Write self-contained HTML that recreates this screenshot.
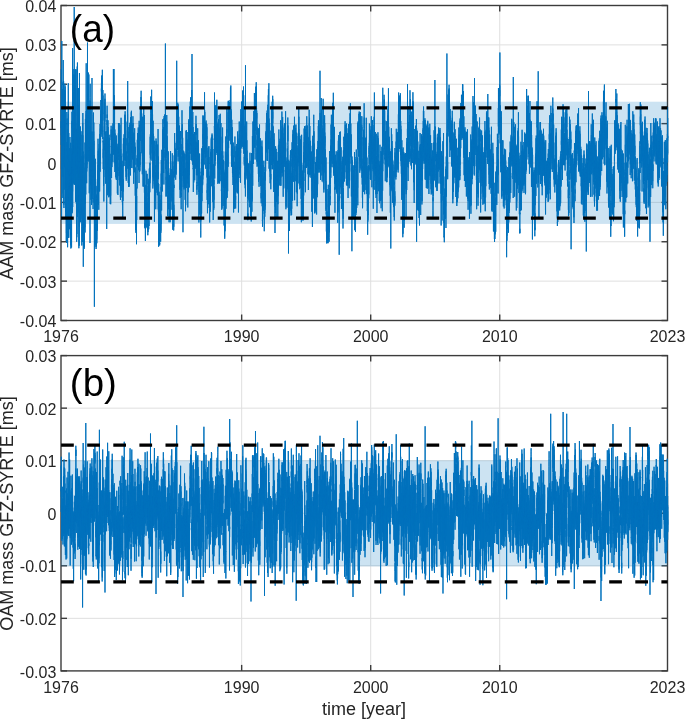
<!DOCTYPE html><html><head><meta charset="utf-8"><style>
html,body{margin:0;padding:0;background:#fff;width:685px;height:719px;overflow:hidden}
svg{display:block;font-family:"Liberation Sans",sans-serif;will-change:transform}
</style></head><body>
<svg width="685" height="719" viewBox="0 0 685 719">
<defs><clipPath id="ca"><rect x="60.20" y="5.50" width="608.10" height="315.00"/></clipPath>
<clipPath id="cb"><rect x="60.20" y="355.60" width="608.10" height="315.30"/></clipPath></defs>

<line x1="61.0" y1="44.88" x2="667.5" y2="44.88" stroke="#dfdfdf"/>
<line x1="61.0" y1="84.25" x2="667.5" y2="84.25" stroke="#dfdfdf"/>
<line x1="61.0" y1="123.62" x2="667.5" y2="123.62" stroke="#dfdfdf"/>
<line x1="61.0" y1="163.00" x2="667.5" y2="163.00" stroke="#dfdfdf"/>
<line x1="61.0" y1="202.38" x2="667.5" y2="202.38" stroke="#dfdfdf"/>
<line x1="61.0" y1="241.75" x2="667.5" y2="241.75" stroke="#dfdfdf"/>
<line x1="61.0" y1="281.13" x2="667.5" y2="281.13" stroke="#dfdfdf"/>
<line x1="241.66" y1="5.5" x2="241.66" y2="320.5" stroke="#dfdfdf"/>
<line x1="370.70" y1="5.5" x2="370.70" y2="320.5" stroke="#dfdfdf"/>
<line x1="499.74" y1="5.5" x2="499.74" y2="320.5" stroke="#dfdfdf"/>
<rect x="61.0" y="5.5" width="606.5" height="315.0" fill="none" stroke="#3c3c3c" stroke-width="1.4"/>
<line x1="61.0" y1="5.50" x2="67.0" y2="5.50" stroke="#3c3c3c" stroke-width="1.4"/>
<line x1="661.5" y1="5.50" x2="667.5" y2="5.50" stroke="#3c3c3c" stroke-width="1.4"/>
<line x1="61.0" y1="44.88" x2="67.0" y2="44.88" stroke="#3c3c3c" stroke-width="1.4"/>
<line x1="661.5" y1="44.88" x2="667.5" y2="44.88" stroke="#3c3c3c" stroke-width="1.4"/>
<line x1="61.0" y1="84.25" x2="67.0" y2="84.25" stroke="#3c3c3c" stroke-width="1.4"/>
<line x1="661.5" y1="84.25" x2="667.5" y2="84.25" stroke="#3c3c3c" stroke-width="1.4"/>
<line x1="61.0" y1="123.62" x2="67.0" y2="123.62" stroke="#3c3c3c" stroke-width="1.4"/>
<line x1="661.5" y1="123.62" x2="667.5" y2="123.62" stroke="#3c3c3c" stroke-width="1.4"/>
<line x1="61.0" y1="163.00" x2="67.0" y2="163.00" stroke="#3c3c3c" stroke-width="1.4"/>
<line x1="661.5" y1="163.00" x2="667.5" y2="163.00" stroke="#3c3c3c" stroke-width="1.4"/>
<line x1="61.0" y1="202.38" x2="67.0" y2="202.38" stroke="#3c3c3c" stroke-width="1.4"/>
<line x1="661.5" y1="202.38" x2="667.5" y2="202.38" stroke="#3c3c3c" stroke-width="1.4"/>
<line x1="61.0" y1="241.75" x2="67.0" y2="241.75" stroke="#3c3c3c" stroke-width="1.4"/>
<line x1="661.5" y1="241.75" x2="667.5" y2="241.75" stroke="#3c3c3c" stroke-width="1.4"/>
<line x1="61.0" y1="281.13" x2="67.0" y2="281.13" stroke="#3c3c3c" stroke-width="1.4"/>
<line x1="661.5" y1="281.13" x2="667.5" y2="281.13" stroke="#3c3c3c" stroke-width="1.4"/>
<line x1="61.0" y1="320.50" x2="67.0" y2="320.50" stroke="#3c3c3c" stroke-width="1.4"/>
<line x1="661.5" y1="320.50" x2="667.5" y2="320.50" stroke="#3c3c3c" stroke-width="1.4"/>
<line x1="241.66" y1="320.5" x2="241.66" y2="314.5" stroke="#3c3c3c" stroke-width="1.4"/>
<line x1="241.66" y1="5.5" x2="241.66" y2="11.5" stroke="#3c3c3c" stroke-width="1.4"/>
<line x1="370.70" y1="320.5" x2="370.70" y2="314.5" stroke="#3c3c3c" stroke-width="1.4"/>
<line x1="370.70" y1="5.5" x2="370.70" y2="11.5" stroke="#3c3c3c" stroke-width="1.4"/>
<line x1="499.74" y1="320.5" x2="499.74" y2="314.5" stroke="#3c3c3c" stroke-width="1.4"/>
<line x1="499.74" y1="5.5" x2="499.74" y2="11.5" stroke="#3c3c3c" stroke-width="1.4"/>
<rect x="61.0" y="101.7" width="606.5" height="122.20" fill="#0072BD" fill-opacity="0.2"/>
<g clip-path="url(#ca)"><path transform="translate(61.0,0) scale(0.035330,0.25)" fill="none" stroke="#0072BD" stroke-width="1.0" vector-effect="non-scaling-stroke" stroke-linejoin="round" d="M0 580l1-95 1 1 1 4 1 22 1-235 1 109 1 35 1 120 1-134 1 9 1 261 1-52 1-40 1 44 1 19 1 231 1-140 1-177 1 145 1-69 1 33 1 19 1-526 1 610 1-130 1 52 1 10 1-48 1-68 1 41 1 36 1-191 1 316 1-200 1-60 1 61 1-14 1-89 1-85 1 70 1-26 1 228 1-110 1 81 1-192 1 119 1-185 1-9 1 88 1 122 1-235 1 102 1-99 1 26 1-23 1 0 1 125 1 69 1-75 1-154 1 57 1-42 1-102 1 124 1 123 1 44 1 30 1-182 1 112 1 93 1-70 1-3 1-14 1-172 1 180 1 28 1 132 1-42 1 40 1 156 1-267 1 241 1-2 1 41 1-246 1-4 1-98 1 72 1 203 1-118 1-91 1 74 1-163 1 87 1 86 1-76 1-151 1 75 1 38 1 41 1-201 1 247 1-49 1-84 1 76 1-67 1 156 1 29 1 2 1-43 1-292 1 239 1 47 1-3 1-20 1-65 1 74 1-261 1 192 1 46 1-223 1 225 1 91 1-235 1 53 1 108 1-228 1 409 1-97 1 48 1 114 1-159 1 104 1-9 1 85 1-153 1 43 1 38 1 7 1-120 1-57 1 87 1 24 1 69 1-62 1-72 1 130 1-138 1 298 1-324 1 209 1-20 1 77 1 26 1-62 1-84 1 185 1-103 1-81 1-123 1 65 1-161 1 38 1-15 1 183 1-326 1 133 1 51 1-12 1 158 1-186 1 40 1-37 1-121 1 113 1 29 1-17 1 143 1-30 1 122 1-17 1-85 1 163 1-115 1 58 1-39 1 190 1-66 1-172 1-49 1 25 1-210 1 57 1-33 1 43 1 96 1-114 1 148 1 43 1-84 1 75 1-160 1-29 1 75 1-105 1-196 1 149 1 21 1-47 1 86 1 114 1 133 1-91 1 113 1-129 1 267 1-7 1-115 1 125 1-420 1 180 1 153 1-114 1 49 1 114 1-150 1-27 1 27 1-166 1 150 1-63 1 105 1-35 1 1 1-93 1 167 1 33 1-104 1-23 1 77 1-219 1 141 1-141 1 323 1-156 1 88 1 59 1-63 1-36 1-1 1-122 1-24 1-114 1 210 1-61 1 151 1-73 1-99 1 67 1 170 1-156 1-60 1 21 1 4 1 136 1-174 1 72 1-110 1 146 1-99 1 23 1 2 1-147 1 306 1-95 1 198 1-147 1 104 1 57 1-245 1 53 1 68 1 112 1-73 1-59 1-210 1 214 1-105 1-55 1 93 1 85 1-51 1 40 1-117 1-5 1 54 1 182 1-181 1 196 1-105 1-125 1-87 1-80 1 131 1-53 1-54 1 26 1-86 1-68 1-42 1 66 1-2 1-28 1 136 1-79 1-50 1 363 1-148 1-89 1-107 1 251 1-106 1 168 1-152 1 117 1 59 1-119 1-535 1 574 1-89 1 151 1-199 1 53 1-31 1 36 1 52 1-27 1-59 1 32 1-232 1-48 1 41 1 273 1-48 1-56 1 45 1-45 1 30 1 49 1-17 1-165 1-22 1 59 1 113 1 72 1-211 1 115 1-90 1-7 1-126 1-46 1 110 1-182 1 117 1-138 1 90 1 56 1 54 1 121 1-26 1-35 1 52 1 13 1-573 1 573 1-29 1-34 1 31 1-25 1 152 1 43 1-260 1 72 1-101 1 65 1-173 1 161 1 4 1-61 1-147 1 129 1 168 1-63 1-45 1-69 1 42 1 154 1-131 1 67 1-60 1-17 1 38 1-180 1 26 1 43 1 65 1-122 1 44 1 141 1-108 1 161 1 225 1-48 1-141 1-136 1 134 1 6 1-345 1 185 1-109 1 180 1 23 1-174 1-104 1 111 1 167 1 242 1-43 1-225 1 159 1-26 1 84 1 68 1-123 1-49 1 19 1-17 1-130 1 14 1 74 1 11 1 276 1 19 1 58 1-89 1-73 1 144 1-152 1 139 1-108 1 34 1-51 1-35 1-92 1 9 1-159 1 141 1-79 1-330 1 263 1-40 1 69 1-178 1-16 1-114 1 252 1 91 1 7 1-3 1 271 1-179 1-172 1-95 1 94 1 2 1 188 1 83 1-140 1 67 1 32 1-57 1-141 1 162 1-144 1-3 1-65 1-80 1 172 1-88 1 6 1-158 1 174 1 26 1 219 1-185 1 83 1 182 1-106 1 42 1-105 1 28 1-49 1-14 1 30 1 138 1 178 1-300 1 35 1 23 1 34 1 16 1 22 1-11 1-45 1 216 1-3 1-18 1-181 1 126 1-198 1 73 1-490 1 399 1 176 1-27 1-24 1-74 1-59 1 14 1-28 1 115 1-133 1 97 1-57 1 59 1-54 1-2 1 11 1-168 1 127 1-93 1 75 1 25 1 127 1-106 1-11 1 80 1-17 1-54 1-7 1-131 1-46 1 148 1 195 1 40 1-73 1 19 1-39 1 81 1-3 1-96 1 93 1-43 1-109 1 8 1 69 1-92 1-165 1 13 1 54 1 143 1-59 1 31 1-8 1-89 1 84 1-21 1 171 1-60 1 23 1-12 1-95 1 126 1-84 1-43 1 127 1-19 1 85 1 76 1-151 1-191 1 46 1-161 1 227 1-92 1 80 1 15 1-90 1 33 1-28 1-13 1 112 1 119 1 80 1-218 1 6 1-61 1 205 1-183 1-50 1 41 1-34 1-95 1-87 1 254 1-169 1-36 1 72 1-161 1 268 1-27 1-6 1 162 1-66 1-77 1-31 1-52 1 291 1-308 1 37 1 424 1-325 1-41 1 48 1-118 1 119 1 208 1-224 1 90 1 69 1-136 1 29 1 43 1-84 1 120 1 66 1 52 1 9 1-248 1 199 1-77 1 116 1-29 1 43 1-3 1-3 1-115 1 47 1-33 1-34 1 42 1 90 1-158 1 114 1-57 1-24 1-148 1 168 1-174 1 56 1-67 1 1 1 148 1 63 1-162 1-76 1 49 1-150 1 166 1 79 1-22 1 137 1-258 1-20 1 147 1-131 1-51 1 17 1-12 1-51 1-95 1 305 1-129 1-69 1-83 1 86 1 89 1 18 1-42 1-55 1 147 1 35 1-187 1 16 1 39 1 15 1-24 1 55 1-107 1 54 1-195 1 50 1-241 1 350 1-123 1-23 1 201 1-32 1-54 1-120 1 125 1-102 1 38 1-27 1-59 1 171 1 135 1-79 1 32 1-11 1-186 1 133 1 51 1-40 1-157 1 181 1-12 1-109 1-70 1-17 1 150 1-93 1 55 1-33 1-71 1 173 1 3 1 11 1-133 1-341 1 350 1-140 1 117 1 61 1-63 1 116 1 11 1-68 1-198 1 225 1-164 1-43 1 55 1 8 1 55 1-5 1 14 1-126 1 35 1 5 1 20 1 71 1-216 1 191 1 4 1 32 1 21 1-4 1 5 1 37 1-110 1 37 1-29 1-40 1 212 1-211 1 0 1-3 1-134 1 106 1 86 1 149 1-124 1 39 1 57 1 11 1 23 1-9 1 64 1 73 1-36 1-56 1-112 1 34 1 3 1 99 1-46 1-154 1 200 1-96 1 55 1-56 1-58 1 68 1-125 1-74 1 129 1 20 1-60 1 167 1 297 1-570 1 8 1 17 1-37 1-55 1 103 1 201 1-25 1-97 1 74 1 12 1-13 1 54 1-62 1-78 1 67 1-30 1 107 1 92 1-59 1 46 1-7 1-150 1 38 1 66 1 125 1-59 1-198 1-101 1 129 1 48 1 140 1-18 1-78 1-73 1 8 1 1 1 82 1 31 1 23 1-138 1 168 1-13 1 69 1-116 1 36 1-29 1-60 1-44 1-81 1 76 1-41 1 62 1 39 1-22 1-328 1 445 1-74 1 31 1 23 1-81 1 103 1 22 1-98 1 113 1-66 1-27 1-44 1-74 1 96 1 67 1-46 1-72 1-41 1-19 1 18 1 45 1-65 1 20 1 25 1-72 1-14 1 65 1 48 1 16 1 105 1 75 1-43 1 17 1-9 1-65 1-61 1 36 1-70 1-182 1 78 1-87 1 80 1-56 1 156 1 31 1-88 1 9 1-56 1 9 1 95 1 14 1-154 1 43 1 98 1-68 1 109 1 125 1-98 1-28 1-51 1 84 1-7 1 41 1-69 1-9 1 96 1 34 1 437 1-558 1-27 1 115 1 78 1-177 1 141 1 188 1-57 1-9 1 46 1 21 1-78 1-22 1-5 1 61 1-40 1-77 1 1 1 76 1-102 1-88 1-39 1 9 1 6 1 141 1-135 1-61 1 58 1 3 1 60 1 73 1 140 1-88 1-43 1 82 1-50 1-5 1 42 1 60 1 12 1-73 1-60 1 27 1 7 1 3 1 99 1 4 1 10 1-12 1-13 1 16 1-15 1-56 1-48 1-17 1 84 1-104 1 55 1 3 1 85 1-73 1-105 1 89 1 41 1 10 1 22 1-131 1 92 1-142 1 196 1-38 1-151 1 18 1 19 1-19 1-8 1-49 1 53 1 89 1-144 1 99 1-88 1 11 1-7 1-41 1 206 1-197 1 75 1-32 1-88 1 108 1 4 1-32 1-30 1-19 1-26 1 120 1-72 1-19 1-96 1 1 1-20 1-45 1 72 1 109 1-76 1 8 1 40 1-105 1 105 1 13 1 89 1-52 1 19 1 42 1-65 1 8 1-150 1 134 1-121 1 10 1-23 1 22 1-17 1 222 1-170 1-43 1 18 1-50 1 84 1-21 1-22 1 76 1 2 1-27 1-34 1 1 1-77 1 97 1 72 1-106 1-64 1 71 1 16 1 3 1 50 1-58 1-121 1 230 1-130 1-22 1 49 1-46 1 35 1-76 1 4 1 35 1 10 1-11 1-24 1-94 1 123 1 68 1-89 1 40 1-46 1-61 1-17 1 7 1 56 1-37 1-53 1 10 1 64 1 10 1-4 1-104 1-6 1 80 1-63 1-53 1-11 1-10 1 82 1-7 1 24 1 38 1-9 1-68 1-18 1 105 1-69 1-15 1 62 1-108 1 1 1-33 1-31 1 12 1-35 1 99 1 0 1 35 1-34 1 2 1-30 1-101 1 41 1-27 1 38 1-30 1 19 1-20 1-11 1 27 1-15 1 38 1-33 1 66 1 54 1-97 1 99 1-44 1-91 1-37 1 81 1-21 1 50 1 36 1 8 1-12 1-11 1 41 1 71 1 4 1-4 1 34 1-98 1-7 1 31 1-122 1 95 1-73 1 57 1 77 1 33 1 20 1-3 1-4 1 114 1-106 1-6 1 67 1-36 1 40 1-25 1 69 1 38 1-38 1-16 1 80 1-61 1-4 1-31 1-62 1 123 1-42 1 140 1-156 1-67 1-24 1-6 1-5 1 33 1 25 1 73 1-50 1-34 1-24 1 29 1-49 1-11 1-35 1 34 1-24 1-53 1-53 1 124 1-57 1-64 1 26 1-12 1 19 1 41 1-14 1-40 1-37 1 1 1 76 1-98 1 37 1 18 1 10 1 51 1 31 1 27 1-8 1 45 1-59 1 78 1-63 1 4 1-10 1 68 1-47 1 75 1 9 1-15 1-43 1 37 1-11 1 127 1-73 1-97 1 97 1-23 1 94 1-99 1 22 1-47 1-49 1 15 1 27 1 126 1-68 1 29 1 4 1-16 1-94 1 62 1-6 1-59 1 53 1 74 1-51 1-9 1-33 1-60 1 362 1-297 1-95 1 22 1 49 1-16 1 28 1-27 1-100 1 21 1-28 1-50 1 49 1-14 1 103 1-58 1 68 1 61 1 149 1-97 1-12 1-59 1-17 1-6 1 59 1-12 1-59 1-20 1 108 1-43 1-64 1 1 1 117 1-26 1-10 1-85 1-75 1 102 1-75 1 43 1 40 1-13 1 30 1-37 1-9 1 12 1 15 1 21 1-8 1 93 1-13 1-68 1 81 1 56 1-14 1 52 1-64 1-40 1 41 1 26 1 19 1-72 1 9 1-34 1 19 1-26 1-56 1 50 1-94 1-28 1 119 1 4 1-11 1 66 1-75 1 144 1-149 1-15 1-71 1 96 1-42 1 40 1 3 1 36 1-67 1 54 1 47 1-11 1-14 1-20 1 50 1-18 1-34 1 88 1 5 1 14 1-73 1 11 1-14 1 102 1 12 1-120 1 20 1 34 1-32 1 74 1-120 1 30 1 5 1-1 1 77 1-7 1-56 1 97 1-35 1-17 1-49 1-15 1-86 1 12 1 50 1-91 1 2 1-12 1-5 1-68 1 57 1-42 1 31 1-12 1 127 1-34 1 22 1-21 1 53 1-127 1 108 1 42 1 5 1-85 1 39 1 3 1-62 1 36 1-22 1 47 1-18 1-69 1-17 1 39 1-2 1-77 1 23 1 27 1 10 1 6 1-44 1 10 1 31 1-54 1 26 1 69 1-96 1 50 1-45 1 35 1-42 1 7 1 33 1-47 1 72 1 22 1-17 1-78 1-15 1 85 1 57 1-85 1-71 1 59 1-27 1 93 1-11 1-66 1 17 1 60 1-120 1 79 1-56 1-245 1 323 1-20 1 16 1-80 1-18 1 0 1 12 1-36 1 35 1 15 1-79 1-64 1 3 1 28 1-12 1 101 1-224 1 149 1 47 1-91 1 74 1 33 1-30 1 7 1 37 1-26 1 30 1-13 1 14 1 14 1 99 1-56 1-147 1 233 1-132 1 74 1 34 1-36 1-11 1-61 1 32 1 138 1-71 1-69 1 13 1 7 1-34 1 52 1 7 1 22 1-11 1-7 1 39 1-65 1 94 1-44 1-8 1-44 1 22 1 4 1 3 1-32 1 9 1 72 1 17 1 11 1 5 1-76 1 32 1 72 1-92 1-46 1 32 1 11 1 13 1 53 1-38 1 77 1-77 1 41 1 30 1-83 1-87 1 59 1 75 1-121 1 7 1 108 1 35 1-50 1-23 1-11 1-33 1 90 1-11 1-17 1 18 1 52 1-78 1-35 1-7 1 110 1-50 1-70 1 34 1-49 1 90 1-80 1 42 1 49 1 61 1 37 1-41 1-116 1 18 1-8 1 76 1-49 1-58 1 88 1 6 1-36 1 52 1 14 1-13 1-19 1 54 1 38 1-111 1 3 1 33 1-49 1-15 1-28 1 26 1-8 1-51 1 4 1-12 1-34 1-5 1 83 1-124 1 43 1-3 1 5 1-38 1 37 1-12 1 73 1-23 1 38 1-36 1 29 1-67 1 35 1-47 1 158 1-53 1 8 1-36 1-84 1 107 1-134 1 26 1-12 1 115 1-22 1-26 1 54 1 75 1-98 1 93 1-61 1 45 1 10 1-52 1 103 1-119 1-81 1 53 1-45 1-30 1 160 1-181 1 60 1 70 1 59 1 9 1 29 1-45 1-11 1 13 1-66 1 3 1 74 1-4 1 99 1-88 1 99 1-105 1-82 1 81 1 9 1-62 1 15 1 30 1-90 1 6 1 22 1 22 1 24 1 78 1-21 1-3 1-29 1-224 1 268 1 13 1-128 1 64 1 26 1-69 1 29 1 36 1-42 1 96 1-38 1-27 1 48 1-12 1 20 1-66 1 22 1 7 1 7 1-26 1-27 1 10 1 24 1-29 1 42 1 10 1 61 1-35 1-62 1 67 1-103 1 104 1-18 1-1 1 59 1 7 1-5 1-6 1 0 1 24 1-59 1 6 1-48 1 45 1-28 1 99 1 24 1 11 1-79 1-32 1-81 1-36 1 81 1 80 1-43 1-12 1-14 1-19 1 8 1 42 1-152 1 39 1 3 1-16 1-65 1 53 1-75 1 63 1 35 1-21 1-46 1 52 1 23 1 6 1-41 1 32 1 6 1-15 1-80 1 77 1 20 1-44 1-28 1-19 1-36 1 49 1-24 1 61 1-5 1 1 1 1 1-12 1-21 1 27 1-9 1-54 1-17 1 19 1 88 1-62 1-10 1-88 1 56 1-29 1-14 1 67 1-99 1 37 1-27 1-14 1 7 1 39 1 0 1 34 1-93 1 13 1 48 1-2 1 36 1 29 1-107 1 19 1 19 1 57 1 0 1 43 1 18 1-57 1 60 1-100 1 122 1-28 1-19 1-41 1 39 1 46 1-22 1 67 1-76 1 24 1-8 1 53 1-17 1 47 1-26 1 41 1-4 1-42 1-29 1-3 1 71 1-87 1 17 1-22 1-10 1 3 1-12 1 98 1 4 1-4 1-14 1-64 1-3 1 50 1-34 1 2 1-2 1-85 1 29 1-15 1-9 1-35 1-37 1 34 1 22 1 18 1 54 1-99 1-24 1 17 1-8 1-83 1 194 1-156 1 55 1 81 1 1 1-268 1 183 1 32 1 4 1 2 1 49 1 62 1 4 1 16 1-50 1 14 1-67 1 7 1 45 1 48 1-40 1 99 1-58 1-59 1 75 1 36 1-31 1 5 1-12 1-24 1 31 1-12 1 65 1-43 1-57 1-53 1 85 1-64 1 64 1-172 1 44 1-25 1 78 1-31 1-4 1 54 1 123 1-130 1 47 1-64 1 4 1 20 1-22 1-20 1-65 1-16 1 85 1-33 1 0 1 19 1-47 1 0 1 84 1 55 1-27 1-13 1-71 1-62 1 124 1-60 1 10 1 16 1-51 1 13 1 97 1-19 1 22 1 23 1-6 1 13 1-26 1 45 1 10 1-59 1-20 1-51 1-10 1-51 1 41 1-18 1-64 1 96 1-11 1-76 1-11 1 23 1 82 1 75 1-94 1-40 1 19 1 4 1-5 1 13 1-64 1 84 1-116 1 88 1-54 1-40 1 65 1 15 1 42 1 19 1-70 1 81 1-82 1 43 1 66 1 50 1-58 1-19 1-12 1 27 1-79 1 7 1 75 1-28 1 35 1-13 1-24 1-32 1 82 1-49 1 18 1 23 1-64 1 2 1 69 1-49 1-11 1 59 1 7 1-138 1 103 1-14 1-21 1-20 1 8 1-52 1 36 1-45 1-15 1-15 1 40 1-13 1 48 1 39 1-49 1 96 1 46 1-86 1 22 1 25 1-82 1 77 1 49 1-51 1-24 1 44 1-21 1-37 1 8 1 123 1 16 1-92 1 1 1 23 1-79 1 50 1 12 1-78 1-40 1 5 1 73 1-14 1 1 1 44 1 28 1-57 1-63 1 43 1 29 1-8 1 6 1 43 1 27 1-1 1-99 1 35 1-22 1-19 1-70 1 88 1 8 1-8 1 12 1-43 1 38 1-16 1-2 1 6 1 13 1 37 1 13 1-72 1 64 1 35 1 64 1 33 1-113 1 53 1 13 1 12 1 7 1 93 1-27 1 35 1 64 1-83 1 43 1-73 1-19 1 30 1 36 1 77 1-4 1-8 1-69 1 45 1-45 1 26 1-52 1-34 1 21 1 28 1-27 1-63 1 125 1-58 1 92 1-4 1-51 1-41 1 165 1-64 1-22 1-76 1-17 1-14 1 96 1-105 1-24 1-18 1-32 1-42 1-9 1-17 1 30 1 91 1-1 1-54 1-4 1-50 1-24 1 40 1-102 1 95 1-1 1 14 1-28 1 2 1-7 1 14 1-13 1 3 1-106 1 34 1 40 1-13 1-43 1 79 1 22 1-29 1-39 1-20 1 24 1-5 1-19 1 65 1-80 1-13 1-22 1-3 1 27 1 47 1-18 1-9 1 104 1-62 1-13 1 63 1 32 1-70 1-18 1 15 1 8 1-9 1-44 1-37 1 69 1-11 1 31 1-26 1-43 1 62 1 124 1-194 1 32 1-87 1 60 1-28 1 38 1 24 1-37 1 40 1 33 1-90 1-24 1 135 1 1 1-2 1 55 1-1 1-40 1 21 1-34 1-30 1-27 1-35 1 141 1-75 1 30 1-6 1 15 1 4 1 9 1-51 1 27 1-72 1-8 1-43 1 51 1-89 1-49 1 116 1-91 1 99 1-97 1-6 1 9 1 41 1-18 1-39 1 31 1-21 1-13 1 25 1-46 1 99 1 4 1-131 1 12 1 33 1-43 1-27 1 57 1 53 1-25 1 38 1-23 1 36 1-4 1 30 1-4 1-62 1-1 1 37 1-9 1 1 1 17 1-45 1-5 1 98 1 21 1-14 1 54 1-42 1-85 1-20 1 45 1 6 1 36 1-7 1-28 1 88 1-20 1-48 1 159 1-162 1 70 1-4 1 24 1-42 1 8 1 52 1-25 1 5 1-44 1-108 1 73 1-62 1-14 1 110 1 43 1 62 1-120 1 50 1-5 1-50 1 38 1 98 1 52 1-91 1 20 1 6 1 65 1-69 1-78 1 50 1-50 1-1 1-64 1 80 1 33 1 24 1-73 1-22 1-114 1-31 1 142 1 57 1 35 1-29 1-31 1-23 1-91 1-5 1-17 1 115 1 38 1-47 1 37 1 38 1 24 1 45 1-259 1 268 1 43 1-36 1 7 1 11 1-6 1 12 1-71 1-11 1 17 1 69 1 59 1 45 1 46 1-21 1 15 1-164 1 72 1 40 1-72 1 32 1 14 1 31 1-65 1 42 1-62 1-2 1 87 1 6 1 98 1-89 1 64 1 18 1-65 1 10 1-74 1 86 1-64 1-84 1 6 1 85 1-57 1-28 1 10 1-41 1 28 1-34 1-52 1 106 1-50 1 35 1-18 1 21 1 28 1 88 1-70 1 87 1-142 1 16 1 18 1 77 1-11 1-69 1 0 1 81 1-74 1-39 1 100 1-97 1 26 1-49 1-51 1 41 1-42 1 119 1 74 1-36 1 11 1-4 1 5 1-24 1-31 1 21 1 35 1-54 1 6 1 15 1-12 1 10 1 47 1-16 1-48 1 24 1 55 1 17 1-101 1 110 1-11 1 34 1-39 1 15 1-6 1 17 1-79 1-56 1 53 1-73 1-29 1 43 1-72 1 48 1 25 1-18 1-2 1-29 1-16 1 14 1 11 1 46 1 39 1-66 1 17 1 41 1 92 1-183 1 170 1-22 1 22 1-40 1-71 1-50 1 9 1-19 1 74 1-55 1 43 1 10 1 3 1-36 1 13 1-111 1 193 1-105 1 7 1-26 1-9 1 20 1-2 1-65 1 33 1 3 1-52 1 5 1 7 1 39 1 47 1-92 1-26 1 82 1-12 1-34 1-5 1 32 1-58 1 2 1-111 1 72 1-22 1-60 1 12 1 84 1-50 1-6 1 27 1-8 1 23 1 14 1-106 1 61 1-74 1-22 1-106 1 68 1 88 1 71 1-113 1 139 1-148 1-17 1 18 1-2 1 25 1-33 1 10 1 61 1-63 1 37 1 49 1-27 1 20 1-60 1-2 1-64 1 5 1-50 1-39 1 76 1-15 1 58 1 1 1 67 1-21 1-93 1 50 1 43 1-22 1 75 1-37 1-47 1 62 1 88 1-35 1-109 1-40 1 29 1-55 1 63 1-23 1-70 1 89 1 9 1-45 1 4 1 70 1 46 1 38 1 0 1 7 1-15 1 18 1 129 1-181 1 43 1-30 1 85 1-6 1 43 1-76 1-149 1 91 1 79 1 61 1-72 1 22 1-9 1-58 1-62 1 103 1-7 1 6 1 1 1-3 1 11 1-75 1-26 1 22 1 14 1 29 1 58 1 55 1-119 1-11 1-31 1 1 1 77 1 34 1-34 1 6 1 2 1 89 1-68 1 77 1-116 1-19 1-6 1 282 1-141 1 3 1-51 1-17 1-9 1 50 1-76 1 64 1-71 1 28 1-103 1 50 1 112 1 76 1-19 1 4 1-53 1 34 1-18 1-63 1 92 1-36 1 26 1-27 1-3 1 20 1-20 1 50 1-102 1 25 1 49 1-19 1-9 1-1 1 43 1 0 1 62 1-17 1-109 1-48 1-3 1 22 1-17 1 18 1-129 1 47 1-22 1 34 1 32 1-15 1-33 1 27 1-59 1 57 1-39 1 112 1 16 1-6 1-17 1 72 1-82 1 6 1-103 1 147 1-57 1 71 1-85 1 44 1 31 1-56 1 95 1-60 1-28 1 48 1-30 1 12 1 28 1-19 1-31 1 48 1 1 1 35 1 6 1-53 1 43 1 9 1-46 1-31 1-50 1 26 1-101 1 63 1 75 1-72 1-8 1 82 1-53 1-41 1 81 1-76 1 47 1-160 1 134 1 66 1-18 1-9 1 149 1-17 1-64 1-24 1 3 1 0 1 111 1-80 1 144 1-136 1-6 1 218 1-165 1-43 1-43 1 39 1 74 1-56 1 34 1-10 1 63 1-37 1-14 1 11 1 20 1-93 1 3 1 60 1 45 1-31 1 25 1 5 1 90 1-7 1-2 1-17 1-24 1 33 1 15 1 5 1 15 1-10 1 5 1-17 1-32 1 1 1-46 1-103 1 36 1 96 1 5 1 4 1 23 1-76 1 58 1-125 1 66 1-69 1 90 1 31 1 15 1-40 1-78 1 68 1-18 1 11 1-27 1-24 1 48 1 93 1-86 1 41 1-53 1-2 1-10 1 69 1 5 1-68 1 33 1-5 1-43 1-13 1-10 1-78 1 90 1-143 1 65 1-119 1 192 1-17 1-42 1-88 1 48 1 28 1 25 1-4 1 60 1-92 1-6 1-71 1 28 1-72 1-30 1 55 1 3 1 68 1-36 1-27 1-5 1 58 1-24 1 27 1-13 1 5 1 32 1 24 1-56 1-18 1 5 1-69 1 93 1-14 1 29 1-55 1-76 1 52 1-139 1 87 1-32 1-12 1 46 1-130 1 37 1 45 1 36 1 19 1-43 1-13 1 38 1-24 1-1 1 40 1-4 1-82 1 82 1-27 1 50 1-120 1 124 1-86 1-40 1 82 1-15 1-54 1 151 1 20 1-92 1 9 1 34 1-34 1 35 1 94 1-168 1-51 1-46 1 5 1 17 1-31 1 66 1 60 1-27 1 6 1-27 1-8 1 41 1 16 1-28 1 10 1-64 1 46 1-97 1 56 1-3 1 0 1-36 1 29 1 78 1-5 1-17 1 46 1 24 1-72 1-11 1-48 1 81 1-41 1-51 1 87 1-20 1-44 1 29 1-20 1 56 1-402 1 365 1 64 1 12 1-33 1 51 1-76 1 14 1 63 1 42 1-61 1-7 1-33 1 19 1-39 1 80 1 17 1 91 1 4 1 40 1-93 1-29 1 54 1-12 1 77 1-143 1 54 1-62 1-94 1 7 1-45 1-8 1 32 1 69 1-57 1 79 1-35 1-39 1 81 1-163 1 58 1 17 1-35 1-14 1 92 1 37 1-50 1-20 1 16 1 0 1 44 1-15 1 97 1-4 1 44 1-7 1 32 1 0 1-40 1 26 1-18 1 24 1-56 1 107 1-14 1 84 1-162 1 45 1-30 1 14 1 2 1-36 1 34 1 45 1-173 1 10 1 68 1-22 1-51 1 7 1 35 1 22 1 69 1-43 1-8 1 146 1-203 1 12 1 76 1-30 1 33 1 17 1 8 1-23 1-36 1 27 1-45 1 80 1 21 1-19 1-11 1 81 1-38 1-20 1 122 1-49 1-17 1-37 1 43 1 0 1-49 1-68 1 72 1-65 1 36 1 40 1-94 1 12 1 26 1-1 1 93 1-11 1 27 1 32 1-20 1-47 1 16 1 38 1-83 1-16 1-16 1 53 1-58 1 60 1-60 1 143 1-64 1-13 1-65 1 76 1 12 1-58 1 17 1-90 1 43 1-10 1-133 1 31 1 49 1 52 1-92 1 45 1 48 1 14 1 34 1 22 1-31 1-18 1 45 1-4 1-119 1 57 1-47 1-11 1-2 1 36 1-14 1 75 1-56 1 28 1-25 1 56 1-66 1 46 1 34 1-94 1 72 1-44 1 32 1 18 1-37 1-27 1 6 1-25 1 93 1 9 1 45 1-23 1-2 1-63 1-69 1 23 1 30 1-58 1 6 1-70 1 89 1 2 1-53 1 104 1 57 1 10 1 47 1-61 1-32 1-35 1-46 1 76 1 148 1-208 1 80 1-83 1-22 1 21 1-61 1 54 1 52 1 7 1-75 1 53 1-51 1 82 1-51 1-8 1 57 1 75 1 4 1-57 1 65 1 53 1-51 1-47 1 58 1-35 1 15 1 76 1-57 1 42 1-88 1 4 1 17 1 19 1 14 1-89 1-45 1 13 1-26 1-25 1-37 1 42 1-85 1 89 1-55 1-29 1-4 1 11 1 22 1-20 1 16 1-62 1-7 1-34 1-16 1 70 1-30 1 66 1 57 1-2 1-67 1 52 1-5 1 24 1-84 1 50 1-48 1 50 1-38 1-26 1 49 1-11 1 20 1 5 1-22 1 26 1-36 1-19 1 57 1-66 1 0 1 0 1-9 1 25 1 99 1-98 1 57 1-70 1 10 1 76 1-78 1-5 1 56 1 31 1 1 1-37 1 14 1-69 1-36 1 73 1-53 1 6 1 68 1-68 1-32 1 92 1-146 1 52 1 38 1 4 1 35 1-61 1-336 1 317 1-54 1 87 1-57 1-57 1 43 1 9 1-78 1 20 1 55 1-70 1 103 1 14 1-33 1-50 1 49 1-52 1 24 1 15 1 72 1-40 1-108 1 11 1 38 1 22 1-34 1-39 1 14 1-19 1-34 1 80 1-48 1-5 1-21 1 112 1 26 1 45 1-5 1 15 1 36 1-43 1 24 1-100 1-108 1 65 1-23 1-27 1 41 1 121 1-87 1-39 1 111 1-42 1 1 1-31 1 36 1 13 1-91 1 51 1 1 1 16 1 23 1 9 1 54 1-25 1 22 1-4 1-21 1-17 1-38 1 14 1 30 1-22 1-23 1-35 1 112 1 24 1-49 1 38 1 19 1-14 1 41 1 39 1-81 1-15 1 100 1-73 1 22 1-57 1 71 1 80 1-17 1-70 1-23 1-36 1 78 1 101 1-101 1 9 1 6 1-65 1-26 1-48 1 12 1-55 1 21 1 6 1 46 1 43 1 1 1 14 1 43 1 54 1-7 1 34 1-91 1-84 1 69 1-26 1 57 1-39 1 36 1 81 1 17 1 22 1 16 1-66 1 17 1-113 1 46 1-37 1 68 1-71 1-1 1 12 1 67 1 6 1-99 1 10 1 48 1-61 1-37 1 123 1-94 1-79 1 7 1 35 1-56 1-45 1-76 1 113 1-37 1-2 1-4 1 102 1 36 1-75 1-77 1 28 1 1 1 73 1 24 1 5 1-49 1 13 1-5 1 13 1 14 1-63 1 51 1 28 1-17 1-6 1 97 1-4 1-26 1-20 1 275 1-273 1-54 1 28 1 23 1 29 1-2 1-7 1-46 1-3 1 14 1-26 1 27 1 75 1-30 1-16 1-16 1 26 1-40 1 24 1 25 1-34 1 80 1-64 1-3 1-43 1-17 1 31 1 95 1 6 1 20 1-31 1 22 1-44 1-12 1 17 1-81 1 31 1-46 1 50 1 18 1 28 1-46 1 28 1 1 1 59 1-27 1-47 1 15 1 22 1-50 1-12 1 21 1 10 1 54 1-20 1-36 1 33 1-3 1 9 1-15 1 27 1 67 1-85 1 20 1-17 1-45 1 51 1 73 1-30 1-13 1 26 1 65 1-82 1 1 1-12 1 24 1 45 1-85 1 5 1-41 1-4 1-22 1 61 1-70 1-142 1 116 1-23 1 78 1-60 1-14 1 25 1 29 1-52 1-48 1 3 1-57 1 80 1-3 1 10 1 117 1-56 1-45 1 27 1 102 1-53 1 7 1-30 1 38 1 18 1-61 1-44 1 4 1-74 1 64 1-52 1 0 1 34 1-75 1 82 1 6 1-17 1-2 1-25 1-9 1 62 1-50 1 49 1 69 1 20 1-56 1-8 1 2 1 16 1 12 1 36 1 115 1-124 1-16 1-17 1 62 1-50 1 32 1-35 1-14 1-58 1 91 1 14 1-10 1-54 1 59 1-27 1 86 1-61 1-102 1-30 1 24 1-40 1-9 1-31 1 25 1-62 1 86 1-35 1-23 1 17 1-51 1 62 1 22 1 45 1-90 1 185 1-43 1-37 1 32 1 7 1 19 1 71 1-126 1 50 1-99 1 34 1-2 1-32 1 40 1-22 1-14 1-84 1 40 1 36 1-75 1-70 1 46 1 95 1-31 1 14 1-55 1 66 1 79 1-38 1-74 1 22 1 31 1-23 1 57 1-84 1-60 1-65 1 37 1 60 1-66 1 86 1-23 1 55 1-71 1-10 1-85 1 83 1 8 1 17 1-7 1 35 1-58 1-1 1-41 1 13 1 32 1 13 1 95 1-55 1-23 1 41 1-7 1-20 1 1 1 40 1-1 1-50 1 20 1 70 1-20 1 67 1-96 1 74 1-104 1-81 1 45 1-17 1-2 1-6 1-94 1 83 1 5 1-48 1-16 1-168 1 151 1 152 1-49 1 64 1 37 1-14 1 89 1-48 1-68 1 23 1 31 1-1 1 26 1-48 1-49 1 71 1 25 1-24 1 14 1-8 1-19 1-24 1-99 1 83 1 70 1 59 1-10 1-20 1-122 1 74 1 73 1-6 1 14 1 8 1 6 1-5 1 96 1-35 1-118 1 62 1-50 1 17 1-9 1-28 1-24 1-47 1 99 1 22 1-7 1 64 1 16 1-113 1 71 1-39 1 1 1-44 1 49 1-24 1 47 1-49 1-35 1-54 1 20 1 30 1 4 1 41 1-25 1-24 1 32 1-90 1 9 1 49 1-57 1 78 1-11 1 14 1 111 1-23 1-25 1-24 1-46 1 42 1-5 1-64 1-27 1 121 1-3 1-78 1 6 1 5 1 68 1-34 1 41 1-38 1 5 1-21 1-2 1 13 1-65 1 74 1-50 1 14 1 48 1-54 1 16 1 18 1-103 1 95 1-1 1-41 1 40 1-160 1 77 1-36 1 10 1 22 1-34 1-4 1-2 1 109 1 43 1 17 1-61 1-37 1 134 1-112 1 21 1 81 1-6 1-12 1 5 1-68 1 54 1 18 1-4 1-40 1 16 1 105 1-20 1 40 1-51 1 6 1-113 1 7 1 53 1 1 1-58 1-53 1 78 1 51 1-85 1 84 1-70 1 3 1 9 1-16 1 12 1 49 1-50 1-30 1-93 1 110 1 46 1-50 1 51 1-45 1 66 1-80 1 30 1 38 1 15 1 50 1-48 1 7 1-42 1-72 1-2 1 42 1-22 1 28 1-4 1-38 1 74 1-106 1 75 1 2 1 39 1 19 1-46 1 21 1 33 1 67 1 26 1 4 1 89 1-112 1-18 1 8 1-121 1 24 1-11 1 101 1-68 1 12 1-78 1 4 1 123 1 34 1-5 1-6 1-29 1 18 1-9 1-90 1-53 1 6 1 11 1 70 1-5 1-23 1 103 1-65 1 43 1 12 1 0 1 93 1-108 1 75 1 28 1-23 1-74 1 25 1 12 1-30 1 47 1 26 1-133 1 42 1 37 1 37 1-55 1 28 1-19 1-72 1 130 1 54 1-37 1 101 1-28 1-74 1-14 1 46 1-98 1-28 1 95 1 8 1-62 1-32 1-48 1 89 1-115 1 4 1-7 1 45 1 26 1 35 1-37 1-40 1-10 1 61 1-1 1 89 1-80 1-102 1 4 1-83 1 60 1 50 1 64 1 5 1-37 1 70 1-132 1 9 1-46 1 27 1 47 1-10 1-40 1-15 1 23 1 5 1 55 1-53 1-41 1-22 1-28 1 77 1 39 1 35 1-41 1 47 1-48 1 25 1-2 1-71 1 41 1-103 1-46 1 18 1-41 1-53 1 51 1 32 1 33 1-113 1 129 1-78 1-4 1 44 1 95 1-105 1 73 1 83 1-99 1 56 1-6 1 13 1-90 1-7 1-99 1 54 1-33 1-15 1 131 1-67 1 70 1-49 1-94 1 26 1-20 1 73 1 12 1-31 1 76 1-39 1 95 1-85 1 15 1-32 1-28 1-54 1-2 1 46 1-149 1 135 1 83 1-94 1-52 1 106 1-99 1 86 1 42 1-54 1 20 1 43 1-10 1 14 1-2 1 29 1-16 1-62 1 36 1-4 1-15 1 3 1 72 1-24 1-32 1 41 1-7 1-51 1-37 1-30 1 62 1 34 1-15 1 47 1 57 1-36 1-18 1-42 1 23 1-70 1 53 1 27 1-4 1-16 1-110 1 104 1-52 1 10 1-30 1-20 1 61 1-35 1 74 1-29 1 18 1-58 1 1 1-30 1 73 1-34 1-26 1-1 1-12 1 60 1-11 1 83 1-119 1 5 1 145 1 51 1-119 1 94 1 30 1 45 1 38 1 2 1-39 1 11 1-38 1 7 1 68 1 0 1 15 1 29 1-46 1 1 1-38 1-59 1 0 1 54 1-71 1-7 1 33 1 12 1 19 1-53 1 47 1-77 1 42 1-81 1 6 1 68 1 8 1-109 1 135 1-70 1 2 1 42 1-62 1-23 1 11 1-17 1 49 1-21 1 22 1 1 1-20 1-62 1 62 1 26 1-25 1 165 1-175 1-58 1 36 1 36 1-28 1 57 1 55 1-17 1 27 1 35 1 47 1-93 1 50 1-18 1-68 1 48 1 36 1-11 1 3 1 37 1-22 1-31 1 72 1 55 1-44 1-39 1-26 1 21 1-7 1 33 1-57 1 4 1-39 1 8 1-16 1 5 1-14 1 14 1 67 1-44 1 91 1-145 1-17 1 34 1 3 1-28 1 53 1-68 1 76 1-8 1-25 1 7 1-64 1 43 1-101 1 105 1-20 1-44 1 52 1-40 1 55 1-79 1-40 1 71 1-6 1-53 1 31 1-61 1-24 1 113 1 5 1-109 1-14 1 83 1-64 1 87 1-48 1 41 1-3 1 0 1 47 1 53 1-11 1-100 1-67 1 29 1 60 1-72 1-10 1-30 1-10 1 60 1-53 1 136 1-55 1 11 1 26 1-22 1-28 1 34 1 15 1 12 1-82 1 103 1 0 1 5 1 81 1-5 1-97 1 87 1 3 1 17 1 3 1-13 1 36 1-53 1 12 1 16 1-17 1-36 1 26 1 34 1-5 1 95 1-119 1-43 1 58 1 34 1-70 1-19 1-48 1-10 1-6 1 66 1 35 1-1 1-7 1 35 1 55 1-63 1-37 1 93 1-65 1-23 1 54 1-80 1 20 1-143 1 0 1 104 1-22 1-45 1-79 1 0 1 6 1-12 1-44 1 5 1 4 1 10 1-153 1 161 1-53 1 40 1 73 1 56 1 34 1 33 1-105 1-17 1-56 1 40 1 18 1 69 1-57 1-23 1 4 1-30 1 86 1-52 1-10 1 20 1-26 1 2 1-66 1 32 1 13 1-17 1 21 1 5 1-82 1-22 1 15 1 0 1-41 1 1 1 29 1-43 1 130 1-39 1 58 1-150 1 79 1 12 1-60 1 2 1 17 1 0 1 70 1 36 1-147 1 94 1-20 1 31 1 77 1-86 1 14 1 12 1-35 1 45 1-55 1-43 1 19 1-56 1 40 1 7 1-75 1 118 1-31 1 61 1 26 1 47 1-127 1 52 1 3 1-7 1-45 1 47 1-18 1 5 1 33 1-23 1 19 1-47 1 45 1 57 1 13 1-3 1-1 1 24 1-65 1 14 1-44 1 34 1 2 1 146 1 2 1-90 1-43 1 52 1-12 1-21 1-26 1 77 1-19 1 11 1-16 1-17 1 99 1-30 1-29 1-195 1 90 1 65 1-2 1-71 1 4 1 7 1 54 1-101 1-44 1 141 1-58 1-18 1-7 1 16 1 2 1-32 1 11 1-51 1-23 1 86 1 29 1 55 1-18 1 7 1 43 1-13 1 19 1 15 1 12 1 39 1-87 1-11 1-40 1 16 1 7 1 30 1-82 1-26 1 14 1 21 1 41 1-106 1 133 1 9 1-109 1-29 1 52 1 19 1 11 1-18 1-75 1-49 1 100 1 19 1-65 1 126 1-33 1 77 1-80 1 42 1 16 1-12 1-43 1 25 1 4 1 94 1-24 1-79 1-46 1-29 1 90 1-145 1 123 1 59 1 1 1 5 1-4 1-72 1 95 1-47 1 10 1 71 1-3 1 34 1-6 1 14 1 39 1-111 1 41 1-29 1 114 1-53 1 57 1 9 1-36 1-27 1-78 1 23 1 23 1-135 1 135 1 2 1 88 1-104 1-8 1-40 1 15 1 27 1-5 1-35 1-33 1-42 1 13 1-55 1-42 1 31 1 15 1-61 1 33 1 124 1-45 1 12 1-29 1 86 1 43 1 0 1-93 1 26 1 47 1 103 1 7 1-24 1-39 1-71 1 52 1 4 1-9 1 15 1-89 1-7 1 45 1-53 1-9 1 65 1 44 1-33 1 2 1-14 1-11 1-48 1 55 1-20 1 3 1 4 1 29 1 10 1-20 1 121 1 76 1-124 1-3 1-38 1-29 1 85 1 11 1-20 1 34 1-126 1 89 1 58 1 24 1 18 1 9 1 59 1-20 1-4 1-41 1 71 1-81 1-37 1 69 1-46 1-39 1-18 1 50 1-166 1 162 1 76 1-122 1 71 1-50 1-59 1-78 1 44 1-125 1 148 1-109 1 76 1-66 1 8 1-10 1 53 1-46 1 16 1-28 1-26 1-76 1 91 1 34 1 36 1-48 1 63 1-37 1-34 1 184 1-124 1 20 1 9 1-117 1 125 1 21 1-65 1-8 1 101 1-50 1-68 1 75 1-6 1 8 1-88 1 29 1 31 1-72 1 29 1-44 1-34 1-177 1 128 1-41 1 121 1-32 1 136 1-119 1 25 1 47 1 21 1-83 1 121 1 27 1 10 1-67 1-41 1-40 1 69 1 48 1-51 1 38 1-91 1-9 1 35 1 67 1 16 1-79 1-69 1 32 1-82 1 98 1-17 1-55 1 75 1-60 1-65 1 49 1-143 1 82 1-44 1-12 1-47 1-25 1 77 1-74 1 142 1-82 1-36 1 87 1-50 1 64 1 62 1-85 1 41 1-2 1-52 1 68 1-97 1 30 1 24 1 24 1-73 1-32 1 57 1-56 1 16 1 59 1-62 1 74 1-56 1-61 1 30 1-32 1 48 1-46 1 39 1 26 1 23 1-38 1 37 1 4 1-69 1 0 1 18 1 17 1-30 1 13 1 29 1 83 1-77 1-27 1 27 1-25 1-60 1 8 1 48 1 46 1-44 1-23 1-1 1-6 1-12 1-53 1-12 1 3 1-5 1 31 1 20 1 55 1 3 1 12 1 19 1 88 1-95 1-140 1 112 1-2 1 23 1 27 1 31 1-96 1 70 1-19 1 57 1-59 1-40 1 56 1-19 1 41 1 83 1 16 1 2 1-19 1-3 1-71 1 135 1-106 1 39 1-60 1 35 1 20 1-45 1-22 1-49 1 132 1 29 1-108 1 29 1 78 1-31 1 6 1 14 1-69 1 72 1-15 1-36 1-71 1 60 1 21 1-7 1 109 1-20 1-52 1 63 1-87 1 87 1-79 1-7 1 8 1 11 1-43 1 69 1 66 1-1 1 27 1 6 1-68 1 26 1-51 1-22 1-55 1 64 1 8 1 67 1-35 1-18 1 33 1-67 1 99 1-28 1-45 1 42 1 71 1 89 1-97 1 9 1-55 1-9 1 42 1 64 1-63 1-48 1 87 1-85 1 17 1 23 1 25 1-17 1 30 1-126 1 108 1 36 1-84 1 85 1-20 1 18 1-38 1 83 1-98 1-72 1 19 1 24 1 18 1 2 1-61 1 26 1 61 1-94 1-74 1 43 1-83 1 33 1 6 1-1 1 58 1 46 1 62 1-2 1-36 1 21 1 41 1-40 1 12 1-65 1 22 1 27 1-9 1 34 1 35 1 9 1-15 1 50 1-38 1-44 1-90 1 50 1-108 1 39 1-13 1 2 1 35 1 6 1 62 1-85 1-25 1 42 1-5 1-26 1 19 1 57 1-13 1-37 1 55 1 13 1-25 1-57 1 25 1 18 1-105 1 98 1-24 1-39 1-45 1 25 1 24 1-2 1 5 1 52 1 45 1-60 1 102 1-95 1 101 1-79 1 59 1 15 1-8 1-18 1-24 1-17 1-69 1 100 1-119 1-87 1 51 1 3 1 72 1 12 1 80 1-26 1 15 1 40 1-74 1-82 1 99 1 39 1-105 1-43 1 105 1-90 1 57 1-10 1-38 1-37 1 21 1-20 1 30 1-33 1 138 1-72 1 192 1-107 1-40 1 25 1-89 1-40 1 66 1-12 1-45 1 38 1-68 1-23 1 54 1-45 1 56 1 38 1-53 1 46 1 61 1-131 1-59 1 37 1-73 1 71 1-20 1 10 1 73 1-61 1-16 1 106 1-17 1 6 1 42 1-8 1-19 1-69 1 19 1-43 1 79 1-45 1 4 1-43 1 112 1-16 1 48 1-2 1-8 1 5 1-62 1 28 1 18 1-50 1 4 1 52 1-1 1-48 1 50 1 46 1-170 1 111 1-71 1 11 1-20 1-50 1-6 1-19 1-80 1 55 1 34 1-26 1-6 1 61 1-17 1-32 1 67 1-23 1 36 1-47 1 55 1-121 1 64 1-77 1 7 1-11 1 66 1-30 1-27 1 46 1 38 1-31 1-112 1 102 1 24 1 14 1 8 1-46 1-11 1 34 1-2 1-6 1-39 1 0 1 1 1-10 1 17 1-43 1 7 1 43 1 33 1-11 1-66 1 26 1 106 1-115 1-1 1 6 1-59 1-56 1 64 1 48 1-9 1 21 1-15 1-43 1-26 1-22 1 60 1-15 1-26 1-26 1 103 1-79 1 78 1-8 1-44 1 70 1 102 1-79 1-38 1 50 1-32 1 98 1-110 1-138 1 172 1-47 1 36 1-64 1-28 1-34 1 63 1 19 1 67 1-33 1 63 1 56 1-111 1 32 1-101 1 115 1-33 1 94 1-44 1 47 1 4 1 43 1-34 1 20 1-27 1 36 1-74 1 63 1-86 1-54 1 97 1 37 1-14 1 10 1-37 1-24 1 33 1 71 1 57 1-46 1 19 1 30 1-4 1-13 1-30 1-48 1 80 1 29 1-44 1-41 1 17 1-1 1 47 1 55 1-132 1-393 1 379 1 78 1-104 1-39 1 53 1 52 1 11 1-49 1 16 1 20 1-28 1 3 1-30 1 80 1-62 1-69 1 21 1-37 1 9 1 21 1-56 1 91 1-6 1 34 1-42 1 10 1-22 1 82 1 1 1-32 1-57 1-18 1-55 1-30 1 60 1 56 1 30 1-71 1 90 1 28 1-77 1 51 1 12 1 48 1-58 1 34 1 29 1-75 1 55 1-49 1-16 1 51 1-47 1 27 1 17 1 28 1 70 1 14 1-62 1-37 1 67 1-12 1 34 1-8 1 35 1 71 1-11 1-16 1 22 1-51 1-12 1-72 1 24 1-99 1-11 1 10 1 86 1-22 1-48 1-10 1 55 1-36 1 54 1-90 1 32 1-26 1 67 1 6 1 39 1-116 1 98 1-59 1 37 1 50 1-46 1 53 1 10 1-67 1 11 1-7 1-17 1 1 1-39 1 21 1 21 1-23 1 105 1-70 1 4 1 71 1-69 1-54 1 57 1 17 1-36 1 48 1-47 1-33 1 136 1-15 1-80 1 6 1-5 1-56 1 40 1-69 1-39 1 69 1-37 1 32 1-14 1-6 1 52 1 56 1-14 1 23 1-2 1-11 1-64 1 29 1 76 1 27 1-64 1 0 1-26 1 21 1 106 1-8 1-128 1 53 1-47 1 46 1 12 1-36 1 13 1 44 1-47 1 22 1 58 1 0 1-13 1 53 1-94 1 25 1-49 1-3 1-116 1 34 1 40 1-111 1 126 1 33 1-3 1-135 1 145 1 8 1-28 1-68 1 107 1-11 1 30 1 3 1 28 1-99 1 25 1 18 1 15 1-23 1 11 1-20 1 17 1-100 1 15 1-23 1 4 1-143 1 154 1-59 1 36 1 14 1-66 1-9 1 56 1 26 1 47 1-40 1-46 1-50 1-3 1-118 1 117 1-28 1 51 1 28 1-67 1-33 1 70 1-19 1 15 1 34 1-106 1 107 1-14 1-121 1 22 1-27 1-33 1 79 1 55 1-26 1-13 1 15 1-47 1-42 1-15 1 24 1-12 1-56 1 96 1 13 1 37 1-59 1-24 1-27 1 16 1-25 1 30 1-54 1 8 1 30 1-113 1 0 1 43 1 21 1 14 1-53 1 190 1-101 1 31 1-6 1 19 1-62 1 86 1-114 1-18 1 5 1 70 1-6 1 25 1 75 1-38 1 85 1-27 1-40 1-30 1 3 1 13 1-30 1-23 1-32 1 40 1 10 1-22 1 18 1-116 1 64 1-23 1-19 1 4 1-81 1 95 1 12 1-39 1 17 1-62 1 82 1 46 1-44 1 15 1-6 1-70 1 36 1-87 1-13 1 86 1-69 1 107 1 8 1-63 1 46 1-1 1-74 1 66 1-2 1 27 1 14 1-32 1 7 1 8 1 82 1-87 1 91 1 40 1-24 1 88 1-26 1-31 1 77 1-82 1 57 1-26 1 14 1-123 1 74 1-46 1 3 1-5 1 19 1 97 1-61 1 49 1-80 1-3 1 88 1-68 1-57 1 102 1-19 1 43 1-74 1 38 1-6 1-17 1-8 1 88 1-44 1-20 1 7 1 56 1-8 1-44 1-58 1 32 1 93 1 18 1-66 1-117 1 167 1 47 1-33 1 13 1-17 1-1 1-5 1 8 1-79 1 33 1-10 1 24 1 1 1-2 1-7 1 32 1 63 1-50 1-11 1-44 1 66 1-142 1 33 1-63 1 66 1 20 1-49 1-23 1 7 1-59 1 5 1 121 1 30 1-4 1-31 1-1 1 12 1 21 1 7 1 0 1-43 1-28 1 26 1 20 1-3 1-10 1 17 1 16 1 11 1-35 1 8 1 84 1-168 1 117 1 20 1 10 1 40 1 4 1-29 1-99 1 72 1-24 1-10 1-20 1-1 1-67 1 86 1 11 1-79 1 92 1-11 1-79 1 105 1-29 1 76 1 26 1 49 1-41 1 22 1-37 1-22 1 56 1-46 1 11 1-1 1 21 1-93 1 54 1 2 1 7 1-116 1 69 1-110 1 55 1-1 1-57 1 42 1-17 1 31 1-80 1 88 1 118 1-71 1 13 1 115 1-120 1 3 1-87 1 151 1-51 1 54 1 109 1-5 1 28 1-52 1-45 1 7 1-43 1 94 1-30 1 18 1-63 1 0 1 10 1-11 1 49 1-62 1 64 1-182 1 137 1-18 1-41 1-1 1 72 1-80 1 12 1 26 1-40 1 22 1-2 1 50 1 44 1-105 1 62 1-29 1 42 1-57 1-37 1 2 1-15 1 22 1-84 1 187 1-5 1-19 1-27 1 12 1-28 1 2 1 58 1-23 1 33 1 35 1 57 1-58 1 11 1-72 1-37 1-3 1 54 1-23 1-61 1 2 1-50 1 79 1-2 1 87 1-19 1-61 1 95 1-80 1-80 1 42 1 90 1-79 1 65 1-34 1-44 1-45 1-34 1 17 1-8 1 23 1-31 1 39 1-39 1 53 1-80 1 2 1-30 1-3 1 50 1 21 1 3 1-100 1-13 1 50 1 21 1-84 1 11 1 72 1-117 1 86 1-33 1-41 1-5 1 25 1 5 1 11 1 4 1-79 1-7 1 81 1-23 1 44 1-9 1 7 1-61 1-78 1 23 1-2 1-13 1 50 1-16 1 20 1 92 1-76 1-62 1 114 1-25 1-14 1-37 1-31 1 50 1-83 1 38 1 46 1-5 1 10 1 26 1-34 1-28 1 6 1 4 1 117 1 22 1-96 1 10 1 55 1-120 1 58 1-77 1-8 1 3 1-21 1-29 1 26 1-17 1 64 1 79 1-76 1 57 1-25 1-4 1-3 1 56 1-101 1 12 1-106 1 44 1-51 1-18 1 48 1 24 1 3 1 34 1 131 1 1 1-70 1 31 1-30 1-123 1-19 1-45 1-8 1 19 1 154 1-32 1 32 1 1 1 1 1 38 1 27 1 102 1-18 1-70 1 63 1 24 1-93 1-73 1 167 1-145 1 38 1 28 1 48 1-152 1 193 1-75 1-9 1-43 1 22 1 47 1-106 1 73 1 45 1-69 1-46 1 136 1 35 1 38 1-108 1-1 1-3 1 36 1 51 1-35 1-6 1-31 1 35 1-43 1 33 1-110 1 125 1-16 1 21 1-7 1-3 1 47 1-22 1 61 1-121 1 14 1-47 1 72 1-119 1 12 1 54 1-21 1-29 1 49 1-53 1 33 1-62 1-2 1-3 1-25 1-85 1 37 1 16 1 16 1 2 1-26 1 84 1-13 1 120 1-84 1 44 1-44 1 0 1-64 1 6 1 4 1 6 1-3 1-55 1 26 1-89 1 8 1 67 1-31 1 119 1-12 1-31 1-36 1 96 1 12 1 3 1-24 1 99 1-64 1-166 1 27 1-91 1 110 1-96 1 137 1 73 1-86 1 11 1-29 1 57 1 14 1-9 1-58 1 58 1 12 1 31 1 42 1-32 1 28 1-36 1 30 1-52 1 8 1-30 1 5 1 13 1 54 1-22 1 17 1 25 1 52 1 58 1-54 1 29 1-57 1 64 1-112 1 2 1-74 1-8 1 77 1-102 1 57 1 52 1 35 1-83 1-1 1 23 1 6 1 92 1-71 1-45 1 4 1 49 1-27 1 131 1-14 1 22 1-116 1 55 1 45 1-35 1 27 1-56 1-55 1-21 1 325 1-259 1 19 1 54 1-26 1 107 1-78 1 56 1-67 1 7 1 100 1 7 1-11 1-30 1-60 1 27 1-84 1-109 1 34 1 16 1 19 1 20 1 14 1-68 1 46 1-14 1-57 1 53 1-52 1 50 1-22 1 25 1 5 1 222 1-234 1 3 1 51 1-61 1 104 1-58 1 87 1-58 1 36 1 22 1-97 1 59 1 67 1 11 1-59 1-38 1-39 1 69 1-27 1-106 1 82 1 52 1 22 1-20 1-15 1-1 1-15 1 57 1-77 1 66 1-29 1-29 1 81 1-93 1 6 1-52 1 52 1 32 1-3 1-9 1 42 1-59 1-44 1 68 1-3 1 74 1 79 1-177 1 122 1-88 1-34 1 34 1 56 1-42 1-2 1-43 1-43 1 45 1-7 1-15 1 0 1 30 1-97 1-29 1 172 1-64 1 8 1-11 1-63 1-45 1 23 1 69 1-16 1-56 1 34 1-107 1-8 1 77 1 49 1-58 1 32 1-13 1-10 1 44 1 8 1-41 1 33 1 102 1-15 1-67 1 51 1-129 1-1 1 0 1-16 1 49 1-12 1 64 1-20 1-28 1-5 1-8 1 60 1-51 1 26 1-26 1 60 1-118 1 26 1 56 1-39 1 106 1-35 1 74 1-118 1 4 1 51 1-79 1 9 1 4 1 42 1 55 1 14 1-99 1-71 1 34 1-108 1 71 1 78 1-37 1 82 1-46 1 82 1-71 1 40 1 29 1 34 1-33 1-100 1 3 1 78 1-22 1-84 1 62 1-23 1-101 1 48 1 12 1 49 1-18 1 18 1-109 1 117 1-37 1-19 1-39 1 5 1 129 1-123 1-8 1-10 1-3 1-89 1 101 1 43 1-8 1-37 1-42 1 1 1 202 1-76 1-24 1-40 1 58 1 19 1 46 1 2 1-66 1 43 1-64 1 24 1-54 1 41 1-147 1 72 1-42 1 75 1 109 1-63 1-67 1 31 1 101 1-123 1 22 1 45 1 33 1 19 1 69 1 38 1-68 1-22 1-26 1-35 1 20 1-70 1 112 1-85 1 2 1-47 1 55 1-7 1 66 1 5 1-7 1 74 1-187 1-16 1 51 1-23 1 10 1-45 1-11 1 74 1 14 1-79 1-29 1 70 1-28 1-48 1 1 1 64 1 95 1-96 1-28 1-50 1 25 1 28 1 23 1 78 1-43 1-39 1 17 1-72 1 33 1 53 1-47 1-13 1 17 1 19 1-46 1 35 1 2 1 93 1-52 1-4 1-12 1 5 1 29 1 77 1 52 1-128 1 38 1-28 1-12 1 32 1-67 1-141 1 161 1-36 1 145 1-4 1 0 1-83 1 54 1 69 1 86 1-99 1-40 1-10 1 1 1 137 1-100 1 50 1-116 1-17 1 23 1 58 1 7 1 54 1-46 1-73 1 56 1 8 1 78 1-70 1 28 1-35 1 39 1-10 1-23 1-12 1-80 1 93 1-33 1-22 1 148 1-15 1-86 1-46 1-38 1 84 1-97 1 37 1 86 1-125 1-37 1 2 1 27 1 20 1 9 1 1 1-7 1 27 1-21 1 9 1-33 1-17 1-29 1-57 1-55 1 60 1 35 1-63 1 19 1 43 1 5 1 8 1 25 1 67 1 78 1-20 1 33 1-43 1 29 1-94 1 63 1-23 1 77 1 245 1-264 1 45 1-53 1 24 1-53 1-12 1 57 1-119 1 33 1 53 1 35 1-17 1-7 1 71 1 5 1 19 1 43 1-134 1 53 1 45 1 46 1-11 1 36 1-87 1 43 1 21 1 38 1-148 1-34 1 11 1-20 1-31 1 109 1-44 1 68 1-7 1-76 1-68 1 90 1-130 1 55 1-22 1 22 1 57 1-103 1 102 1-5 1-18 1 67 1-47 1-17 1-83 1-30 1-3 1 66 1-84 1 179 1-115 1 45 1-71 1 49 1-40 1 79 1-42 1 23 1 64 1 71 1-5 1-12 1-70 1 50 1 56 1-143 1 95 1-61 1 25 1-72 1 112 1 33 1-56 1-20 1-6 1 3 1 17 1-10 1-15 1 8 1 88 1-9 1-53 1 37 1-82 1 0 1-62 1 20 1-61 1-54 1 35 1-25 1 14 1-51 1 98 1-32 1 41 1 48 1-120 1 35 1 25 1 0 1-60 1-8 1 65 1-8 1-24 1-55 1 229 1-195 1 35 1-17 1-21 1 7 1 32 1-63 1-44 1 118 1-15 1-79 1 14 1 13 1-69 1 55 1-40 1-12 1 79 1 44 1 38 1 24 1-4 1 24 1-54 1-56 1 6 1-35 1 11 1 9 1 19 1-31 1 3 1-6 1-91 1 66 1 79 1-4 1-81 1 31 1 15 1-47 1-57 1 90 1-54 1 24 1 13 1 58 1-77 1 53 1-25 1 15 1-28 1-106 1 122 1 9 1 45 1 43 1 115 1-218 1-66 1 81 1-66 1-31 1 74 1 68 1-118 1 125 1-33 1-22 1 20 1-45 1 61 1 93 1-57 1-48 1-5 1 22 1 26 1-33 1-16 1 12 1-1 1-27 1-37 1 8 1-56 1 31 1 24 1-17 1-20 1 78 1 11 1-17 1-56 1-48 1 188 1-99 1 36 1 80 1 16 1-19 1 6 1 21 1-59 1 13 1 4 1 84 1-56 1-32 1-109 1 70 1 3 1 25 1-3 1-43 1 62 1-155 1 129 1-13 1 27 1-18 1 63 1-89 1-40 1 16 1 104 1-72 1 103 1 84 1-55 1-22 1-10 1-43 1-47 1 127 1-35 1 27 1 4 1-83 1-7 1 55 1 7 1-80 1 19 1 53 1-34 1-22 1-11 1-49 1-37 1 39 1 112 1-108 1 40 1-21 1-18 1 21 1-70 1-33 1 32 1-3 1-15 1 0 1-22 1 66 1-2 1 49 1-39 1-51 1 58 1-16 1-5 1-80 1 53 1-140 1 74 1 31 1-67 1 101 1 1 1 38 1-39 1 11 1-47 1 71 1-3 1-32 1-8 1 53 1-52 1 58 1 58 1-4 1-44 1-22 1 3 1-57 1 136 1-21 1 56 1-22 1 37 1-49 1 67 1-2 1-47 1-67 1 3 1-101 1 124 1-43 1 19 1-61 1 28 1-11 1-21 1 127 1-95 1 24 1-62 1 26 1 55 1-35 1-34 1-26 1 47 1 32 1 58 1 24 1 10 1-12 1 36 1-86 1-44 1 24 1 40 1 34 1 14 1 4 1-22 1-40 1 67 1 50 1-37 1 38 1-4 1 49 1 49 1-58 1-27 1 15 1-22 1-56 1-4 1-46 1-152 1 125 1 24 1-9 1 62 1-82 1 107 1-10 1 58 1 37 1-12 1-36 1-22 1-54 1 30 1-24 1-37 1 58 1 41 1 7 1 5 1 20 1-73 1-55 1-16 1 80 1 72 1 32 1-65 1 55 1-40 1 31 1-62 1-51 1 98 1 9 1-33 1 21 1 53 1-54 1-5 1 47 1-98 1 12 1 4 1 65 1-104 1-64 1-34 1 76 1-20 1 81 1-44 1-99 1 158 1-45 1-17 1-35 1 75 1-75 1-48 1-11 1-28 1 103 1-60 1 28 1-32 1-51 1 23 1 20 1-137 1 105 1-51 1 30 1 50 1-6 1-58 1 42 1-77 1 47 1-19 1 40 1 15 1-86 1 0 1-41 1 70 1 26 1 29 1-27 1-45 1 24 1-6 1-18 1-53 1 13 1 58 1 10 1-56 1 29 1 76 1 36 1-41 1 64 1 30 1-6 1 0 1 51 1-39 1 17 1-50 1 8 1 2 1-23 1-29 1-139 1 94 1 0 1 17 1-22 1 33 1-5 1 0 1-50 1-57 1-24 1 25 1 69 1-39 1 77 1-48 1-57 1 18 1 36 1 24 1-5 1 3 1 66 1-43 1 36 1-41 1 48 1-92 1 90 1-60 1 24 1-168 1 106 1 97 1-27 1 4 1 19 1-53 1 10 1-53 1 18 1 6 1-36 1-2 1-9 1-43 1 38 1 50 1-56 1 33 1-6 1 16 1-50 1 44 1 19 1-3 1-23 1 34 1 12 1 25 1-55 1 16 1-10 1 12 1 38 1 22 1 39 1-86 1 34 1-51 1 8 1 11 1 52 1 32 1-14 1 77 1-4 1-31 1-66 1 12 1 56 1-32 1-22 1-35 1 20 1-109 1 150 1-45 1-32 1-49 1 39 1 97 1-11 1-13 1-82 1-60 1-4 1-24 1-76 1 35 1 55 1 42 1 28 1-105 1 108 1-35 1-18 1-51 1 14 1-41 1 137 1-36 1 48 1-17 1-17 1 59 1-25 1-58 1-58 1 195 1-8 1-22 1 32 1-50 1-18 1-29 1-10 1 93 1-80 1 90 1-123 1 45 1-15 1 29 1 4 1 46 1 1 1-121 1 113 1-66 1 76 1-18 1-56 1 30 1-59 1 100 1-77 1 54 1 8 1-5 1 3 1-53 1 97 1-72 1-28 1 101 1-35 1-70 1 44 1 15 1 30 1-38 1 7 1-50 1 69 1-29 1-4 1-39 1 72 1-21 1 22 1 13 1-3 1 153 1-138 1-56 1 11 1 40 1-50 1 71 1-51 1-11 1-8 1 95 1 16 1-8 1-6 1-52 1 28 1-34 1 214 1-154 1-39 1 42 1-128 1 47 1 28 1-6 1-41 1 10 1-25 1-50 1-49 1 41 1 25 1-30 1-23 1 162 1-145 1 66 1 23 1-33 1-25 1 96 1-42 1-21 1 157 1-182 1-62 1 26 1-21 1 8 1 77 1 66 1-66 1-107 1 16 1-40 1-50 1 36 1 28 1 132 1-41 1 4 1-56 1-37 1 40 1 15 1 5 1-4 1 9 1 7 1-23 1 10 1 58 1 71 1 71 1-61 1-20 1 7 1 65 1 20 1-1 1 0 1 59 1-44 1-20 1-9 1-70 1-16 1 159 1-81 1 52 1-67 1-50 1 35 1 57 1-7 1-11 1-16 1 13 1 14 1 54 1-59 1 24 1-43 1 10 1-73 1 38 1 65 1-68 1 9 1-7 1-92 1 110 1-112 1 98 1-7 1-26 1 45 1-26 1-53 1 53 1-79 1 76 1-10 1-70 1-22 1 12 1 43 1-10 1 61 1 5 1-20 1-14 1-69 1 31 1 62 1 20 1 110 1-73 1-46 1-3 1-92 1-47 1 25 1 8 1 13 1 35 1 56 1-75 1 20 1 53 1 18 1-15 1-24 1 78 1-41 1 19 1 13 1-60 1-45 1 20 1-22 1-59 1 130 1-49 1-3 1 15 1 30 1-30 1-66 1-23 1-5 1-25 1 89 1-113 1 98 1 30 1-93 1 7 1 59 1-34 1 57 1-41 1-91 1-8 1-36 1-8 1 115 1-98 1-40 1 92 1-5 1 13 1-6 1 100 1-52 1 40 1-129 1 76 1-65 1-27 1-13 1 27 1 13 1-20 1 27 1 44 1 15 1-71 1 79 1-99 1-4 1-2 1 2 1 20 1-18 1 106 1 25 1 28 1-36 1-40 1-42 1 21 1-14 1 46 1 78 1-72 1-45 1 76 1-18 1-101 1 24 1-15 1-256 1 245 1-34 1 54 1-96 1 134 1 14 1 46 1-71 1-4 1 28 1 0 1-11 1 68 1 6 1 58 1-63 1-86 1 54 1-11 1-18 1-27 1-76 1-14 1-16 1 145 1-61 1-33 1-45 1 41 1-3 1-26 1-19 1 23 1-8 1-85 1 74 1-17 1-12 1 39 1-25 1 130 1-41 1 21 1-31 1-7 1 74 1-77 1 136 1-75 1-21 1-11 1 65 1-10 1 98 1-95 1 13 1-27 1-3 1 42 1 7 1 87 1-101 1 58 1-4 1-40 1 5 1 9 1-50 1-47 1 25 1-62 1 23 1 15 1-7 1 36 1 20 1-87 1 27 1-33 1 43 1 10 1-65 1 8 1 24 1 17 1-123 1 71 1 1 1-104 1 233 1-78 1 77 1 103 1-115 1-65 1-14 1 99 1-80 1 137 1 8 1-67 1-7 1-13 1 32 1-55 1 98 1-10 1 80 1-95 1 107 1-66 1-2 1-4 1-70 1-52 1-49 1 43 1-85 1-9 1 21 1 9 1 90 1-41 1-6 1 118 1-177 1 104 1-36 1 25 1-26 1-96 1 122 1-91 1 78 1-40 1 39 1 42 1 79 1-53 1-37 1 40 1-95 1 50 1 44 1 11 1-52 1 35 1-7 1-18 1 114 1-81 1-18 1 109 1-92 1-10 1-13 1 17 1 24 1 8 1 1 1 22 1-2 1 90 1-21 1 48 1-80 1 56 1 1 1 54 1 9 1-18 1-196 1 193 1 14 1-60 1 14 1 67 1-12 1 19 1 61 1-38 1-9 1 7 1-6 1 74 1 1 1-31 1 22 1-33 1 61 1-79 1 41 1-49 1 29 1 13 1 26 1-85 1 34 1-148 1 125 1 3 1 40 1-5 1 46 1 5 1-1 1-103 1 57 1-14 1 58 1 4 1-1 1-58 1 50 1 10 1-44 1-82 1 74 1-29 1 32 1-29 1 76 1-7 1-4 1-12 1 26 1-5 1-45 1-3 1 11 1-2 1-36 1-29 1-125 1 90 1-12 1 90 1 54 1-120 1 105 1 7 1-10 1-61 1 26 1-68 1 65 1-141 1 116 1-15 1 1 1 66 1-91 1-71 1 80 1-3 1 29 1 42 1 49 1-7 1-10 1-180 1 80 1 16 1 61 1-56 1-96 1 17 1 7 1-49 1-52 1-25 1-45 1-24 1 61 1-10 1 45 1 0 1-34 1 18 1 16 1 20 1-23 1-30 1 60 1 71 1-14 1 37 1-83 1 36 1-135 1 97 1-30 1 13 1-4 1-41 1-50 1-4 1 19 1 9 1 43 1-67 1 44 1-86 1 84 1-52 1 97 1-89 1-36 1 12 1 16 1-24 1-92 1 84 1 46 1 18 1-89 1 39 1-4 1 1 1 49 1-91 1-92 1 81 1-18 1 34 1 12 1 3 1 3 1-62 1 59 1-1 1-41 1-36 1 34 1-6 1 71 1 23 1-5 1-7 1-22 1 24 1 1 1 63 1-109 1 13 1 82 1-13 1-7 1-67 1 47 1-8 1-106 1 65 1-62 1-8 1 96 1 44 1-104 1-49 1-28 1 5 1-49 1 52 1 36 1 18 1 4 1-34 1 31 1 8 1-103 1 154 1-70 1-57 1 17 1 9 1 25 1-130 1 143 1-48 1 5 1 103 1-35 1 17 1 114 1-23 1 45 1-28 1 20 1-62 1 81 1-78 1-22 1 90 1-88 1-74 1 36 1-2 1 88 1-146 1 88 1-83 1-3 1 43 1-6 1-36 1 76 1 32 1 45 1-14 1-53 1 114 1-11 1 8 1-60 1 46 1 42 1-2 1-9 1-20 1 56 1-11 1 52 1 50 1-122 1-8 1-22 1-22 1-19 1-14 1 24 1 0 1 69 1-77 1 24 1-41 1 27 1-13 1 10 1-8 1 46 1-86 1 56 1-20 1 25 1 70 1 6 1-93 1 35 1 10 1-68 1 57 1-46 1 7 1-11 1 14 1 12 1-68 1 75 1 70 1-77 1 49 1-19 1 1 1 33 1-31 1 22 1-58 1-14 1 24 1 73 1-50 1 67 1-38 1-24 1 30 1-42 1 25 1-55 1 62 1-17 1 16 1 2 1 47 1-24 1-72 1 40 1-66 1-46 1-1 1 80 1 72 1 11 1-8 1-54 1 20 1-23 1-23 1 73 1-76 1 47 1 165 1-106 1 64 1-65 1 66 1-139 1 8 1 16 1 79 1-57 1-62 1-95 1 145 1-77 1-20 1 6 1-4 1-16 1-71 1 83 1-68 1-6 1-17 1 16 1 6 1 77 1-46 1-34 1 53 1-87 1 73 1 16 1 16 1 83 1-62 1 18 1-120 1 71 1-88 1 164 1-98 1 140 1 266 1-337 1 17 1 66 1-19 1-6 1 62 1-4 1-62 1 53 1-22 1 28 1-127 1-19 1-32 1-89 1 155 1-47 1 4 1-32 1-63 1 2 1-3 1 35 1 45 1-22 1-10 1-40 1 61 1 30 1-28 1-6 1-25 1-58 1 79 1-4 1 76 1-100 1 48 1 1 1-14 1-18 1 14 1 72 1-27 1 95 1-61 1-28 1 6 1 11 1-10 1-21 1 131 1-57 1-130 1 155 1 10 1-44 1-22 1 66 1 27 1 11 1-8 1 52 1-89 1-26 1 52 1-61 1 38 1 46 1-26 1-73 1 58 1-13 1-27 1 21 1-38 1 65 1-19 1-52 1 40 1-20 1 54 1-85 1-11 1 49 1-16 1-14 1 53 1-47 1 81 1-64 1 88 1-40 1 84 1-209 1 87 1 66 1 27 1 4 1-192 1 24 1 39 1 17 1 68 1-21 1 54 1-55 1 161 1-98 1-43 1 102 1-118 1 79 1-48 1-13 1-12 1-13 1-96 1-53 1 119 1-35 1 31 1 18 1-27 1-55 1-25 1-12 1-29 1-39 1 18 1 1 1 42 1 73 1-7 1-9 1-15 1-26 1-18 1 56 1-44 1-9 1-10 1 22 1 24 1-33 1 76 1 28 1-58 1 1 1 67 1-90 1 16 1-6 1-31 1-11 1 31 1-100 1 153 1-68 1 95 1-108 1-17 1 58 1-66 1-11 1 25 1-111 1 81 1 53 1 18 1-74 1-12 1-27 1-25 1 121 1-15 1-99 1 102 1-10 1 63 1-63 1 7 1-76 1 2 1 54 1-20 1-28 1 70 1-70 1 53 1 6 1 35 1-95 1 116 1-85 1 55 1-23 1-40 1 91 1-114 1 84 1 70 1-56 1-3 1 110 1-157 1-48 1-42 1 37 1-18 1 77 1-36 1-3 1 15 1-53 1 179 1-67 1 102 1-64 1-55 1 55 1 53 1-27 1 21 1 33 1-39 1-54 1 14 1-87 1 47 1-4 1-53 1 7 1-41 1 68 1 34 1-56 1 31 1 40 1-9 1 5 1-42 1 38 1 25 1 75 1-26 1-31 1 37 1-17 1-39 1 126 1-83 1 2 1-27 1-15 1-17 1 3 1-99 1 79 1 58 1-44 1-22 1-43 1-34 1-54 1 29 1 35 1 4 1 37 1-43 1 43 1 25 1-36 1-70 1 76 1-18 1-24 1 3 1-33 1 22 1 37 1 43 1-60 1 58 1 7 1 122 1-256 1 195 1-106 1 61 1-160 1 116 1 26 1-41 1 134 1-71 1 35 1-4 1-44 1-46 1-32 1-7 1 35 1-71 1 66 1-118 1-12 1 121 1-34 1 6 1-38 1 60 1-22 1-55 1 2 1-17 1-63 1 57 1 30 1 62 1-20 1 31 1 0 1-2 1-26 1 7 1-12 1 80 1-7 1-119 1 94 1 41 1-22 1-6 1-40 1 93 1-27 1-59 1 21 1-52 1 9 1 94 1 69 1 40 1 37 1-21 1-93 1 25 1 45 1 42 1-70 1 16 1 35 1-21 1-64 1-14 1 71 1-22 1 16 1 274 1-236 1-88 1 64 1-119 1 101 1 27 1 29 1-22 1-30 1-58 1-14 1-2 1 45 1-45 1-16 1 176 1 6 1-17 1 34 1-79 1 106 1-38 1 23 1 14 1-77 1 15 1 1 1-38 1 14 1 43 1-55 1 65 1-125 1 118 1-81 1 4 1 20 1 49 1 52 1-102 1-66 1 7 1 28 1-30 1-22 1-6 1 48 1-10 1-6 1-4 1-45 1-2 1 109 1-19 1 12 1-43 1 91 1-72 1-10 1 58 1-31 1 73 1 27 1-34 1-56 1-87 1 140 1-112 1 74 1-9 1-62 1-4 1 58 1-156 1 99 1-15 1 68 1 57 1 16 1 88 1-106 1-115 1 52 1-116 1 45 1-38 1-15 1 44 1-10 1 119 1-18 1 27 1 32 1-4 1-57 1 69 1-54 1 50 1 7 1 8 1 58 1 29 1-27 1-38 1-40 1-8 1-11 1-72 1 14 1 103 1-77 1-30 1 118 1-138 1 46 1-92 1 29 1 96 1-95 1 145 1-63 1-29 1-24 1-137 1 149 1-77 1 113 1 3 1 11 1-56 1-75 1-21 1 41 1 50 1-39 1 78 1 57 1-18 1-25 1-50 1 48 1-124 1 65 1 24 1 39 1 1 1-119 1 48 1-51 1 3 1 110 1-130 1-2 1 25 1-11 1 52 1 46 1-80 1-49 1 42 1 6 1 24 1 45 1-58 1-64 1 91 1 95 1 6 1-184 1-98 1-47 1 103 1-109 1 92 1-79 1 100 1-53 1 16 1-55 1 64 1-42 1 98 1-63 1 8 1 14 1-29 1-66 1 63 1-12 1 4 1 10 1-2 1-16 1 23 1 1 1-76 1 26 1 57 1-38 1-75 1 7 1 77 1 30 1-119 1-1 1-4 1 11 1 2 1 32 1 49 1-89 1 63 1 58 1-18 1 91 1-54 1-25 1 33 1 43 1-74 1 19 1 17 1 87 1-128 1 19 1-32 1 34 1-26 1 31 1 21 1-20 1-24 1-22 1 127 1-39 1-62 1-37 1-85 1 63 1 9 1 4 1 44 1 69 1-52 1 10 1-34 1 10 1 19 1 2 1-128 1 77 1 106 1-92 1 28 1-3 1-30 1 38 1-76 1 94 1 7 1 69 1-25 1 20 1-58 1-108 1 105 1-38 1-19 1-23 1-32 1 90 1-53 1 26 1 96 1-90 1-5 1 15 1-84 1 24 1-15 1 47 1-90 1 150 1 12 1 84 1-13 1-17 1-69 1-63 1 82 1 78 1 29 1-51 1-22 1 10 1 86 1 30 1-15 1-31 1 88 1-108 1 105 1-50 1-20 1-26 1-6 1 30 1-60 1 64 1-20 1-41 1 46 1-32 1-20 1 7 1 5 1-50 1-22 1 104 1 26 1-13 1-94 1-25 1 24 1 24 1-40 1 107 1-32 1 22 1-217 1 246 1-107 1-11 1 45 1-82 1-41 1-12 1 21 1 56 1-32 1-13 1-19 1-54 1-4 1 138 1-239 1 84 1 15 1-42 1 102 1 28 1-54 1-4 1 13 1 62 1 84 1-36 1 12 1 27 1 58 1-49 1 64 1-5 1-6 1-47 1 18 1-14 1-60 1 0 1-14 1 80 1-36 1 67 1-19 1-51 1-17 1-17 1 13 1-25 1 23 1 70 1-80 1-6 1-48 1-32 1 132 1-65 1-76 1-1 1-10 1 37 1-29 1 13 1 99 1-7 1-8 1 38 1-30 1 25 1-29 1-47 1-38 1-20 1 79 1-99 1-64 1 180 1-27 1-12 1-65 1 8 1 65 1-48 1 101 1 6 1 48 1 34 1-73 1 87 1-83 1-65 1 89 1-31 1-53 1 67 1 8 1 69 1-72 1 36 1-38 1 6 1-9 1-34 1 29 1 89 1 61 1-13 1-86 1 38 1-26 1 91 1-5 1 29 1-53 1 47 1 73 1-83 1 2 1 29 1-23 1 17 1-6 1-11 1-68 1 22 1-46 1-43 1 5 1 70 1 58 1-23 1-6 1-73 1-35 1-38 1 29 1-47 1 35 1 6 1-20 1 104 1-69 1-11 1 14 1 65 1-81 1-53 1 119 1-74 1-3 1-34 1 14 1 4 1-20 1 10 1-90 1 12 1 30 1-7 1 37 1-65 1 24 1-45 1 17 1-94 1 156 1-90 1 62 1-54 1 36 1-15 1-47 1 103 1-119 1 58 1 3 1 31 1 7 1 1 1 24 1-1 1 6 1-96 1 121 1-63 1 8 1-46 1 109 1 4 1 24 1-22 1-20 1 26 1-12 1-12 1-60 1-25 1-53 1 144 1-13 1-25 1-16 1-21 1 32 1 81 1-26 1-59 1-14 1-8 1-92 1 38 1 49 1-104 1 60 1-46 1 8 1 24 1-57 1-28 1 104 1 23 1-51 1-33 1 52 1-40 1 55 1-1 1 10 1-10 1 72 1 1 1-8 1-76 1 24 1 162 1-210 1 33 1-23 1 28 1-52 1 38 1 15 1 78 1-45 1 26 1-47 1-26 1 5 1-21 1 87 1-111 1-24 1 81 1-101 1 66 1-34 1 82 1 18 1-12 1-65 1 99 1-6 1-1 1-36 1-9 1 70 1 25 1-14 1-52 1 74 1-74 1 73 1 15 1 20 1 116 1-113 1 32 1 1 1-122 1-13 1-46 1 60 1-45 1-27 1 56 1-7 1-30 1 24 1 24 1-58 1-25 1 59 1-57 1-1 1 40 1-87 1 106 1-37 1-102 1 82 1 35 1 47 1-69 1-87 1 15 1-120 1 122 1 56 1 51 1 8 1 10 1 8 1 31 1-57 1 65 1 33 1-39 1 101 1-16 1-100 1 39 1-11 1-45 1 41 1-6 1-20 1 83 1-54 1 36 1-78 1 34 1-3 1-131 1 60 1 76 1-125 1 32 1 20 1 6 1 19 1-38 1 12 1-35 1 65 1-3 1-12 1 84 1 15 1 0 1 73 1-21 1-30 1 66 1-132 1 24 1-32 1 32 1 50 1-150 1-26 1-23 1 164 1-31 1 30 1-73 1 46 1 3 1-24 1 77 1-62 1-26 1 99 1-100 1 79 1 40 1-47 1 37 1 3 1 102 1-205 1 85 1-17 1 61 1 0 1-120 1 82 1-112 1 59 1-11 1-47 1 77 1-86 1-47 1 32 1-18 1 0 1 41 1-14 1-69 1 53 1 65 1 12 1-3 1 20 1-73 1 15 1-103 1 158 1-116 1 5 1-9 1 4 1-18 1 19 1-8 1 84 1-3 1 19 1-23 1 57 1 5 1 20 1-37 1 16 1-13 1 15 1 0 1 52 1 9 1-7 1-72 1-7 1 27 1 23 1-26 1 42 1-100 1 74 1-4 1 45 1-83 1 63 1 9 1 55 1-59 1-10 1-53 1 27 1-51 1 42 1 22 1 66 1 25 1-13 1-22 1-48 1 74 1-57 1 12 1 27 1-59 1 6 1-80 1-74 1 36 1 104 1-47 1 68 1-45 1 39 1 65 1-95 1 64 1-102 1-23 1 22 1-2 1 79 1-33 1 94 1-72 1 5 1-49 1-12 1 56 1 47 1 4 1 7 1-73 1 4 1 2 1-118 1 198 1-84 1 53 1 62 1-124 1 90 1-69 1-27 1-48 1-46 1 87 1 23 1 30 1-92 1 16 1 53 1-94 1 92 1-61 1-7 1-38 1 9 1 0 1-10 1-30 1 97 1-5 1-47 1 73 1-37 1-43 1 29 1-14 1 67 1-66 1 189 1 15 1-65 1-44 1 7 1-1 1-11 1-90 1-51 1 75 1-63 1 50 1 111 1-156 1 17 1 61 1-334 1 303 1-62 1 15 1-143 1 80 1-103 1 0 1 94 1-4 1 36 1-88 1 31 1 26 1 7 1-82 1 33 1-75 1 77 1-20 1 31 1 49 1-43 1-82 1 111 1 8 1 30 1 3 1 1 1-20 1-15 1 16 1 2 1 52 1-47 1-105 1 29 1-117 1 43 1 14 1 21 1-59 1 96 1 102 1-105 1 59 1-57 1 55 1-49 1-1 1-64 1 42 1 27 1-60 1 81 1 23 1 55 1 24 1 12 1-36 1-23 1-48 1-30 1-19 1 43 1 8 1 34 1 34 1 57 1-47 1 111 1 3 1-95 1 7 1 7 1-5 1-5 1-109 1 48 1 59 1-55 1-35 1 25 1-21 1 53 1 25 1 26 1-71 1 57 1-7 1-14 1 1 1 54 1-56 1 9 1-4 1-70 1 33 1-21 1-6 1 4 1 26 1-22 1 1 1 13 1-6 1 0 1 24 1-63 1-47 1 17 1 99 1 128 1-100 1 80 1 19 1-109 1 10 1-48 1 61 1-34 1-50 1 4 1 53 1 95 1-161 1 154 1-53 1-65 1 52 1-46 1 37 1 12 1-110 1-53 1 42 1-27 1 5 1 38 1-23 1-13 1 3 1-28 1 16 1 37 1-66 1 56 1-35 1-2 1-56 1 78 1-6 1 52 1-110 1 13 1 81 1-54 1-26 1 32 1-40 1-91 1 69 1 21 1 18 1 47 1 30 1 30 1 26 1 29 1-116 1 92 1 0 1 66 1-91 1 60 1-30 1-47 1 53 1 6 1 12 1 41 1-57 1 48 1-40 1-73 1 94 1 29 1-53 1-33 1 78 1-38 1 88 1-10 1-89 1 11 1-4 1-26 1 35 1-8 1 84 1-77 1 7 1 106 1-6 1-48 1 25 1-49 1 89 1 4 1 26 1 1 1-54 1 17 1-2 1 107 1-90 1-91 1-9 1-52 1 60 1 80 1-137 1-7 1 40 1-27 1 45 1 16 1 315 1-383 1 37 1-18 1-15 1-6 1 96 1-43 1 101 1-98 1-39 1 3 1 31 1 25 1-52 1-54 1-66 1 35 1 59 1 149 1-188 1 31 1 106 1-26 1-81 1 3 1-64 1 101 1-54 1 63 1 0 1 94 1-105 1 70 1 53 1-103 1-92 1 151 1-54 1-59 1 75 1 31 1-15 1 0 1 76 1-58 1 47 1 54 1-93 1-83 1 26 1 6 1 12 1-34 1 66 1-18 1 58 1-110 1 17 1 5 1 38 1 65 1-109 1 7 1 34 1-2 1 86 1-71 1-8 1-2 1-11 1-8 1 60 1-45 1 122 1-36 1-37 1-45 1 25 1 60 1 33 1-94 1 82 1 20 1-6 1 3 1-8 1-32 1-51 1 6 1-43 1 42 1-12 1 89 1-67 1 81 1-50 1 88 1-39 1 53 1-31 1-44 1 40 1-80 1 42 1 5 1-39 1 43 1-24 1 19 1-19 1-9 1 21 1-41 1 58 1-85 1-55 1 27 1-118 1 112 1-36 1 9 1-67 1 19 1-4 1 79 1-43 1 44 1-66 1 6 1 47 1-5 1-5 1 19 1-23 1-1 1-46 1 6 1 41 1-21 1 20 1 4 1-53 1 67 1 23 1-41 1 31 1-22 1-24 1 12 1-105 1-3 1 51 1 17 1-36 1-83 1 55 1 10 1 13 1 51 1-62 1-15 1 73 1 37 1-33 1 43 1-82 1 75 1-50 1 5 1-45 1-50 1 52 1 3 1-55 1-11 1 43 1-2 1 15 1 22 1-31 1 57 1 22 1-119 1 79 1-38 1 72 1-120 1 82 1 2 1-68 1 38 1 25 1 54 1 11 1-60 1-31 1 12 1 60 1-83 1 72 1-1 1-35 1 6 1 66 1-110 1 101 1 18 1 2 1-126 1 43 1 15 1-60 1-46 1 29 1-88 1 128 1-105 1 83 1-51 1-32 1 12 1-122 1 108 1 6 1 40 1 83 1-49 1 1 1-128 1-30 1 68 1 65 1 11 1-29 1 28 1-79 1 131 1-69 1-20 1-54 1-71 1 73 1 37 1 24 1-117 1 96 1-7 1 31 1 49 1-104 1 69 1-143 1 123 1-24 1 55 1-44 1-15 1 81 1-34 1 38 1 17 1-10 1 19 1-115 1 18 1 14 1-81 1 65 1-36 1-46 1-42 1 50 1 44 1 78 1 46 1 30 1-71 1-26 1-1 1-28 1-11 1 111 1-92 1 81 1-56 1-11 1 11 1 35 1 40 1 1 1 41 1-33 1 30 1 0 1-21 1 29 1 15 1-48 1 78 1-68 1 45 1 34 1-56 1 12 1 27 1-30 1-71 1 211 1-110 1-47 1 43 1-65 1-51 1-8 1 71 1 1 1-16 1-20 1 19 1 58 1 100 1-51 1 10 1 47 1-67 1-12 1-8 1-59 1-19 1 150 1-76 1 67 1-54 1 21 1-5 1-6 1-82 1-6 1 20 1 305 1-284 1 88 1-146 1 64 1 264 1-325 1 94 1-25 1 42 1-131 1 86 1 11 1 3 1 17 1 12 1-20 1 91 1-159 1 80 1-8 1-29 1 4 1-11 1 41 1-41 1-56 1-3 1 140 1 62 1-72 1-14 1 59 1 101 1-98 1-56 1 86 1-71 1 166 1-79 1-43 1 27 1-75 1-7 1-64 1 22 1 21 1-30 1-1 1-8 1-10 1 10 1-60 1 65 1-9 1 49 1-95 1 82 1 21 1 1 1-9 1 29 1-37 1-24 1-34 1 29 1 21 1 3 1-9 1 6 1-15 1-14 1-26 1-1 1 20 1 41 1-59 1 43 1-80 1 58 1-44 1 94 1 9 1 28 1-35 1 31 1-40 1 26 1-6 1-23 1-60 1 217 1-72 1-48 1 30 1-25 1-44 1 14 1 23 1 21 1-33 1 20 1-16 1-102 1 17 1-2 1 65 1-81 1-39 1 17 1-37 1 185 1-18 1-47 1-64 1-79 1 106 1-4 1 5 1-4 1-18 1-13 1-57 1 10 1 49 1-12 1-15 1 63 1-3 1-81 1-63 1 28 1-3 1-204 1 281 1-39 1-41 1 1 1 107 1 23 1-48 1 6 1-42 1 21 1-73 1 88 1-5 1 15 1 24 1-5 1 75 1-44 1-22 1 8 1 4 1-20 1-162 1 75 1 41 1 25 1-27 1-83 1 53 1 13 1 70 1-96 1 3 1 47 1-42 1 14 1-19 1-138 1 123 1 72 1-34 1 18 1 26 1-44 1 9 1 32 1 1 1-33 1-54 1 20 1 21 1-14 1-21 1 25 1 16 1 33 1-52 1-108 1 176 1-75 1 14 1 7 1 55 1 10 1-175 1 68 1 37 1-19 1 27 1-224 1 221 1-17 1-23 1 3 1-44 1 12 1 11 1-24 1-7 1-25 1 7 1-78 1 96 1-33 1 85 1-13 1 6 1-27 1-23 1 5 1 33 1-81 1 47 1-5 1-23 1 198 1-67 1 39 1-32 1 25 1-26 1-68 1 13 1-82 1-1 1 66 1 46 1-50 1 75 1 30 1-18 1 40 1 25 1-94 1-38 1-42 1-19 1 38 1-4 1-54 1-17 1 73 1 52 1-16 1 53 1-96 1-5 1 15 1-2 1 11 1-41 1 22 1 6 1 19 1 5 1 44 1-20 1 85 1-39 1-23 1-29 1-35 1-48 1-12 1 55 1-4 1 63 1-82 1 54 1-6 1-26 1-8 1-143 1 124 1 22 1-110 1 84 1 81 1-94 1-9 1-56 1 122 1-94 1 12 1-34 1 12 1 11 1 98 1-35 1-9 1 32 1 30 1 7 1 5 1-8 1 24 1 145 1-50 1-38 1-43 1 115 1-102 1-42 1 16 1 6 1-33 1 92 1 162 1-106 1 55 1-11 1-113 1 14 1-48 1 32 1-21 1 21 1-4 1 9 1-7 1-18 1-8 1-91 1 144 1-5 1-22 1 11 1 0 1-9 1-31 1 29 1-23 1 11 1 36 1-5 1-34 1 31 1-57 1-49 1 21 1 47 1-23 1-16 1-20 1-23 1 12 1 63 1 10 1 31 1-28 1-114 1 17 1 3 1-20 1 41 1 79 1-48 1-69 1 3 1 31 1-22 1 96 1-76 1 41 1 53 1-31 1 13 1 39 1-96 1-30 1 14 1-65 1 35 1-35 1 69 1-9 1 431 1-454 1 69 1-42 1 18 1 69 1-106 1 45 1-9 1 23 1-3 1 1 1 26 1 0 1-56 1-4 1 81 1-77 1-24 1 109 1-70 1 15 1 25 1 113 1-100 1 102 1-14 1-61 1-35 1 46 1 185 1-166 1-39 1 29 1-36 1-61 1 141 1-14 1 114 1-54 1-26 1 6 1 88 1-19 1 13 1-16 1 42 1-49 1-8 1 29 1 31 1-82 1 1 1 17 1-72 1 70 1-42 1 71 1-174 1 123 1 8 1-161 1 135 1 56 1 33 1-55 1-36 1 43 1-58 1 151 1-149 1-66 1 59 1-9 1 22 1 12 1 9 1-22 1-27 1 31 1 46 1 26 1 98 1-128 1-15 1-42 1-46 1 27 1-30 1 43 1-30 1-24 1 3 1-73 1 63 1 39 1-54 1-12 1-7 1-84 1 47 1 107 1-108 1 111 1 59 1-96 1 79 1-153 1 97 1-32 1 54 1-12 1-15 1 8 1 98 1 11 1 73 1-147 1-11 1 36 1-22 1 4 1-56 1-24 1-64 1 99 1 26 1-19 1 64 1-30 1 43 1-102 1 14 1 17 1-13 1-83 1 12 1-67 1 94 1-22 1 45 1 42 1 26 1-73 1 43 1-4 1-10 1 41 1-26 1-32 1-7 1 164 1-53 1 0 1-49 1 89 1-169 1 68 1-28 1-54 1-18 1 27 1-85 1 19 1 159 1-70 1 37 1-27 1-37 1 31 1-38 1 56 1-108 1 59 1-26 1-9 1 17 1 46 1-63 1 21 1-24 1-70 1 54 1 35 1-64 1 34 1 32 1-98 1 58 1-43 1-43 1 39 1-80 1 79 1 1 1-52 1-3 1-42 1 103 1 0 1 65 1-42 1-108 1 147 1 43 1-9 1 20 1-13 1-19 1-43 1 32 1-62 1 7 1 25 1 19 1 51 1-80 1 91 1-39 1-24 1-69 1 64 1-45 1 17 1 50 1-95 1 51 1-69 1 160 1-128 1-25 1-19 1 17 1 6 1 22 1 17 1-71 1 33 1-26 1 126 1 14 1 98 1-60 1-45 1-37 1 4 1 7 1-84 1 30 1-32 1 48 1-57 1 76 1-49 1 92 1 20 1 79 1-22 1-40 1-52 1-29 1 8 1 17 1 17 1 111 1-10 1-48 1 2 1 6 1-72 1 91 1 6 1-100 1 5 1 16 1 136 1-87 1-66 1 87 1-52 1-25 1 4 1-64 1-46 1 159 1-45 1-45 1-4 1 8 1-20 1 89 1-25 1 26 1 8 1 57 1-124 1-26 1-64 1 175 1-21 1 51 1 53 1-94 1 71 1-86 1 48 1-69 1-9 1 26 1-26 1-115 1-12 1 36 1 21 1 12 1-59 1 81 1-97 1 32 1 107 1 99 1-7 1 21 1-43 1 60 1-241 1 68 1 19 1 3 1 41 1 39 1-27 1 10 1-43 1-8 1-46 1-35 1 124 1-33 1 90 1-17 1-102 1 35 1 33 1 52 1 6 1-87 1-2 1 20 1 125 1-155 1-8 1-96 1 39 1-10 1 1 1-38 1 3 1 78 1 54 1 19 1-25 1 11 1 12 1 18 1-30 1-19 1-116 1 21 1 121 1-32 1 10 1-40 1-79 1-20 1 88 1 117 1-52 1 51 1 5 1-29 1 26 1-72 1 52 1-92 1 104 1-78 1 82 1 8 1-116 1 57 1 28 1-16 1-28 1-62 1-10 1-17 1 79 1 7 1-10 1-32 1 80 1-17 1 56 1-64 1 20 1 9 1-12 1 3 1 74 1-68 1 91 1-85 1 106 1-43 1 1 1-52 1 26 1 20 1-5 1-5 1 50 1-73 1-59 1 24 1-24 1 23 1 70 1-92 1-15 1-52 1 79 1 31 1-45 1-9 1 40 1 47 1 22 1-32 1-28 1 50 1 47 1-153 1 29 1 33 1-58 1 60 1-29 1-54 1 23 1 11 1 52 1-57 1 39 1 24 1-58 1 22 1-5 1-13 1 43 1-15 1 53 1-60 1 180 1 26 1-31 1-47 1 16 1-80 1-68 1 128 1-23 1-28 1-32 1 34 1-19 1-92 1 46 1 64 1-35 1 27 1-87 1 36 1-83 1-23 1 30 1 96 1-24 1-3 1 20 1 22 1-41 1-50 1-16 1-83 1 17 1 95 1 30 1-36 1-3 1 39 1-50 1 5 1 104 1-19 1-42 1 10 1 0 1-5 1-5 1-48 1 14 1-12 1-85 1 118 1 12 1 50 1-125 1-265 1 283 1-98 1 12 1 78 1-17 1-24 1 27 1 18 1-2 1-29 1-20 1 51 1 0 1-58 1 0 1-19 1-13 1 57 1 16 1 63 1-12 1-95 1 67 1-34 1 95 1 83 1-49 1-3 1 5 1-18 1-25 1-1 1 43 1 26 1 12 1-65 1 5 1-15 1 28 1 57 1-90 1 6 1-22 1 4 1-31 1 7 1 39 1 33 1 47 1 6 1-71 1 8 1 56 1-46 1-9 1-45 1 123 1-131 1-27 1 45 1 86 1 8 1-44 1-2 1 64 1-116 1 37 1 20 1-79 1 48 1-86 1-37 1 111 1-46 1-57 1 13 1 32 1 11 1-15 1 72 1-68 1-29 1 45 1-84 1 19 1 113 1-19 1-5 1 31 1-26 1 6 1-11 1-22 1-9 1-3 1 77 1-101 1-5 1-16 1 58 1 33 1-50 1-34 1-61 1 80 1-44 1-6 1-1 1 72 1-26 1 78 1-95 1 14 1 2 1-15 1 165 1-14 1-154 1 32 1-12 1 51 1 16 1-86 1 97 1 3 1-49 1 61 1-24 1-78 1-8 1 20 1 24 1-85 1 73 1 46 1-128 1 100 1 0 1 28 1 8 1-75 1 7 1-45 1-30 1 83 1-46 1 4 1 42 1 42 1 21 1 39 1 11 1-75 1-17 1-7 1 38 1-51 1-26 1 49 1-42 1 157 1-86 1 56 1 19 1-59 1 8 1-38 1 31 1 70 1-27 1 20 1-60 1-7 1 39 1 75 1-116 1 243 1-162 1-60 1 25 1-15 1 107 1-1 1 14 1-23 1-14 1 22 1-82 1-108 1 58 1 68 1-25 1 47 1-41 1 3 1 18 1 45 1-68 1 42 1 15 1 26 1 9 1-91 1 171 1-158 1 12 1-24 1 44 1-34 1 4 1-34 1 18 1-82 1-2 1 60 1 51 1-4 1 31 1-21 1 23 1-16 1 30 1-24 1-50 1-84 1 12 1 16 1 0 1 9 1-93 1 123 1-125 1 110 1 23 1-36 1 79 1 2 1-47 1 33 1-55 1 15 1-81 1 25 1-100 1 173 1 9 1 115 1-22 1 51 1-45 1-30 1 29 1 22 1 3 1-50 1 104 1-14 1 70 1-2 1 5 1-77 1-49 1 0 1 58 1-25 1 112 1-47 1-23 1-62 1-36 1 10 1 69 1-70 1 52 1-15 1-44 1-25 1 29 1-11 1-42 1 77 1 19 1-76 1 62 1-50 1 89 1-61 1 1 1-109 1 88 1-26 1 106 1-81 1 38 1 23 1-5 1-116 1-14 1 29 1-19 1 15 1 66 1 64 1-71 1 22 1-64 1 26 1-55 1 34 1 19 1-109 1 104 1 132 1-125 1-87 1-34 1 1 1 91 1-37 1-52 1-43 1 46 1 24 1 60 1-58 1 80 1 8 1-17 1-99 1 23 1-39 1-85 1 16 1-22 1 23 1-6 1-46 1-10 1-31 1-279 1 266 1 107 1-55 1 69 1 26 1 37 1 32 1-69 1-29 1-20 1 2 1-28 1 77 1-52 1 15 1 33 1-46 1 128 1-39 1-21 1 7 1 63 1-58 1-123 1-7 1 13 1-42 1 1 1-32 1-91 1 97 1 71 1-68 1 22 1 27 1-24 1 7 1-8 1-20 1-14 1 35 1-69 1-22 1 11 1 28 1 65 1-90 1-20 1 9 1-48 1-8 1 22 1 17 1 36 1 2 1-35 1 55 1-74 1-13 1-18 1-12 1 79 1-64 1 28 1 7 1 35 1 3 1 87 1-71 1 57 1-1 1-82 1 21 1 37 1-60 1 21 1 34 1-5 1 102 1-35 1 20 1-13 1-28 1 117 1-65 1-26 1 18 1-92 1 45 1-24 1-6 1-42 1 35 1 100 1-51 1 11 1 37 1-57 1 78 1-40 1-20 1 13 1 1 1 50 1-53 1 41 1-28 1 1 1 27 1-52 1-10 1 15 1 20 1 6 1 40 1-7 1-14 1 23 1-55 1 54 1-119 1 86 1-74 1 39 1 32 1-14 1-29 1 90 1 4 1 22 1-49 1 67 1-78 1 11 1 5 1 9 1 63 1-94 1 51 1 39 1-91 1 26 1 56 1-39 1-112 1 33 1-18 1-7 1 103 1-107 1-63 1 90 1-62 1 33 1-11 1 83 1 92 1-60 1 19 1-17 1 2 1-18 1 73 1-40 1 170 1-117 1 61 1 72 1-128 1-4 1-50 1-26 1-39 1 33 1 14 1 70 1-51 1-102 1 49 1 24 1 55 1 25 1 49 1 35 1-38 1-55 1 47 1-96 1-42 1-24 1 50 1-3 1-2 1 28 1-5 1 48 1 58 1-3 1-32 1-45 1-14 1 17 1-62 1-20 1-38 1 71 1-17 1-4 1-82 1-17 1 32 1-23 1 33 1 39 1 52 1-7 1 45 1 41 1-61 1-21 1 93 1-85 1 26 1 24 1-118 1 39 1 32 1-84 1 21 1 20 1-21 1-47 1 25 1 18 1 28 1 102 1-14 1-32 1 25 1-79 1-15 1 58 1 16 1-29 1 49 1-31 1 35 1 16 1-77 1 102 1 74 1-67 1-61 1 36 1-97 1 100 1 13 1-53 1 7 1 20 1 23 1-11 1-30 1-4 1-4 1 57 1-95 1-6 1-61 1 95 1 47 1-15 1 38 1 19 1-12 1 50 1-21 1-62 1 43 1 62 1 25 1-41 1 27 1-52 1 18 1-9 1-78 1 76 1 6 1 36 1-52 1 1 1 18 1-62 1-13 1 36 1 62 1-107 1-67 1 59 1-6 1 96 1-18 1-25 1-8 1-84 1-46 1 52 1 21 1 55 1 74 1-13 1-16 1-35 1 1 1-9 1 46 1-25 1 14 1-41 1-52 1 85 1-104 1 43 1 3 1-66 1 17 1-47 1 154 1-121 1 88 1-45 1 36 1 44 1-26 1-81 1-46 1-87 1 159 1-11 1-17 1-70 1 50 1-48 1 45 1 10 1-67 1-23 1 77 1-18 1-39 1-15 1 27 1 97 1 3 1-35 1 29 1 19 1-42 1-3 1 83 1-101 1 57 1-35 1 77 1-39 1 15 1 9 1-89 1 45 1-55 1-67 1 38 1-91 1 66 1-78 1 89 1-85 1 84 1 65 1-19 1 14 1-58 1-96 1-2 1-41 1 2 1 85 1 18 1-21 1 61 1 24 1-113 1 13 1-81 1 106 1-13 1 35 1-47 1-36 1 28 1-14 1-10 1-23 1 59 1-40 1-8 1 9 1 4 1 12 1-74 1-21 1 26 1 59 1 70 1-27 1-93 1 119 1-60 1 32 1-51 1 106 1-86 1-4 1 61 1 0 1 23 1-39 1 20 1-3 1-31 1 50 1-51 1 13 1 38 1-65 1-63 1 15 1-42 1-43 1-16 1 64 1 66 1-45 1-33 1 47 1-17 1-8 1-33 1-41 1 71 1-12 1 40 1-58 1 47 1 47 1-8 1 10 1-49 1-16 1 42 1 4 1 3 1-43 1 56 1 29 1-80 1 38 1-94 1 160 1 10 1 3 1 1 1-14 1 43 1-32 1 31 1-2 1 67 1-12 1-154 1 148 1-53 1-23 1 83 1-13 1 27 1 41 1 26 1-9 1-87 1 35 1 27 1 33 1-66 1 90 1-35 1-83 1 31 1-74 1 30 1-75 1 49 1 77 1 32 1-28 1-12 1-55 1-57 1 104 1-119 1 84 1 23 1-41 1 22 1 72 1-44 1-82 1-12 1 55 1 132 1 30 1-10 1 1 1-47 1 1 1-96 1 35 1-20 1-1 1 89 1-55 1 57 1 25 1-27 1-35 1-38 1-4 1-41 1 62 1 48 1 45 1-9 1-53 1 45 1-36 1-53 1 76 1-14 1 48 1 45 1-94 1-27 1-72 1 14 1 11 1-6 1-85 1 67 1 18 1 12 1 21 1 27 1 12 1-11 1 3 1-31 1-39 1 52 1-72 1 86 1 2 1-31 1 23 1 15 1-89 1 6 1 9 1-65 1 82 1 87 1-194 1 22 1 43 1 92 1-26 1-2 1 75 1-9 1 83 1-84 1 64 1-105 1 10 1 43 1 14 1-6 1-34 1 69 1 73 1-69 1 34 1-111 1 50 1-6 1 54 1-107 1 34 1 12 1 19 1-32 1-40 1 56 1 57 1-125 1 6 1-30 1 55 1-60 1-7 1 103 1-46 1-21 1 20 1 12 1 60 1-35 1 12 1 10 1-2 1 7 1-6 1 64 1-1 1-7 1-29 1-10 1 115 1-113 1-154 1 103 1 35 1-10 1-50 1 118 1-95 1 37 1-33 1-82 1 81 1 81 1-98 1 75 1-73 1-42 1 103 1-98 1 23 1 60 1 0 1 23 1-43 1 53 1 49 1-92 1 63 1-48 1 30 1-58 1 50 1-31 1-16 1-9 1-176 1 200 1-49 1 44 1 4 1-42 1 160 1-94 1-5 1-62 1 76 1 52 1-29 1-130 1 14 1-7 1 30 1 44 1-88 1 26 1-62 1 4 1 11 1 27 1 32 1-61 1-10 1-57 1 27 1 95 1-74 1 31 1-87 1 135 1-14 1 58 1-113 1 5 1 11 1-64 1 9 1-79 1 91 1 100 1-25 1 36 1-28 1 36 1-189 1 10 1 47 1 90 1-61 1-87 1 114 1-31 1-39 1 127 1-49 1 4 1-66 1 53 1-48 1-53 1-154 1 54 1 2 1 107 1-2 1-19 1 12 1 111 1-123 1 54 1-115 1 30 1 13 1-29 1-31 1-39 1 46 1 43 1-11 1 40 1 47 1 60 1-146 1 78 1 98 1-72 1-5 1-28 1-26 1 51 1 13 1 10 1 10 1 48 1-32 1-18 1 10 1 77 1-53 1-117 1 64 1-35 1 113 1-362 1 261 1 74 1-76 1-65 1 47 1-133 1 120 1 66 1-87 1 16 1-31 1-52 1 146 1-78 1-81 1-6 1 89 1-40 1-1 1-57 1 85 1 35 1-22 1-99 1 98 1 76 1-7 1-28 1-20 1 41 1-60 1 63 1-32 1-27 1 53 1 13 1 27 1-62 1 22 1-58 1 48 1-86 1-1 1 122 1-65 1-84 1 65 1 144 1-95 1 51 1 22 1 53 1-1 1 25 1-80 1 64 1 7 1 99 1-39 1 12 1 54 1-106 1 9 1-39 1 11 1-7 1-78 1 70 1-114 1 15 1-11 1-2 1 1 1 62 1-75 1-18 1-69 1 113 1-7 1 26 1 49 1 33 1-60 1 49 1 21 1-46 1-72 1 11 1-16 1 177 1-42 1-11 1 65 1-51 1-20 1 18 1 20 1-6 1-10 1 96 1-59 1 6 1-7 1 27 1-57 1 6 1-3 1 29 1-33 1-23 1-23 1 4 1-91 1 64 1-41 1-42 1 101 1 1 1-51 1 17 1 6 1-102 1-3 1-37 1 72 1-3 1 84 1-111 1-44 1 8 1 98 1 29 1-127 1-12 1 84 1 47 1-34 1-40 1-39 1 2 1 17 1-26 1-47 1 113 1-7 1 35 1-12 1-26 1 104 1-6 1-8 1-53 1 71 1-10 1-82 1 142 1-14 1-36 1-66 1-84 1 34 1-47 1 137 1-21 1 72 1-88 1 16 1 97 1-25 1 32 1-19 1 13 1 57 1 61 1-108 1 3 1 30 1-97 1 100 1 19 1-72 1-2 1-87 1 90 1 6 1-94 1 13 1-21 1-28 1 81 1-32 1 3 1 29 1 6 1-83 1-32 1 68 1 35 1 22 1-18 1-19 1-140 1 117 1-8 1 38 1 8 1 22 1 46 1-60 1-37 1-14 1-28 1 1 1 72 1-16 1-5 1 34 1-145 1 102 1-108 1 110 1-32 1 98 1-34 1 41 1-43 1-50 1-22 1-16 1 99 1-5 1-46 1 8 1 34 1 0 1 124 1 12 1-123 1 72 1-74 1-46 1 68 1-92 1 76 1 41 1 30 1-89 1 40 1 66 1-48 1 28 1-42 1-32 1 44 1 42 1-111 1-8 1-52 1 21 1 53 1 85 1-18 1-25 1 44 1 18 1 28 1-23 1-76 1 2 1 18 1-27 1 0 1 28 1 15 1-40 1-35 1-10 1 3 1 37 1-119 1 152 1 73 1-72 1-47 1 15 1-1 1-44 1 9 1-8 1-56 1 10 1-63 1 22 1-31 1-63 1 81 1-39 1 63 1-48 1 91 1-43 1-41 1 109 1 188 1-234 1 45 1-19 1 8 1-7 1 62 1-49 1 60 1 59 1 20 1-9 1-11 1-58 1-2 1-73 1 49 1 59 1-101 1-91 1-15 1 9 1-5 1 15 1-38 1 50 1 61 1-40 1 5 1-17 1 12 1-42 1 4 1-67 1-10 1-25 1 52 1 52 1 47 1-32 1-92 1 19 1-23 1 16 1 86 1-29 1-32 1 2 1 41 1-113 1 89 1 32 1-10 1-34 1 0 1 71 1-49 1 13 1 23 1 60 1-65 1-2 1-52 1 78 1-76 1 54 1 30 1 7 1-72 1 63 1-26 1 78 1-80 1-200 1 217 1 55 1-151 1 45 1-31 1 10 1 5 1-57 1 77 1-21 1-22 1-14 1 27 1 4 1 39 1-56 1 5 1 47 1 75 1-61 1-3 1-22 1 7 1-16 1 49 1-33 1-41 1 17 1-57 1 119 1-1 1 6 1 1 1-73 1 140 1-79 1 153 1-101 1 64 1-47 1 26 1-4 1 84 1-43 1-57 1 54 1-25 1-32 1-34 1 34 1-25 1-54 1 65 1-100 1-3 1 113 1 41 1-18 1 17 1-70 1 2 1 39 1-39 1-26 1 51 1 13 1 11 1-15 1-15 1 58 1-3 1-16 1-26 1-55 1 113 1-41 1-20 1-18 1-6 1 76 1 34 1-81 1 43 1 32 1-37 1 56 1-54 1 54 1-86 1 67 1-31 1-91 1 165 1-97 1 30 1-68 1 46 1-90 1 103 1-86 1 35 1-141 1 111 1-48 1 120 1-82 1-29 1 13 1 59 1 86 1-42 1-11 1 35 1 124 1-74 1-15 1-25 1 52 1 31 1-47 1 75 1-67 1 74 1-138 1 107 1-66 1-47 1 50 1-10 1 0 1-32 1-69 1 15 1 78 1 51 1-53 1-75 1-34 1 33 1 59 1-33 1-112 1 83 1-17 1 46 1-11 1 41 1 59 1-158 1 155 1-44 1-65 1-25 1 67 1-52 1 78 1 38 1 70 1 90 1-123 1-27 1 75 1-12 1 75 1-26 1-48 1-64 1 60 1-32 1 61 1-18 1-76 1 48 1 65 1-54 1-6 1 13 1-41 1 34 1 13 1-112 1 97 1 39 1-16 1 37 1 68 1-25 1-76 1 82 1 31 1-33 1-1 1-78 1 54 1-23 1-45 1 84 1-57 1 61 1-54 1 80 1-28 1 10 1-107 1 62 1 41 1-45 1-30 1-2 1-29 1 38 1-63 1 10 1 71 1-33 1-20 1-19 1 36 1 9 1 9 1-75 1 1 1 8 1 127 1-85 1-74 1-32 1-50 1 97 1-50 1-25 1 93 1-71 1-13 1 22 1-49 1 4 1 51 1 4 1 16 1-19 1-18 1-24 1 20 1-25 1 110 1-23 1-29 1-49 1-42 1 31 1 8 1 52 1 63 1-48 1-95 1 33 1 63 1-185 1 66 1 17 1-4 1 37 1 2 1 9 1-2 1-32 1 29 1-32 1-120 1-23 1 58 1 136 1-123 1-41 1 25 1-4 1 51 1 65 1-123 1 15 1 40 1 49 1-123 1 90 1 7 1 42 1-58 1 56 1-61 1 47 1 91 1-70 1-41 1-44 1-21 1-43 1-123 1 74 1-40 1-114 1 46 1-19 1-3 1 27 1-35 1 85 1-70 1 17 1 15 1 56 1-86 1 40 1 69 1 36 1-111 1-9 1 128 1-82 1-31 1 26 1 23 1-53 1-57 1 144 1-122 1 17 1-48 1 26 1 73 1-96 1 0 1-20 1 26 1-21 1 33 1 9 1-23 1 101 1 44 1 3 1-300 1 299 1-58 1 79 1-84 1 33 1 46 1-45 1 92 1-2 1-13 1-32 1 12 1 14 1 25 1-74 1-80 1 107 1 30 1-62 1 22 1-23 1 116 1-31 1 22 1 86 1-128 1 75 1-18 1-22 1-5 1-81 1 55 1 101 1-10 1-10 1 9 1-89 1 39 1-157 1-3 1 84 1-32 1-28 1 58 1 56 1 30 1 70 1-64 1 36 1 128 1-58 1 38 1 11 1 13 1-10 1 18 1-16 1-122 1-22 1 14 1-12 1 21 1 73 1-15 1-2 1-3 1-3 1-59 1-56 1 8 1 23 1-10 1 47 1 38 1-47 1 111 1-54 1-43 1-105 1 94 1-17 1 25 1-101 1 80 1 48 1-61 1 39 1 77 1 16 1-26 1 47 1-39 1 16 1 6 1-81 1-65 1 60 1 147 1-81 1-12 1-61 1-2 1 12 1-31 1 4 1-14 1-4 1 16 1 51 1-22 1 40 1-33 1 0 1-18 1 70 1-26 1 14 1-36 1 50 1 91 1-150 1 6 1 1 1 85 1-52 1 48 1 30 1-28 1-179 1 105 1 9 1-37 1-49 1-4 1 33 1 28 1-40 1 38 1 49 1-25 1 70 1-9 1 14 1-76 1 25 1 31 1 40 1 4 1-43 1-22 1-42 1-18 1-1 1-50 1 45 1 5 1 15 1 37 1 51 1-112 1-68 1 73 1 57 1-86 1 37 1 44 1 32 1-5 1-70 1 64 1-9 1 27 1-31 1-42 1 12 1-38 1 28 1 5 1 125 1-141 1 18 1 86 1 3 1 45 1-14 1 3 1-36 1-61 1 50 1 255 1-148 1-80 1 25 1-91 1 157 1-32 1 83 1-132 1 21 1 131 1-41 1-72 1 24 1-32 1-18 1 23 1-33 1 102 1-89 1-32 1 15 1-51 1 13 1-64 1 29 1 1 1 24 1-36 1-58 1 31 1 16 1 65 1-33 1 20 1 2 1-62 1 62 1-41 1 41 1-9 1-49 1-17 1 3 1-25 1 61 1 55 1 77 1-41 1-42 1 12 1 41 1 18 1 78 1-2 1-46 1-54 1 17 1 22 1-6 1 28 1-52 1-76 1-133 1 81 1 53 1-51 1 45 1 95 1-84 1 18 1 58 1-10 1-71 1 34 1-82 1 34 1 48 1-78 1 53 1-1 1 66 1-21 1-13 1-25 1-53 1-51 1-64 1 135 1 50 1-42 1 57 1-151 1 54 1 32 1-18 1-32 1-4 1 8 1-32 1-101 1 86 1 1 1 85 1-63 1-11 1 71 1-109 1-17 1-8 1 11 1 30 1 118 1-42 1-14 1 6 1-18 1 80 1-53 1-52 1-84 1 25 1-19 1 6 1 0 1 64 1-108 1 10 1 51 1-46 1-27 1 13 1-10 1 78 1 10 1 16 1-57 1 43 1-89 1-54 1 69 1 49 1-17 1 13 1-124 1 70 1-74 1 40 1 50 1-4 1 105 1-23 1-20 1-72 1 19 1-24 1 56 1-11 1 42 1-6 1 34 1 2 1-103 1 14 1 57 1 0 1-25 1-34 1 57 1 10 1 1 1-77 1 11 1 70 1-5 1-74 1 151 1-45 1-41 1-55 1-14 1 53 1 11 1-50 1-12 1 96 1 133 1-84 1-119 1-281 1 263 1-23 1-52 1 87 1 65 1-10 1 0 1-40 1-9 1 39 1 70 1-56 1-21 1-58 1 42 1 23 1-139 1 117 1-3 1-24 1 15 1-85 1 22 1-24 1 49 1 58 1-7 1 155 1-33 1-3 1-79 1 7 1-31 1 9 1 8 1-8 1 84 1 71 1-2 1-79 1-41 1-30 1-38 1 20 1-74 1 53 1-1 1 34 1-45 1 10 1 11 1 64 1-45 1-22 1 5 1 43 1 36 1-3 1-30 1 45 1-35 1-28 1-86 1-52 1 114 1 68 1-65 1-38 1 100 1-31 1-57 1 127 1 16 1-9 1-5 1-53 1-81 1 131 1 13 1-74 1 11 1 15 1 87 1 16 1 60 1-183 1 33 1-109 1 100 1 29 1-2 1 47 1 25 1-48 1 28 1 44 1-70 1 11 1 62 1 23 1-62 1-63 1-11 1-113 1 50 1 55 1-13 1 66 1-11 1-35 1-25 1 85 1-102 1 60 1-12 1-57 1 4 1-57 1 106 1-40 1 41 1 14 1 22 1 3 1-69 1-24 1 19 1-25 1-113 1 24 1 104 1-76 1 38 1 23 1-60 1-23 1-29 1-5 1 59 1 6 1-74 1 24 1 61 1-95 1-53 1 156 1-23 1-22 1-15 1 20 1 35 1 15 1 74 1 8 1-22 1-26 1 92 1-130 1 115 1-42 1-61 1 23 1 126 1-53 1-17 1 69 1-136 1 37 1 61 1-11 1 10 1 125 1-95 1 25 1 47 1-36 1-134 1 51 1 30 1 99 1-27 1-1 1 10 1 108 1-19 1 17 1-68 1-13 1 6 1-127 1 68 1-72 1-6 1 29 1 24 1 11 1-33 1-16 1 41 1-2 1-21 1 71 1-71 1 19 1 71 1-50 1 41 1-99 1-4 1-23 1-40 1 5 1-53 1 80 1 55 1 21 1-209 1 196 1 42 1-16 1 6 1-38 1 67 1-112 1 24 1 102 1-30 1-96 1 129 1-170 1 71 1-10 1 4 1-58 1 57 1-72 1 12 1-72 1 20 1 150 1-56 1-23 1-50 1 17 1 22 1 82 1-100 1 14 1-160 1 146 1 1 1 33 1-8 1 5 1-56 1-44 1-14 1 86 1-12 1-5 1-18 1-50 1 43 1 40 1 91 1-164 1 78 1-36 1 26 1 0 1-22 1 14 1-48 1-6 1 134 1-18 1 22 1-63 1 20 1-11 1 57 1-91 1-5 1 82 1-95 1-9 1-16 1 34 1 3 1 26 1 9 1-26 1-1 1-11 1 62 1-81 1 19 1 35 1-107 1 175 1-28 1-40 1 97 1-2 1-69 1-72 1-26 1 43 1 23 1 7 1 7 1-63 1-24 1 12 1 7 1-26 1 48 1-5 1-9 1 36 1-89 1-40 1 8 1 22 1 30 1 39 1 45 1 63 1-82 1 15 1 56 1-29 1-76 1 74 1-28 1-14 1-95 1 42 1-65 1 65 1-3 1 44 1-19 1 155 1-99 1 51 1-72 1 114 1-137 1 28 1-6 1 32 1-32 1 40 1-65 1-62 1 5 1 27 1 3 1-51 1 78 1 4 1 14 1-91 1 76 1-6 1 32 1-4 1 25 1-15 1-48 1-8 1 70 1-32 1-26 1 11 1-277 1 261 1 11 1-13 1-109 1 84 1-39 1 87 1-83 1 20 1-98 1-18 1 1 1 121 1-40 1 0 1 46 1-89 1 2 1 81 1-11 1-62 1-18 1 13 1-43 1-37 1 68 1-6 1 20 1 4 1-32 1 35 1-76 1 12 1 28 1 27 1-7 1 72 1-111 1-20 1-54 1 18 1 85 1-61 1 18 1 3 1-50 1 20 1-33 1 26 1 63 1-54 1 47 1 18 1 84 1-4 1 23 1-38 1 68 1-23 1 10 1-37 1 0 1 39 1-2 1-53 1 102 1 2 1 3 1-26 1-49 1 47 1-90 1 27 1-16 1-47 1-33 1-18 1 1 1 97 1 145 1-82 1 62 1 18 1-82 1-43 1-81 1 0 1 80 1-71 1 99 1-26 1-108 1 0 1-54 1-3 1 96 1-21 1 47 1 6 1-11 1 30 1 28 1 77 1-31 1-58 1 54 1-96 1 87 1-33 1 16 1 15 1-119 1 31 1 47 1-31 1 132 1-3 1-53 1-12 1-51 1 15 1 38 1-74 1 10 1 76 1-74 1-3 1 21 1-33 1-33 1 36 1-45 1 35 1 90 1 25 1 85 1 28 1-72 1-84 1-27 1 25 1-50 1 39 1 54 1 41 1 25 1-51 1-19 1-32 1 59 1 38 1-84 1 95 1-96 1 23 1 72 1-114 1 114 1 5 1-24 1-55 1 2 1 10 1 316 1-278 1 90 1-86 1 13 1-25 1-53 1 100 1 27 1 17 1-77 1 5 1 21 1 93 1 58 1-99 1-40 1 25 1-31 1 65 1 22 1 23 1-49 1-87 1 91 1 62 1-79 1-78 1 103 1 28 1-10 1 0 1-76 1 42 1 48 1-15 1-75 1-2 1-36 1 167 1-65 1-49 1 68 1-39 1 36 1-28 1-40 1-75 1 102 1 7 1-99 1 113 1-5 1-29 1-35 1 5 1 62 1-50 1-29 1 45 1-13 1 93 1-12 1 50 1-82 1 15 1 42 1 77 1 18 1 0 1-34 1 6 1-64 1 68 1-80 1-23 1-58 1-66 1-15 1 124 1 18 1-69 1-49 1-8 1 67 1-111 1-22 1-3 1 52 1 6 1 7 1-54 1 16 1 13 1-52 1 54 1 23 1 36 1 57 1-16 1-117 1 21 1-94 1-25 1 133 1-46 1 59 1-114 1-43 1 102 1 32 1-18 1-3 1-80 1 54 1-9 1 54 1-38 1 5 1 45 1 49 1-41 1-38 1-18 1 23 1-14 1-16 1-21 1 0 1-55 1-10 1 14 1-154 1 105 1-22 1 2 1-54 1 75 1 53 1-12 1 29 1 23 1-103 1 45 1 92 1 5 1-102 1 58 1 4 1-95 1 62 1 4 1 52 1-12 1 136 1-140 1 44 1 47 1-74 1-73 1 6 1-21 1 91 1-73 1-272 1 263 1 61 1 23 1 64 1 30 1 5 1-41 1-12 1-39 1-34 1 57 1-59 1 55 1 40 1-47 1 34 1-63 1 24 1 71 1 32 1 123 1-108 1-69 1-105 1 6 1 3 1-65 1 44 1-39 1-17 1 5 1 46 1 44 1-51 1 47 1 54 1-73 1-4 1 109 1-112 1 54 1-61 1 2 1 7 1-10 1-9 1 9 1-11 1-40 1-39 1 23 1 26 1-1 1-13 1 38 1-41 1 91 1 77 1-64 1 7 1 104 1-174 1 50 1-6 1-79 1-39 1 67 1-39 1 8 1 9 1 22 1 40 1-34 1 101 1-59 1-65 1 3 1-20 1 83 1-79 1 60 1-23 1 33 1 34 1 71 1 23 1-112 1 22 1-35 1 21 1 39 1-59 1 11 1-56 1 16 1 29 1-15 1 7 1 21 1 13 1-88 1 67 1 87 1 7 1-38 1 16 1 43 1 25 1-108 1 45 1 30 1-1 1 71 1-98 1 32 1-41 1 74 1-68 1-7 1-56 1 21 1-82 1 5 1 59 1 11 1-11 1-85 1 116 1 8 1 40 1-77 1 61 1-97 1 71 1 19 1-47 1 31 1-58 1 23 1-20 1 99 1-15 1-10 1-41 1-24 1 29 1-9 1-108 1 120 1-131 1 100 1 0 1-75 1 45 1-40 1 57 1-16 1 17 1-9 1 85 1-120 1 140 1-133 1 67 1 13 1 36 1-49 1 8 1-50 1 77 1 23 1-48 1 9 1 32 1 25 1 17 1-43 1 14 1 22 1-131 1 117 1-29 1-20 1 76 1-109 1 42 1 8 1-43 1 98 1-39 1-34 1 44 1 43 1-61 1 32 1-35 1-107 1 104 1-59 1 44 1-30 1 110 1-92 1 55 1 87 1 51 1-62 1 79 1-115 1 62 1-130 1-40 1-74 1 166 1-2 1-1 1 39 1-49 1-47 1 41 1 8 1-56 1 35 1 73 1 17 1-11 1-25 1 16 1 26 1-42 1 8 1 26 1-37 1 28 1 0 1-11 1-48 1 35 1-51 1-51 1 97 1-102 1 72 1 15 1-31 1-50 1 20 1 11 1-35 1 5 1 48 1 31 1 18 1-43 1-37 1 79 1-65 1 19 1-10 1 27 1 22 1 20 1-98 1 24 1 92 1-59 1-6 1 14 1-3 1-91 1 79 1-26 1 29 1-45 1 25 1-30 1 55 1 16 1 48 1 25 1-157 1-10 1 0 1 29 1-56 1 28 1-46 1 43 1 95 1 70 1-81 1-12 1-5 1 3 1 53 1 40 1-133 1 5 1 11 1 16 1-25 1 61 1-12 1 49 1-123 1 50 1-1 1 59 1-10 1-25 1-91 1-61 1 41 1-76 1 21 1-56 1-10 1 106 1-68 1 42 1 5 1 8 1-35 1-35 1-54 1 17 1 48 1 78 1 109 1-111 1 7 1 62 1-65 1-52 1 65 1-16 1 74 1 17 1-62 1 49 1 33 1 83 1-71 1-119 1 21 1-15 1-57 1 122 1-103 1 74 1-28 1-86 1 100 1-13 1 39 1-33 1-53 1-77 1-75 1 59 1 37 1-3 1 91 1-132 1 13 1-36 1 39 1 46 1-5 1 45 1 52 1-95 1 76 1-68 1-30 1 25 1 27 1-3 1 13 1 35 1-83 1 19 1 74 1-78 1 70 1-38 1 18 1 86 1-20 1-21 1-27 1-39 1-27 1 94 1 14 1-105 1 87 1-48 1 103 1-84 1-20 1-132 1 121 1-35 1 33 1-40 1 2 1-102 1 180 1-176 1 43 1-45 1-43 1 24 1 34 1 34 1-26 1 92 1-94 1 57 1 44 1 34 1 7 1 10 1-2 1 2 1-21 1 48 1-24 1-64 1-3 1 19 1 10 1-16 1 35 1 25 1-69 1-48 1 149 1-28 1 59 1-108 1 11 1 52 1 85 1-59 1-15 1 0 1 8 1 2 1 25 1 15 1-14 1 35 1 32 1-45 1-3 1-13 1 52 1-82 1 51 1-12 1-37 1 4 1 46 1 31 1-100 1 65 1-32 1 27 1 71 1-100 1-13 1-23 1 45 1 1 1-23 1 79 1-92 1 11 1 20 1-20 1 56 1-9 1-55 1 20 1 10 1-30 1-29 1 36 1-13 1 40 1-138 1 194 1-43 1-32 1-30 1-36 1 69 1-52 1 22 1-90 1 33 1 40 1 3 1-69 1-39 1 84 1-47 1-20 1 14 1 72 1-13 1-25 1 67 1-14 1 94 1-35 1-104 1 83 1-13 1 9 1-2 1 11 1 87 1-9 1-25 1 27 1 92 1-57 1-27 1-63 1 91 1-58 1 43 1 58 1-2 1-44 1 9 1 78 1-27 1 29 1 28 1-17 1 7 1-53 1-48 1-4 1 39 1-90 1 57 1 11 1-50 1 132 1-9 1-66 1 56 1-95 1-59 1 101 1 44 1-33 1 29 1-64 1-2 1-22 1-25 1-55 1 57 1 17 1-66 1-43 1 81 1-58 1-36 1 63 1-49 1 107 1-101 1 57 1 42 1-10 1-25 1-30 1 12 1 131 1-72 1-39 1 52 1-36 1-29 1 70 1 41 1-121 1 39 1-49 1 122 1-122 1 54 1-73 1 112 1-14 1 23 1 39 1-23 1-50 1 59 1-21 1 43 1-44 1-66 1 44 1 2 1-111 1 105 1-1 1 54 1-58 1 46 1-92 1-83 1 81 1-50 1 16 1-36 1 51 1-74 1 88 1-56 1 43 1 28 1 59 1-19 1-8 1 52 1-15 1-7 1-72 1 16 1-46 1-12 1-72 1 46 1-16 1 13 1-15 1-17 1 130 1-66 1-2 1-10 1-27 1 37 1-103 1-57 1 61 1-16 1 46 1-97 1 5 1 41 1-15 1-76 1 75 1 0 1-53 1 45 1 55 1-88 1-33 1 58 1 21 1-52 1 36 1 25 1-4 1 12 1-13 1-20 1 25 1-44 1 114 1-50 1 18 1 126 1-12 1-99 1 78 1 5 1-46 1 5 1 13 1-47 1-43 1 71 1-113 1 39 1-17 1-31 1 41 1-48 1 10 1-109 1 64 1 32 1 6 1 80 1-45 1-37 1 39 1-80 1 55 1-99 1 88 1 16 1 124 1-27 1 17 1-57 1-64 1-38 1 10 1 54 1-106 1 79 1-17 1-17 1 9 1 25 1 79 1 26 1-18 1-72 1 39 1-46 1 30 1 22 1-21 1-15 1 7 1-2 1 6 1 13 1 23 1 62 1-88 1 7 1-20 1-28 1 53 1-49 1 33 1 76 1-25 1-44 1 39 1 23 1-62 1 45 1-54 1 115 1-137 1 51 1-56 1-71 1 38 1 18 1-55 1 0 1 38 1 3 1-46 1 104 1-38 1-2 1-17 1 47 1 80 1-117 1-39 1-28 1 27 1 104 1-117 1 23 1-54 1 22 1-13 1-6 1 127 1-13 1-28 1-78 1 30 1 99 1-23 1 4 1 8 1 13 1-12 1 22 1-42 1-14 1-13 1-7 1 106 1-103 1-63 1 55 1-77 1 45 1 82 1-40 1 103 1-4 1-65 1 21 1 65 1 0 1-24 1 34 1 43 1 12 1-14 1 15 1-21 1 38 1-6 1 30 1-68 1 21 1-129 1 14 1 68 1-27 1 49 1-107 1 98 1-83 1 15 1 64 1-21 1 75 1-104 1 6 1-26 1 30 1-65 1 18 1 102 1 11 1 106 1-35 1 81 1-6 1-82 1 114 1-35 1-19 1-32 1-42 1 42 1 47 1-1 1 37 1-40 1-46 1 16 1 60 1-65 1 5 1-24 1-34 1-8 1 7 1 48 1-43 1-57 1 38 1 1 1-54 1-66 1-52 1 13 1-66 1-28 1 40 1 54 1-10 1-30 1 51 1-94 1 56 1 49 1-104 1 89 1 63 1-21 1-92 1 14 1-21 1 33 1 7 1-34 1-20 1 45 1 49 1 102 1-76 1 20 1 27 1-59 1 21 1-52 1 42 1 1 1 16 1-111 1 18 1 32 1-44 1-1 1 68 1 0 1-37 1 18 1 91 1 38 1 13 1-44 1 323 1-323 1 5 1-16 1 30 1-53 1-5 1 3 1-20 1 33 1 7 1 49 1-47 1-4 1 4 1 91 1-49 1-63 1 99 1-6 1-10 1 28 1-47 1 30 1 10 1-63 1 62 1 25 1-72 1 36 1-47 1 14 1-74 1 75 1 32 1-119 1 14 1-4 1 47 1 5 1 47 1 108 1-54 1-53 1-8 1 55 1 12 1-147 1 95 1-1 1 10 1-63 1 13 1-54 1 61 1 4 1 78 1-10 1-13 1 24 1 59 1-24 1-26 1 11 1 16 1-9 1-38 1-46 1-8 1-52 1-5 1 55 1-27 1 64 1 43 1-7 1 28 1-35 1 25 1 67 1-46 1-37 1 106 1-10 1-78 1-62 1-28 1-2 1-110 1 55 1-12 1 14 1 55 1 13 1-63 1-29 1-63 1 75 1 8 1 23 1-59 1 123 1-2 1-54 1 52 1-64 1-34 1 28 1-14 1 1 1 61 1 58 1-16 1 47 1-124 1-23 1 39 1-60 1 36 1 41 1-82 1 47 1-30 1-5 1 16 1-46 1-20 1-16 1-35 1 67 1 46 1-38 1-34 1-61 1 87 1 21 1-14 1-8 1 6 1 114 1-103 1 43 1-59 1-58 1-47 1 13 1 36 1-53 1 67 1-53 1 141 1-65 1-38 1 21 1-4 1-36 1 59 1-30 1-30 1 38 1-56 1 27 1 59 1 42 1-23 1-58 1-61 1 103 1 11 1-12 1-55 1 37 1-43 1-18 1-1 1-17 1 27 1-11 1 77 1-19 1-7 1-48 1 4 1 13 1-5 1-15 1-41 1 38 1-29 1-36 1 34 1 95 1-88 1 24 1-35 1 22 1 58 1-4 1-35 1 29 1 10 1-12 1 109 1-42 1-31 1 36 1-68 1-2 1 50 1-70 1-85 1-17 1 103 1 35 1 53 1 30 1-71 1 102 1-65 1-3 1 71 1-32 1-44 1-57 1 27 1 30 1-65 1 111 1-30 1-46 1 44 1-83 1 33 1 18 1-22 1-31 1 81 1-8 1 72 1-130 1 26 1-58 1 8 1 1 1-1 1 37 1 8 1 32 1 21 1-124 1 109 1-79 1 45 1 59 1-1 1 42 1 14 1-9 1-62 1 44 1 38 1-87 1 29 1 59 1-83 1 67 1-89 1 2 1 90 1 4 1-77 1 6 1-5 1 27 1-61 1 23 1 55 1 13 1-13 1-25 1-44 1 3 1 27 1 0 1 4 1 8 1 92 1 15 1-76 1 27 1-21 1 140 1-82 1 30 1-37 1-20 1-52 1 53 1-85 1 117 1-35 1 39 1-62 1 103 1-77 1 85 1-97 1 29 1 6 1 1 1-15 1 84 1-39 1 58 1-44 1-17 1-15 1 10 1-50 1 75 1-3 1-56 1-29 1 37 1 61 1-76 1 24 1-48 1 14 1 56 1-65 1 71 1-18 1-93 1 6 1 107 1-90 1 34 1-31 1 10 1-57 1 18 1 74 1 21 1-81 1 6 1 192 1-123 1-8 1 19 1 14 1 32 1-45 1-25 1 92 1-44 1 98 1-100 1-54 1 22 1 26 1 5 1-31 1 2 1-79 1-61 1 64 1-18 1-30 1 24 1 42 1 18 1 46 1-63 1 21 1-11 1-25 1 61 1-51 1-3 1-6 1 78 1 48 1 35 1 20 1-52 1-13 1-5 1 30 1 31 1 44 1-101 1-23 1-15 1 48 1 1 1 47 1-39 1-82 1 57 1-83 1 33 1-38 1 33 1 29 1 12 1-40 1-55 1 15 1 22 1-53 1 34 1 3 1-14 1-19 1 47 1 42 1-60 1 11 1-7 1 46 1-104 1 170 1-71 1-44 1 35 1 37 1-20 1 15 1 21 1 229 1-246 1-70 1 47 1 7 1 24 1 30 1-12 1-74 1-4 1 24 1-83 1-8 1-11 1-56 1 78 1 19 1-10 1 97 1-84 1-77 1 43 1-62 1 64 1-25 1 42 1-22 1 36 1 93 1-101 1 13 1 24 1-52 1 31 1 59 1-39 1-49 1 59 1 25 1-11 1 1 1 13 1 12 1-24 1-51 1 30 1 50 1-22 1-76 1 122 1-20 1-41 1 22 1-59 1 18 1 20 1 51 1-134 1 107 1-148 1 121 1 60 1-113 1-300 1 271 1 5 1-14 1-11 1 18 1 50 1 26 1 20 1-123 1 33 1 60 1-43 1-76 1 72 1 15 1-4 1-35 1 13 1 18 1-32 1-25 1-14 1 68 1-5 1-53 1-21 1-13 1 2 1 86 1 22 1-103 1 117 1-9 1 53 1-11 1-45 1 49 1-30 1-37 1-17 1-41 1-10 1 38 1-3 1-45 1 110 1 21 1-138 1 1 1 6 1 35 1 132 1-86 1 6 1 75 1 46 1-100 1-9 1-56 1 17 1-14 1 39 1-62 1 82 1-18 1 14 1-1 1-40 1-40 1 2 1-1 1-28 1-8 1 111 1-57 1-67 1-55 1 91 1 22 1-47 1 12 1-35 1 81 1-10 1 23 1-24 1 4 1 67 1-30 1 46 1-61 1-62 1 41 1-3 1-32 1-31 1 110 1 30 1 2 1-50 1 146 1-156 1-20 1 6 1 44 1-112 1-28 1-67 1 148 1-40 1 61 1-115 1-21 1 46 1 21 1 90 1-100 1-17 1 137 1 3 1-51 1-52 1-9 1 55 1-28 1 19 1 20 1-104 1 98 1 61 1-45 1 17 1 53 1-4 1-22 1 8 1-30 1-33 1-67 1-35 1-39 1 89 1 38 1 22 1 21 1-96 1 25 1 46 1-51 1 34 1-23 1 144 1-42 1 52 1-62 1 45 1 11 1 46 1-17 1-18 1-92 1 58 1 70 1-28 1-5 1 60 1-30 1-29 1 79 1-6 1-97 1 10 1 4 1-60 1-35 1 72 1-164 1 72 1-51 1 7 1 9 1 43 1 12 1-28 1 47 1-19 1 44 1-49 1 17 1-42 1-32 1 61 1 33 1 24 1-78 1 4 1-3 1 96 1-46 1 42 1-3 1 30 1-17 1 17 1 14 1-23 1-25 1-107 1 96 1-52 1-24 1 97 1-44 1-20 1-87 1 100 1 121 1-110 1 33 1 64 1-63 1 78 1 17 1-47 1 34 1-1 1-48 1-23 1 43 1-52 1-77 1 129 1 80 1-88 1 37 1-28 1 43 1-103 1-1 1 54 1-55 1-10 1-46 1 87 1-31 1-42 1 87 1-57 1-64 1 11 1 95 1-19 1 95 1 18 1-1 1 17 1-33 1-53 1-87 1 81 1-87 1-18 1 1 1 125 1-9 1 36 1-110 1 110 1-60 1 35 1 25 1-129 1 65 1-44 1 51 1-28 1 42 1-14 1-13 1 53 1-17 1-13 1 24 1-45 1-77 1 42 1-5 1 6 1-36 1 18 1 43 1-30 1-128 1 97 1 23 1-73 1 143 1-67 1 46 1-74 1 15 1-37 1 31 1 2 1-116 1 65 1 4 1 17 1 30 1 19 1 96 1-46 1 46 1-33 1 10 1-30 1-208 1 219 1-13 1-62 1-45 1 16 1 120 1-6 1-75 1 71 1 0 1-40 1-21 1-42 1 42 1-21 1-11 1-120 1 107 1-3 1 88 1-44 1 47 1-3 1-36 1-43 1-32 1 45 1 41 1-50 1-22 1-63 1 88 1-33 1-148 1 139 1-85 1-52 1-14 1 66 1 40 1-23 1 18 1 71 1-55 1-35 1-25 1 17 1-44 1 54 1-54 1 2 1 13 1 86 1 10 1 49 1 32 1-104 1-36 1 22 1-51 1-26 1-4 1 6 1-42 1 30 1 67 1 49 1-16 1 21 1-64 1-30 1 65 1-31 1 23 1-14 1-64 1 30 1 101 1 21 1-52 1-74 1 15 1 50 1-43 1 5 1-77 1 74 1-16 1-7 1 11 1-13 1-7 1 62 1-29 1 93 1-46 1-96 1 113 1-57 1-53 1 19 1 17 1-56 1 59 1-123 1 44 1-87 1 35 1 20 1-6 1 102 1-13 1-102 1 49 1 0 1-63 1 67 1 82 1-165 1 100 1-74 1 54 1 46 1 69 1-68 1 159 1-128 1 100 1-172 1 41 1-66 1-92 1 139 1 2 1-135 1 139 1-36 1 64 1-55 1 45 1-25 1 185 1-176 1 35 1 18 1 23 1-22 1-67 1 35 1-44 1 103 1-24 1 13 1-60 1 13 1 37 1 7 1-55 1 28 1-23 1-5 1-12 1 29 1 29 1 1 1 1 1-2 1-7 1 45 1-31 1 9 1-32 1-23 1-38 1 89 1-5 1 2 1-143 1 186 1-16 1 30 1 47 1 3 1-2 1-128 1 49 1 15 1 5 1 4 1-64 1-29 1 0 1 23 1-14 1 79 1 35 1-48 1 51 1 24 1 68 1-79 1-7 1 8 1 18 1-19 1 126 1-225 1 6 1-34 1-24 1 54 1 2 1-70 1 63 1 3 1-36 1 140 1-67 1 49 1 71 1 0 1 43 1-114 1 64 1-39 1-49 1 114 1-7 1 2 1 24 1-63 1-54 1 79 1-55 1 16 1 65 1-41 1 18 1-39 1-21 1 61 1-65 1 0 1 58 1 26 1-8 1 85 1-16 1 40 1-33 1-51 1-90 1 54 1 20 1-43 1 28 1-123 1 76 1 51 1-85 1 148 1 42 1-47 1 14 1-65 1-5 1 15 1 18 1 3 1 22 1 18 1-42 1 2 1-17 1 4 1 130 1-127 1-94 1-18 1 24 1 69 1-28 1 3 1 12 1-1 1 34 1-25 1 3 1-27 1 10 1 75 1-53 1-146 1 81 1-27 1-8 1 8 1-23 1 83 1-6 1-37 1-58 1 61 1 37 1 41 1-107 1 42 1 31 1 51 1 56 1 75 1 62 1-11 1-65 1-58 1 7 1-3 1-15 1 60 1 38 1 4 1-34 1-41 1-8 1-80 1-55 1-107 1 77 1 9 1 10 1 49 1 0 1 22 1-3 1-52 1 17 1 55 1-24 1-12 1 0 1-22 1 24 1-22 1 13 1 14 1 54 1 64 1-3 1-29 1-97 1 11 1-10 1 36 1 1 1 2 1 12 1 9 1 42 1 32 1-44 1 11 1-79 1 38 1 13 1 1 1-22 1 43 1-57 1 81 1-60 1-87 1 142 1-3 1-32 1 28 1-107 1 30 1-47 1 0 1 20 1-51 1 50 1-38 1-21 1 99 1 30 1 24 1-14 1 79 1-71 1 23 1-4 1-19 1-25 1 40 1 46 1-84 1-54 1 11 1 6 1 22 1-46 1 14 1 69 1-149 1 80 1 85 1-24 1-88 1 19 1 3 1 44 1 11 1 8 1-68 1-63 1-46 1 19 1-52 1-67 1 23 1 27 1-23 1-71 1 81 1-40 1 83 1-49 1 58 1-93 1 23 1 72 1-12 1-13 1-44 1 58 1-100 1 52 1 29 1-59 1 12 1-30 1-11 1 18 1 25 1-60 1 49 1 50 1 5 1-76 1 0 1 55 1 17 1-52 1-12 1 17 1-124 1-54 1 28 1 27 1-15 1 61 1 102 1 2 1-30 1-45 1 26 1-39 1-24 1 97 1-74 1 24 1-18 1 24 1 68 1 19 1-31 1-49 1-42 1-21 1 9 1 84 1-83 1-63 1-19 1 54 1 53 1 79 1 28 1 13 1-60 1 34 1-53 1-61 1 17 1 9 1 83 1-9 1-59 1 68 1-10 1 32 1-65 1 97 1-30 1-28 1 18 1-18 1 100 1-81 1 38 1 55 1 0 1-12 1-12 1-73 1 42 1-121 1-9 1 76 1-70 1 38 1 10 1 90 1-104 1 84 1 4 1-73 1 59 1-9 1-19 1 111 1-29 1-58 1 27 1-75 1 59 1-24 1 29 1-16 1-22 1-67 1 52 1 112 1-11 1-59 1 11 1-35 1-7 1 27 1 52 1-91 1 83 1-34 1-8 1-60 1-29 1 43 1 34 1 72 1-18 1 18 1 0 1 16 1 17 1 64 1-61 1-26 1 9 1 43 1 22 1 29 1 16 1-36 1-95 1 40 1 12 1 7 1-43 1 74 1 4 1 49 1-187 1 71 1-87 1-105 1 142 1-73 1 70 1-99 1 39 1 98 1 68 1-76 1 22 1-29 1-13 1 65 1-78 1-147 1 67 1 47 1 44 1-50 1 91 1 3 1 32 1 11 1-40 1 7 1 29 1-43 1 42 1-40 1 10 1 13 1-45 1 5 1-54 1 42 1 68 1-54 1-1 1-31 1 2 1 20 1-34 1 63 1-46 1 117 1-52 1-13 1 31 1 59 1-47 1-22 1-43 1-37 1-7 1-30 1 64 1-13 1 100 1-39 1-62 1 27 1 17 1-44 1 91 1-14 1-71 1-43 1 0 1 10 1 24 1 97 1-30 1 10 1 22 1-82 1 2 1 96 1 8 1 18 1 67 1-243 1 140 1 19 1-17 1 154 1-52 1-3 1-35 1-22 1-58 1 76 1-66 1-61 1 53 1 37 1 5 1-37 1 15 1-22 1-18 1 51 1-81 1-41 1 50 1-22 1 53 1 45 1-31 1 121 1-69 1-74 1 19 1 50 1-31 1 94 1-16 1 98 1-179 1 128 1 60 1-3 1-18 1-46 1-38 1 15 1-3 1-51 1-35 1-4 1-55 1 7 1 29 1 51 1-108 1 3 1 39 1 64 1-14 1-281 1 184 1-104 1 4 1 210 1-57 1 67 1-46 1-29 1 44 1-14 1-35 1 76 1 10 1-38 1-59 1 8 1-24 1 58 1 1 1-49 1 86 1-8 1-6 1-36 1 25 1-18 1 10 1-8 1-16 1 45 1-62 1 20 1-44 1 11 1 5 1 9 1 3 1 18 1-3 1-48 1-39 1 139 1-134 1 13 1-36 1-50 1-77 1 59 1 21 1-106 1 85 1 65 1-74 1 49 1-63 1 85 1-58 1-8 1 65 1-27 1-1 1-20 1 5 1-43 1 64 1-58 1 66 1 105 1 18 1-27 1-81 1 45 1-46 1 13 1-97 1 12 1 62 1 20 1-89 1 52 1-69 1 57 1-6 1-29 1 56 1-102 1-89 1 99 1 105 1 25 1-42 1-34 1-3 1-57 1 83 1 41 1-20 1-19 1-68 1 43 1 51 1-48 1 38 1-149 1 34 1 68 1-115 1 58 1 36 1 26 1-37 1-32 1-72 1 61 1 47 1 25 1-25 1-42 1-73 1-5 1 5 1 82 1-16 1-8 1 37 1 43 1-24 1 43 1 31 1-38 1-26 1-49 1 74 1 46 1-51 1 74 1-9 1 71 1-25 1-51 1-75 1 88 1 19 1 2 1-91 1 55 1-77 1-64 1 41 1-19 1 100 1 21 1-31 1 54 1-44 1-19 1 1 1 9 1-10 1 54 1 2 1-45 1-62 1 31 1-43 1 180 1 12 1-18 1-37 1-25 1-73 1 73 1 57 1-77 1 55 1-57 1 20 1 14 1-56 1-36 1 72 1-31 1 56 1 36 1-64 1-41 1 30 1 22 1 2 1 12 1 34 1-58 1-64 1 21 1-9 1 32 1-67 1 82 1-77 1 9 1 57 1 7 1 111 1-59 1-57 1 69 1-42 1 27 1-45 1 1 1-74 1-34 1-66 1 30 1 70 1 54 1-22 1 8 1 38 1-17 1-24 1 24 1 13 1-58 1-13 1 52 1 25 1-18 1-61 1-15 1 22 1 9 1-58 1 151 1-13 1 1 1 32 1-157 1-60 1 62 1-7 1-24 1 144 1-100 1 7 1-5 1 66 1-83 1 31 1 48 1 40 1 45 1 41 1-60 1-78 1 62 1-50 1-5 1 20 1-28 1-3 1 55 1-75 1 3 1 2 1 45 1-50 1-23 1 46 1 38 1-39 1 2 1 26 1 0 1 38 1 71 1-8 1-25 1-5 1 51 1-7 1 12 1-9 1 29 1-57 1-75 1 65 1-40 1 57 1-27 1-18 1 16 1 28 1 57 1 23 1-68 1-49 1 32 1-64 1 43 1 68 1-30 1-29 1 69 1-5 1-49 1-27 1 141 1-50 1-55 1 93 1 21 1-63 1 43 1 15 1 8 1-62 1 91 1-35 1 45 1 12 1-36 1-43 1 79 1-22 1 2 1-11 1 9 1-94 1 71 1-25 1-101 1 10 1-18 1-71 1 57 1 54 1 4 1 1 1 50 1 31 1-47 1-3 1 46 1-16 1 4 1 29 1 68 1 36 1-116 1 12 1-85 1 32 1 87 1-110 1 19 1-40 1 57 1-22 1 75 1-8 1 56 1 7 1-98 1 10 1 59 1-135 1-23 1-3 1-18 1 62 1 18 1-76 1 51 1 45 1-69 1 95 1-46 1-56 1-15 1-2 1-36 1 111 1 27 1-56 1 53 1-45 1-83 1 51 1 12 1-54 1 53 1 9 1 31 1 95 1 36 1-159 1 26 1 133 1-139 1-17 1-26 1-47 1 115 1 45 1-73 1 88 1-140 1 44 1-21 1-48 1-99 1-30 1 22 1 28 1 36 1-67 1 69 1-35 1 74 1-14 1-25 1-54 1-59 1-131 1 92 1-35 1 68 1-7 1 45 1 1 1 0 1-69 1 36 1-71 1-12 1 19 1 25 1 76 1-40 1-119 1 47 1 77 1-15 1-35 1 32 1 29 1-39 1-13 1 29 1 10 1-26 1 35 1-37 1 87 1-57 1 45 1-82 1 45 1 3 1-3 1 10 1-41 1 126 1-81 1 83 1 23 1-84 1 21 1 24 1-13 1 9 1-30 1 76 1 93 1-119 1-51 1-13 1 2 1-20 1 26 1-29 1 40 1-96 1-19 1 95 1 11 1 29 1-34 1 6 1-68 1 5 1 71 1-15 1 24 1-12 1-57 1 72 1-30 1 62 1-82 1 0 1 14 1 28 1-4 1-7 1 67 1-119 1 27 1 83 1 56 1 18 1-92 1 93 1 8 1-31 1-23 1 53 1-81 1-21 1 22 1-53 1 16 1 52 1-73 1 6 1 165 1-15 1 31 1 25 1-3 1-24 1-55 1 88 1-12 1-48 1-40 1-8 1-54 1 37 1 34 1-18 1-67 1-46 1 43 1-12 1-68 1 0 1-32 1 30 1-75 1 73 1 89 1-12 1-3 1-40 1-5 1-11 1-104 1 116 1 6 1 23 1 118 1-61 1-26 1 3 1-99 1 22 1-15 1 69 1 33 1 3 1-32 1-13 1-34 1 58 1-37 1 41 1 192 1-266 1-39 1 10 1 14 1 56 1 64 1-46 1-88 1-27 1 112 1 43 1 2 1-89 1 207 1-61 1 12 1-28 1 22 1-3 1 128 1-96 1 94 1-129 1-106 1 140 1-40 1 32 1-55 1-107 1-19 1 28 1-39 1-14 1-12 1 45 1 9 1 41 1-116 1 55 1-16 1 27 1 26 1-1 1-28 1 22 1 29 1-35 1-37 1 25 1-7 1 11 1 134 1 2 1-158 1 5 1 68 1-60 1 97 1-64 1 57 1 24 1 4 1 4 1 21 1-14 1 23 1 104 1-97 1-115 1 58 1 45 1-52 1-10 1 5 1 30 1 37 1-32 1 52 1 69 1-43 1-2 1-91 1 96 1-95 1 37 1-45 1-12 1-1 1 54 1-61 1 18 1 122 1-49 1 26 1 49 1 2 1-113 1 34 1-84 1 4 1-45 1-30 1 1 1 99 1 1 1 63 1-107 1 37 1-27 1 58 1-75 1 54 1-54 1 23 1 35 1-62 1 64 1-1 1-53 1 320 1-282 1 13 1 9 1 11 1 1 1 36 1-16 1-30 1-25 1-35 1 21 1 64 1 28 1-23 1 18 1-80 1 38 1-51 1 124 1-40 1-27 1 32 1-96 1-165 1 134 1-47 1 21 1-11 1 67 1 22 1-41 1 13 1 61 1-116 1 75 1 24 1-11 1 27 1-15 1 1 1-29 1-25 1 12 1 22 1 36 1-31 1 59 1-61 1-45 1-15 1-76 1 91 1-13 1 8 1-19 1-13 1-31 1 40 1 55 1 10 1-54 1 85 1-24 1 19 1 22 1-73 1 30 1 45 1-77 1 24 1 11 1 24 1-39 1-35 1 68 1 28 1-4 1-66 1 98 1-28 1-58 1-9 1 26 1-63 1-21 1 37 1-22 1-28 1-14 1 22 1-54 1 38 1-49 1 22 1-36 1-24 1 66 1 54 1-85 1-34 1-3 1 40 1 41 1 50 1-148 1 103 1 47 1-23 1 16 1-112 1 108 1-56 1-21 1 111 1-60 1-7 1-88 1 85 1 23 1-23 1-14 1-24 1-35 1 78 1-29 1-37 1 71 1-3 1-62 1 7 1 2 1 43 1-1 1-5 1 39 1-79 1 52 1 47 1-25 1-66 1 55 1-74 1 18 1 73 1-88 1-17 1 32 1-43 1 5 1 10 1 86 1-23 1 4 1-10 1-32 1 0 1-58 1 48 1-9 1 52 1-21 1 29 1-31 1 24 1 19 1 18 1 2 1 3 1 39 1-60 1-27 1-85 1 114 1-32 1 80 1 18 1-25 1-39 1 68 1-86 1 36 1 5 1 39 1-4 1-6 1-4 1-57 1-34 1 5 1-8 1-7 1 9 1-7 1 80 1-27 1-2 1-28 1 86 1-23 1-60 1 5 1-22 1-58 1 9 1-2 1 136 1-53 1 19 1-31 1-17 1-65 1 187 1-103 1 90 1-103 1 86 1 37 1-55 1-15 1 120 1-155 1 55 1 12 1 31 1-25 1-83 1 74 1 37 1-61 1 14 1 80 1-83 1 120 1-34 1-36 1-39 1-44 1 143 1-109 1 66 1-15 1-21 1 36 1-21 1-163 1 40 1 23 1 3 1 26 1-40 1 80 1-2 1 81 1-114 1 83 1-185 1 92 1-39 1 22 1 85 1-98 1 31 1 44 1-33 1 85 1 18 1-48 1-35 1-29 1 27 1-85 1 9 1-29 1 65 1-30 1 78 1-31 1-43 1 47 1-65 1 39 1 42 1-150 1 83 1 14 1 9 1 16 1 13 1-7 1-18 1 83 1-59 1-38 1 20 1 4 1 3 1-13 1-31 1-40 1 68 1-50 1-9 1 130 1-1 1-2 1 0 1-82 1 55 1-68 1 37 1-68 1 84 1-60 1 33 1 35 1 45 1 12 1-79 1 42 1-41 1 14 1 62 1 25 1 23 1-41 1 16 1 52 1 2 1-35 1-52 1 45 1-135 1 81 1 17 1 18 1 4 1-91 1 24 1 70 1-21 1 30 1-2 1-13 1-34 1 21 1 27 1-35 1 13 1-28 1 34 1-143 1 153 1-50 1 119 1 10 1-66 1 19 1 60 1 53 1-11 1-67 1-75 1 35 1 29 1-13 1 85 1 10 1 6 1 11 1-38 1 37 1 41 1-52 1-9 1-101 1 74 1 142 1-110 1 54 1 4 1-39 1-52 1 93 1-96 1 24 1-51 1-87 1 37 1 63 1-37 1 32 1-20 1 11 1 45 1 7 1-37 1-39 1 46 1-15 1-9 1-9 1-125 1 30 1 15 1-29 1-82 1 169 1 64 1-56 1-9 1-80 1 39 1-27 1 84 1-71 1 16 1-31 1-6 1 14 1 38 1 108 1-64 1 13 1-11 1-56 1-4 1 26 1-23 1 44 1 37 1 6 1-104 1 76 1-199 1 34 1 63 1-28 1-20 1-19 1 37 1-10 1-22 1 82 1 20 1 19 1 67 1 20 1 34 1-113 1-44 1 54 1-7 1 16 1-32 1-94 1-26 1 47 1 87 1-131 1 47 1 2 1-19 1 24 1-30 1 31 1-6 1 26 1-13 1 7 1 51 1-93 1-39 1 17 1 80 1-16 1 64 1-33 1-15 1 13 1 9 1-147 1 30 1 3 1 45 1-58 1 36 1-53 1-4 1 22 1-11 1 19 1 2 1-49 1 35 1-36 1-24 1 81 1-1 1 21 1-13 1 51 1-3 1-91 1-128 1 185 1-67 1 73 1-42 1-5 1-29 1 9 1-80 1 29 1 10 1 12 1 40"/></g>
<line x1="61.1" y1="107.85" x2="667.5" y2="107.85" stroke="#000" stroke-width="3.2" stroke-dasharray="12.7 13.4"/>
<line x1="61.1" y1="218.1" x2="667.5" y2="218.1" stroke="#000" stroke-width="3.2" stroke-dasharray="12.7 13.4"/>
<text x="56.3" y="12.10" text-anchor="end" font-size="16" fill="#262626">0.04</text>
<text x="56.3" y="51.48" text-anchor="end" font-size="16" fill="#262626">0.03</text>
<text x="56.3" y="90.85" text-anchor="end" font-size="16" fill="#262626">0.02</text>
<text x="56.3" y="130.22" text-anchor="end" font-size="16" fill="#262626">0.01</text>
<text x="56.3" y="169.60" text-anchor="end" font-size="16" fill="#262626">0</text>
<text x="56.3" y="208.97" text-anchor="end" font-size="16" fill="#262626">-0.01</text>
<text x="56.3" y="248.35" text-anchor="end" font-size="16" fill="#262626">-0.02</text>
<text x="56.3" y="287.73" text-anchor="end" font-size="16" fill="#262626">-0.03</text>
<text x="56.3" y="327.10" text-anchor="end" font-size="16" fill="#262626">-0.04</text>
<text x="61.00" y="342.30" text-anchor="middle" font-size="16" fill="#262626">1976</text>
<text x="241.66" y="342.30" text-anchor="middle" font-size="16" fill="#262626">1990</text>
<text x="370.70" y="342.30" text-anchor="middle" font-size="16" fill="#262626">2000</text>
<text x="499.74" y="342.30" text-anchor="middle" font-size="16" fill="#262626">2010</text>
<text x="667.50" y="342.30" text-anchor="middle" font-size="16" fill="#262626">2023</text>
<text transform="translate(13.3,163.5) rotate(-90)" text-anchor="middle" font-size="18" fill="#262626">AAM mass GFZ-SYRTE [ms]</text>
<text x="69.85" y="42.1" font-size="39" fill="#000" textLength="45.1" lengthAdjust="spacingAndGlyphs">(a)</text>
<line x1="61.0" y1="408.15" x2="667.5" y2="408.15" stroke="#dfdfdf"/>
<line x1="61.0" y1="460.70" x2="667.5" y2="460.70" stroke="#dfdfdf"/>
<line x1="61.0" y1="513.25" x2="667.5" y2="513.25" stroke="#dfdfdf"/>
<line x1="61.0" y1="565.80" x2="667.5" y2="565.80" stroke="#dfdfdf"/>
<line x1="61.0" y1="618.35" x2="667.5" y2="618.35" stroke="#dfdfdf"/>
<line x1="241.66" y1="355.6" x2="241.66" y2="670.9" stroke="#dfdfdf"/>
<line x1="370.70" y1="355.6" x2="370.70" y2="670.9" stroke="#dfdfdf"/>
<line x1="499.74" y1="355.6" x2="499.74" y2="670.9" stroke="#dfdfdf"/>
<rect x="61.0" y="355.6" width="606.5" height="315.29999999999995" fill="none" stroke="#3c3c3c" stroke-width="1.4"/>
<line x1="61.0" y1="355.60" x2="67.0" y2="355.60" stroke="#3c3c3c" stroke-width="1.4"/>
<line x1="661.5" y1="355.60" x2="667.5" y2="355.60" stroke="#3c3c3c" stroke-width="1.4"/>
<line x1="61.0" y1="408.15" x2="67.0" y2="408.15" stroke="#3c3c3c" stroke-width="1.4"/>
<line x1="661.5" y1="408.15" x2="667.5" y2="408.15" stroke="#3c3c3c" stroke-width="1.4"/>
<line x1="61.0" y1="460.70" x2="67.0" y2="460.70" stroke="#3c3c3c" stroke-width="1.4"/>
<line x1="661.5" y1="460.70" x2="667.5" y2="460.70" stroke="#3c3c3c" stroke-width="1.4"/>
<line x1="61.0" y1="513.25" x2="67.0" y2="513.25" stroke="#3c3c3c" stroke-width="1.4"/>
<line x1="661.5" y1="513.25" x2="667.5" y2="513.25" stroke="#3c3c3c" stroke-width="1.4"/>
<line x1="61.0" y1="565.80" x2="67.0" y2="565.80" stroke="#3c3c3c" stroke-width="1.4"/>
<line x1="661.5" y1="565.80" x2="667.5" y2="565.80" stroke="#3c3c3c" stroke-width="1.4"/>
<line x1="61.0" y1="618.35" x2="67.0" y2="618.35" stroke="#3c3c3c" stroke-width="1.4"/>
<line x1="661.5" y1="618.35" x2="667.5" y2="618.35" stroke="#3c3c3c" stroke-width="1.4"/>
<line x1="61.0" y1="670.90" x2="67.0" y2="670.90" stroke="#3c3c3c" stroke-width="1.4"/>
<line x1="661.5" y1="670.90" x2="667.5" y2="670.90" stroke="#3c3c3c" stroke-width="1.4"/>
<line x1="241.66" y1="670.9" x2="241.66" y2="664.9" stroke="#3c3c3c" stroke-width="1.4"/>
<line x1="241.66" y1="355.6" x2="241.66" y2="361.6" stroke="#3c3c3c" stroke-width="1.4"/>
<line x1="370.70" y1="670.9" x2="370.70" y2="664.9" stroke="#3c3c3c" stroke-width="1.4"/>
<line x1="370.70" y1="355.6" x2="370.70" y2="361.6" stroke="#3c3c3c" stroke-width="1.4"/>
<line x1="499.74" y1="670.9" x2="499.74" y2="664.9" stroke="#3c3c3c" stroke-width="1.4"/>
<line x1="499.74" y1="355.6" x2="499.74" y2="361.6" stroke="#3c3c3c" stroke-width="1.4"/>
<rect x="61.0" y="460.3" width="606.5" height="106.10" fill="#0072BD" fill-opacity="0.2"/>
<g clip-path="url(#cb)"><path transform="translate(61.0,0) scale(0.035330,0.25)" fill="none" stroke="#0072BD" stroke-width="1.0" vector-effect="non-scaling-stroke" stroke-linejoin="round" d="M0 1878l1-9 1-6 1 103 1-12 1 94 1-51 1-20 1-150 1 160 1-27 1-55 1 30 1-74 1 176 1-38 1 50 1 45 1-45 1 102 1-140 1 44 1 12 1 5 1 91 1-29 1-27 1-34 1-78 1 15 1 43 1 40 1-8 1-6 1 27 1-48 1 27 1 11 1 40 1-49 1 24 1 5 1 39 1-96 1-41 1 17 1-45 1-1 1-42 1 123 1-42 1-22 1 100 1-40 1 78 1-2 1 36 1-31 1-2 1-2 1-74 1-8 1-26 1 110 1-106 1 31 1-50 1 22 1-79 1 16 1-72 1 34 1 12 1 42 1-62 1 9 1 41 1 91 1-31 1 91 1-71 1-33 1-121 1-5 1 135 1-201 1 37 1 150 1-103 1 36 1 32 1-120 1 121 1 124 1-4 1 74 1-176 1-4 1-71 1 41 1-61 1 61 1-75 1 5 1 67 1-36 1-62 1 62 1 36 1-38 1 24 1 176 1-76 1-18 1-75 1 4 1-7 1 79 1 91 1 43 1 12 1-82 1 84 1 6 1 25 1-102 1 66 1 2 1-108 1-42 1 4 1 64 1-61 1 118 1-60 1-77 1 180 1-104 1-59 1-21 1 100 1 84 1 34 1-78 1 5 1-29 1 19 1-14 1-29 1-43 1-71 1 87 1-59 1-48 1-24 1 87 1 56 1-130 1 198 1-87 1 74 1-67 1 149 1-141 1 64 1-8 1-19 1-42 1-30 1-78 1-70 1 115 1 27 1-80 1 6 1 36 1 81 1-62 1-57 1 7 1 32 1 27 1 19 1 0 1-51 1 86 1-57 1-19 1 75 1 32 1-70 1 29 1-54 1 106 1-128 1-13 1-52 1-4 1-54 1 12 1 11 1 104 1 24 1 7 1-2 1 6 1 95 1 0 1-78 1-10 1 6 1-37 1-33 1 1 1 71 1 75 1-68 1-64 1 2 1 89 1-43 1-20 1-76 1 8 1 31 1-67 1 96 1-93 1-124 1 38 1 25 1 77 1-2 1-6 1-20 1 128 1 50 1-87 1 51 1 51 1-68 1-90 1 27 1-83 1 166 1-229 1 169 1-4 1 35 1-52 1-14 1-13 1 71 1-32 1 51 1 65 1 31 1-64 1 73 1 54 1 54 1-62 1-70 1-33 1 56 1-16 1-10 1-18 1 4 1-12 1-32 1-9 1-26 1 41 1-61 1 22 1 0 1-55 1 26 1 89 1 7 1-49 1 22 1-173 1 101 1 105 1-143 1 25 1 69 1 82 1-45 1-53 1 32 1-41 1 4 1 140 1-141 1 1 1-2 1 65 1 33 1-46 1-123 1 11 1 59 1-53 1 43 1 5 1 76 1-76 1-78 1 38 1-16 1 58 1-20 1-49 1 7 1 100 1-108 1-11 1 21 1-75 1 75 1 17 1-58 1 76 1-23 1 33 1-39 1 14 1 61 1 34 1 29 1-37 1 1 1-37 1 18 1 63 1-8 1 23 1 29 1-49 1 70 1-83 1 58 1-57 1 27 1 1 1 139 1-189 1 64 1-73 1 116 1-92 1 42 1 99 1-1 1 84 1-131 1-102 1-27 1-18 1 75 1-70 1 99 1 2 1-44 1 31 1-22 1-12 1 108 1-109 1 66 1-82 1 43 1-64 1-38 1 88 1-111 1 121 1-63 1 132 1-42 1-113 1 31 1 19 1 59 1-64 1 59 1-115 1 94 1-142 1 73 1 12 1 52 1-75 1 136 1 24 1-30 1 61 1-70 1-12 1-35 1-5 1-74 1-26 1 55 1-6 1 25 1-101 1-61 1 71 1 53 1 0 1-84 1-38 1-54 1 37 1 47 1-67 1-108 1 4 1 37 1-25 1 28 1 63 1 44 1-27 1 84 1 16 1-21 1 104 1-52 1 4 1 90 1-184 1 76 1 25 1 32 1-26 1-84 1 56 1-100 1 35 1-30 1 112 1 47 1-104 1 10 1-22 1-30 1 49 1-88 1 46 1 104 1 38 1-105 1-32 1 15 1-30 1-68 1 209 1-78 1-109 1 34 1-14 1-40 1 55 1-5 1 83 1-14 1 38 1 10 1-20 1-6 1 136 1 46 1-128 1 13 1-29 1 35 1 60 1-160 1 11 1 105 1 1 1-84 1 37 1 84 1 43 1-230 1 87 1 10 1-99 1 59 1-3 1-33 1 18 1-31 1-44 1 103 1 68 1-186 1 64 1-59 1 47 1 0 1 23 1-68 1 13 1 75 1 136 1-61 1-60 1-111 1 79 1 77 1-83 1-4 1-50 1 122 1-22 1 43 1 129 1-46 1-104 1 23 1-18 1-69 1 32 1-90 1 61 1-35 1 39 1 30 1 36 1 27 1-110 1 77 1 52 1 1 1 92 1-55 1 51 1-180 1 26 1 23 1 2 1-21 1 146 1-17 1-12 1 47 1-14 1 10 1 55 1-74 1 137 1-26 1-163 1-3 1 0 1 93 1-75 1-28 1-71 1 1 1-111 1 165 1-47 1-171 1 143 1-78 1 17 1 81 1-119 1 98 1 96 1-81 1 27 1-63 1 23 1-57 1 69 1 25 1 58 1 30 1-32 1 81 1-112 1 49 1-80 1-55 1-28 1 112 1 44 1-93 1 7 1-86 1 24 1 10 1-1 1 115 1-43 1-33 1 17 1 13 1 39 1-38 1-62 1 70 1 361 1-419 1-4 1 63 1-48 1 66 1-2 1 60 1-14 1 32 1-53 1-5 1-9 1-19 1 11 1-80 1-237 1 159 1-21 1 60 1-8 1-23 1 3 1-27 1 35 1-92 1 170 1 120 1-11 1 79 1 6 1-117 1-46 1-5 1 225 1-147 1-56 1 55 1-13 1 14 1-65 1-29 1-63 1-39 1 17 1-62 1 135 1 12 1 33 1-38 1 190 1-133 1-22 1-42 1-43 1-25 1-55 1-13 1 24 1 40 1 38 1-122 1 66 1 101 1-1 1 38 1-92 1 123 1-42 1-121 1-43 1 19 1 29 1-104 1 32 1 61 1-35 1 30 1 80 1 76 1 41 1 169 1-95 1-99 1 47 1-79 1-20 1-64 1 26 1 63 1 29 1-413 1 306 1 87 1 77 1-30 1 42 1-67 1 61 1 5 1 129 1-50 1-68 1 94 1-137 1-38 1 29 1-125 1 211 1-129 1 51 1 21 1-30 1 70 1-124 1-96 1-43 1-30 1 6 1 24 1 15 1 39 1-19 1 18 1 59 1-68 1-5 1-6 1-57 1-51 1-16 1 1 1-2 1 73 1 57 1-62 1-6 1 183 1-31 1-27 1 46 1-41 1 71 1-99 1 129 1-74 1-51 1 69 1-5 1 49 1-107 1 40 1-26 1 33 1-98 1 87 1-47 1 63 1-58 1 36 1 16 1-43 1 170 1-154 1-7 1 62 1 7 1-62 1 20 1 29 1 35 1-14 1 4 1 94 1 10 1-8 1-35 1 9 1-93 1-91 1 55 1 6 1-1 1 80 1-73 1 42 1-82 1 56 1-72 1 78 1-106 1 71 1-42 1 46 1 30 1 67 1-32 1 29 1-26 1 22 1-44 1-26 1-49 1-2 1 14 1 15 1-28 1-130 1 124 1-42 1 40 1-84 1-23 1-39 1 120 1-94 1-45 1 69 1 53 1-74 1-12 1 40 1-47 1 141 1-44 1 30 1-68 1 75 1 31 1 40 1-56 1 28 1 72 1 35 1-88 1-10 1-71 1 29 1-21 1-100 1 110 1 76 1-176 1 36 1 99 1 18 1-58 1 18 1 37 1-70 1 19 1 0 1-39 1 63 1-33 1 65 1-49 1 6 1-35 1-31 1-96 1 114 1-97 1 35 1-85 1 66 1 46 1 35 1-35 1-27 1-17 1 156 1-14 1 1 1-16 1 43 1-65 1 7 1 88 1-2 1 20 1 108 1-200 1 91 1 8 1-115 1-32 1-25 1 229 1-221 1 83 1 18 1 183 1-292 1 3 1 95 1-143 1 193 1-119 1 34 1 113 1 39 1 99 1-92 1-181 1 51 1 85 1-98 1 67 1-127 1 81 1 49 1-43 1-22 1-5 1 0 1-52 1-60 1-36 1 101 1-190 1 288 1-120 1 16 1-23 1-27 1 54 1 6 1 81 1-22 1-17 1 12 1 41 1 2 1-77 1 3 1-13 1-25 1 28 1-87 1-18 1 49 1-21 1 143 1-81 1-108 1-39 1-21 1 26 1-62 1 70 1-43 1 24 1 72 1 4 1 81 1-18 1-44 1-31 1-18 1 90 1-97 1 69 1 45 1 57 1-76 1-37 1 21 1 67 1-11 1-70 1 53 1-57 1 59 1 80 1-83 1 45 1 113 1-37 1-17 1-3 1 132 1-31 1-68 1-57 1 65 1-9 1 114 1-19 1 10 1-6 1-154 1 17 1 58 1-193 1-11 1-52 1 159 1-1 1-78 1 37 1-18 1 36 1 16 1 112 1 45 1 7 1-58 1-78 1-22 1 5 1-22 1-51 1-171 1 282 1 43 1 4 1 60 1-110 1-48 1 13 1-97 1 154 1 160 1-120 1 28 1-95 1 42 1 136 1 16 1-42 1-17 1 19 1-30 1-66 1-79 1 27 1 42 1 5 1-113 1 81 1-39 1 122 1-71 1-22 1 75 1 28 1 51 1-60 1 66 1-2 1 2 1 72 1-76 1 71 1-30 1-79 1-25 1-14 1 63 1-71 1-22 1-48 1 64 1-2 1 99 1-113 1 41 1-134 1 33 1-54 1-30 1-66 1 12 1 200 1-143 1-280 1 224 1 83 1-44 1 46 1-66 1-4 1 134 1-63 1-6 1-46 1-10 1 139 1-23 1-34 1 6 1-19 1-32 1 18 1-112 1 99 1-11 1-19 1-2 1-60 1 82 1-67 1-94 1 97 1 118 1 40 1-54 1 28 1 37 1 33 1-32 1-60 1-81 1 54 1 44 1 20 1-89 1 63 1-43 1 125 1-96 1 85 1-18 1 21 1-46 1 31 1-87 1 0 1-20 1 156 1-194 1-8 1 6 1 52 1-41 1 9 1 26 1 1 1 31 1 93 1-15 1 16 1-2 1 5 1 0 1 51 1 73 1-46 1-175 1 223 1-86 1-9 1 26 1 126 1-117 1-41 1 44 1 0 1 30 1 68 1-53 1 48 1-76 1-55 1-129 1 32 1 68 1 1 1-348 1 306 1-66 1 4 1-3 1-80 1-26 1 56 1-74 1 140 1 39 1-73 1-16 1-34 1 9 1-1 1-1 1-67 1 84 1-73 1 1 1-13 1 152 1-121 1 76 1-46 1 22 1 25 1 18 1-57 1-25 1 56 1-60 1 42 1 137 1-121 1 102 1 0 1-9 1 43 1 0 1 43 1 97 1-107 1-39 1 29 1-27 1 38 1 3 1 44 1 22 1-145 1 42 1-35 1 28 1-117 1 4 1 63 1 113 1-88 1 13 1-95 1-65 1 14 1-5 1 396 1-297 1 50 1-50 1-15 1-104 1-36 1 177 1-56 1 99 1-80 1-94 1 41 1 58 1-18 1 18 1 27 1 35 1-83 1-38 1-82 1 159 1-53 1 40 1-142 1 37 1 96 1-71 1-14 1-105 1 71 1 80 1-76 1 52 1 95 1-47 1-35 1-42 1-3 1 9 1 61 1-7 1 13 1 23 1-32 1 26 1 68 1-115 1-63 1-35 1-86 1 26 1 8 1 95 1-60 1 94 1 54 1 49 1-103 1-2 1-86 1 2 1-21 1-4 1-5 1 109 1 86 1-126 1 57 1-20 1-42 1 126 1-105 1-73 1-114 1 143 1-36 1-7 1-42 1 115 1 55 1-24 1 44 1 49 1-6 1-72 1-66 1 2 1-12 1-11 1 21 1 64 1-19 1 18 1-120 1 98 1 44 1 75 1-89 1-41 1 82 1-3 1 67 1 1 1-141 1 46 1-68 1-90 1-43 1 74 1 1 1 8 1 36 1 81 1-29 1 112 1-83 1 87 1-119 1 107 1-36 1-2 1 82 1-129 1-26 1 143 1-48 1-22 1 173 1-47 1 54 1-19 1-20 1-74 1-19 1 34 1 46 1-26 1-41 1-6 1 50 1-60 1-4 1 54 1-56 1 87 1 38 1-75 1 10 1-100 1 130 1-95 1 30 1 91 1-84 1 122 1-141 1-3 1-2 1-10 1 117 1-33 1 15 1-15 1-74 1 11 1-9 1 54 1-58 1 115 1-114 1-119 1 88 1 2 1-66 1 38 1 53 1 30 1-1 1 25 1-30 1-54 1 10 1-126 1 48 1-33 1-33 1 34 1-37 1 22 1-5 1-15 1 82 1 55 1-37 1 2 1-8 1-138 1 94 1-24 1-5 1-74 1-4 1-24 1 55 1-78 1 154 1 134 1 7 1-106 1-61 1 24 1-48 1 2 1 54 1-21 1 30 1 53 1 56 1-86 1-16 1 79 1-20 1 54 1 44 1-110 1-70 1-73 1 65 1 10 1 155 1-97 1-87 1 52 1 63 1 59 1-51 1 65 1-113 1-59 1 88 1 11 1-26 1 50 1-33 1 82 1-64 1 81 1-135 1 17 1-76 1 87 1 37 1-47 1 35 1 4 1 30 1 142 1-97 1 35 1 40 1-48 1-88 1-116 1-33 1 111 1-91 1 59 1 125 1-43 1 35 1 28 1-1 1-46 1 198 1-149 1 30 1-35 1 118 1-58 1-52 1-24 1 141 1-67 1-133 1 67 1 69 1-60 1-24 1 147 1-239 1 86 1-28 1 92 1-133 1 184 1-70 1-68 1-11 1-104 1 53 1-38 1 124 1-40 1 69 1 35 1-33 1 43 1 80 1-79 1-143 1 23 1-6 1 125 1-36 1 37 1 11 1-2 1-34 1 144 1-90 1 63 1-26 1-80 1 109 1-25 1-74 1-31 1-20 1 53 1-40 1 100 1-168 1 28 1-156 1 101 1 47 1 63 1-108 1 52 1-56 1 32 1 18 1 55 1 20 1-126 1 15 1 9 1-37 1 29 1 37 1-90 1 98 1 92 1 32 1 36 1-95 1 7 1 38 1-10 1-149 1 69 1 40 1 61 1-54 1 22 1 40 1-49 1 12 1-39 1 43 1 39 1-116 1 32 1-38 1 114 1-101 1-91 1 3 1 97 1 30 1-28 1-69 1 1 1-32 1-12 1-13 1-87 1 52 1-19 1 133 1 13 1 123 1-74 1-22 1-49 1-26 1 26 1-43 1-1 1-3 1 8 1 38 1-56 1 65 1 27 1 81 1 29 1-55 1 42 1 62 1-79 1 63 1-99 1 76 1-188 1 13 1 21 1 40 1 38 1 33 1-18 1-41 1-27 1-85 1 16 1-37 1-57 1-44 1 17 1-17 1 80 1 125 1-76 1 123 1-75 1 61 1 82 1-131 1-60 1 6 1 75 1-53 1-175 1 127 1-80 1 46 1 61 1-1 1 88 1-47 1 38 1-2 1-96 1 23 1 18 1 94 1 56 1-88 1 27 1 49 1-17 1-17 1-37 1-145 1-32 1 86 1-25 1 20 1-94 1 45 1 94 1-25 1-82 1 24 1 48 1-90 1 13 1-14 1-38 1 66 1-47 1-20 1-55 1-53 1 105 1 75 1 59 1-14 1 74 1 12 1 61 1-52 1 95 1 2 1 81 1-109 1 77 1-108 1-104 1 29 1 4 1 38 1 139 1-83 1 32 1-2 1-167 1 65 1-59 1 57 1-27 1 13 1-88 1 6 1 19 1-47 1-177 1 181 1 48 1-34 1-32 1-134 1 172 1-43 1 40 1-25 1-33 1 50 1-37 1 40 1 31 1 5 1-91 1 54 1-63 1-51 1 72 1-10 1-83 1 77 1 74 1-38 1-64 1-70 1-98 1 93 1 54 1-11 1 44 1 50 1 31 1-26 1 64 1-44 1 34 1-14 1 88 1-142 1 126 1-40 1 59 1-4 1 54 1 53 1 31 1 25 1 21 1-28 1 12 1-5 1-18 1-99 1-46 1 20 1 22 1 57 1-106 1 160 1-103 1 129 1 22 1-37 1 22 1-166 1 25 1-52 1-203 1 117 1 51 1 14 1 51 1-69 1-1 1 24 1-82 1 109 1 27 1-144 1-73 1 5 1 66 1 141 1 1 1-86 1 16 1-27 1 128 1-42 1-24 1 23 1 46 1-32 1-12 1 45 1-96 1 54 1-73 1 88 1 22 1-116 1-6 1 176 1-93 1-102 1 34 1 104 1 50 1 2 1-2 1-4 1 39 1-72 1-164 1 8 1 65 1-27 1-3 1-98 1 58 1 70 1-167 1 105 1-81 1-34 1-36 1 124 1 71 1-39 1 8 1 129 1-51 1 43 1 2 1-88 1-2 1-54 1 84 1 27 1 27 1 128 1-147 1 30 1-202 1 145 1 35 1-42 1 41 1 22 1-78 1-98 1-44 1 62 1 81 1-25 1 3 1-43 1 46 1-20 1-3 1 12 1 121 1-29 1-81 1-92 1 59 1-47 1-7 1-60 1 151 1-40 1 78 1-35 1 72 1-79 1 4 1-6 1 42 1-17 1-32 1-33 1-12 1 17 1 8 1 15 1-65 1-55 1-114 1 113 1-18 1-141 1 147 1 23 1 41 1 54 1-14 1-31 1 19 1 118 1-28 1-22 1-30 1 53 1-13 1-106 1-65 1 56 1-46 1 102 1 10 1-132 1 76 1 3 1 66 1-27 1 24 1 47 1 165 1-107 1 9 1-4 1 54 1-185 1 120 1-51 1 24 1-35 1 13 1-146 1 59 1 26 1-61 1-99 1 89 1-10 1-4 1 50 1 32 1-21 1-238 1 269 1-15 1-72 1 50 1-13 1 41 1-93 1-52 1 25 1 42 1 56 1 30 1 11 1 4 1-45 1 68 1-67 1 69 1-32 1-28 1 69 1-95 1-73 1 39 1-67 1-74 1 35 1 64 1 106 1 77 1-156 1-75 1 42 1 84 1 61 1 3 1-141 1 120 1 123 1-29 1-75 1 91 1-114 1 76 1-81 1 65 1-71 1-24 1 44 1 50 1-89 1-68 1 37 1 22 1 10 1 41 1-111 1 164 1-80 1 8 1-99 1 1 1 82 1-28 1 1 1 68 1 11 1 49 1-40 1-40 1 15 1 19 1-9 1 6 1 89 1 67 1-108 1-9 1-47 1-46 1 36 1-37 1 58 1-144 1 105 1-73 1-38 1 182 1-96 1-154 1 67 1-15 1 119 1 17 1 76 1-62 1-24 1-80 1 93 1-43 1 2 1-76 1 67 1 59 1-46 1 15 1-32 1 76 1-68 1 102 1-18 1 73 1-39 1 23 1-84 1 69 1-28 1 53 1-23 1-93 1 37 1-58 1-29 1 240 1-149 1-29 1-37 1 87 1 41 1-40 1 54 1-66 1-83 1 68 1-70 1 164 1-145 1 6 1-15 1 50 1 76 1-129 1 53 1-29 1-3 1 58 1-162 1 97 1 96 1-30 1-66 1 10 1 37 1 56 1-175 1-3 1-77 1 134 1-125 1 9 1 57 1 44 1-122 1 44 1-61 1 41 1 65 1-56 1-51 1 39 1 11 1-51 1 41 1-74 1 132 1-16 1 109 1-72 1 119 1-153 1-14 1 21 1 61 1-9 1 2 1 49 1-25 1-8 1-67 1-27 1 42 1 49 1 2 1 108 1-163 1 105 1-34 1 180 1-174 1 120 1-93 1-101 1 20 1-143 1 195 1-15 1-39 1 73 1-36 1-13 1-12 1 17 1-87 1 9 1 44 1 15 1 20 1 75 1-34 1 88 1 24 1-118 1 87 1-5 1-182 1 81 1-59 1 85 1-75 1 77 1 50 1-91 1 26 1-30 1 44 1 90 1-28 1 38 1-71 1 67 1 21 1-118 1 11 1-32 1 11 1-121 1 35 1-111 1 48 1 83 1 51 1 58 1-75 1-47 1-105 1 139 1 81 1-20 1-94 1-39 1-16 1 120 1-113 1 4 1 145 1-142 1 66 1 59 1-64 1 11 1-19 1 8 1 70 1-1 1-12 1-40 1-6 1-17 1 147 1-102 1 47 1 21 1 6 1-107 1 146 1 91 1-125 1-21 1-44 1 36 1 216 1-46 1 52 1-63 1-21 1-79 1 144 1-126 1 76 1 26 1-144 1-84 1 19 1 53 1-37 1 64 1 51 1-118 1-89 1 119 1-55 1-16 1 21 1-59 1 3 1 48 1-34 1-30 1 71 1-64 1-25 1 125 1-13 1 191 1-136 1 5 1 25 1-65 1-40 1-2 1-96 1 63 1-34 1-22 1 20 1 38 1 12 1 193 1-25 1-95 1 42 1-188 1-26 1 27 1-22 1 118 1 11 1-59 1-35 1 21 1-110 1 9 1 243 1-191 1 22 1 88 1-61 1 118 1-62 1 17 1-82 1-42 1-27 1 85 1 38 1 1 1 55 1-66 1-1 1-49 1-72 1 2 1 52 1-33 1-68 1-3 1-49 1 171 1-5 1-45 1 43 1 92 1-108 1 7 1 122 1-20 1-4 1-34 1 65 1-42 1 30 1-73 1 60 1-27 1-86 1 94 1-49 1-21 1 22 1 54 1-48 1 34 1 102 1-83 1 43 1-149 1 76 1 13 1-44 1 24 1-81 1 9 1 0 1 16 1-34 1-28 1 10 1 35 1 101 1-39 1-95 1 94 1 45 1-111 1 51 1-1 1-32 1-9 1 86 1 31 1-15 1-21 1-163 1 203 1-23 1-61 1-185 1 171 1-21 1-28 1 31 1 5 1 9 1 34 1 23 1 28 1 65 1-41 1-32 1-10 1 17 1-44 1-7 1 53 1-68 1 57 1 7 1-24 1 45 1-52 1-71 1-11 1-32 1 8 1 77 1 133 1-63 1-33 1-50 1 52 1 56 1-61 1 112 1 2 1-33 1 26 1-16 1-43 1 40 1-40 1 76 1-40 1-81 1 30 1-3 1-42 1 45 1-81 1 21 1 39 1-14 1 98 1 25 1 88 1-148 1 65 1 22 1-110 1-7 1-12 1 18 1 16 1-83 1-45 1-31 1 65 1 75 1 12 1-46 1 54 1-13 1 24 1-44 1 71 1 21 1-156 1 200 1-145 1-22 1-74 1 128 1-106 1 22 1 98 1-108 1 133 1-32 1 97 1-443 1 367 1 84 1-111 1-84 1 17 1-3 1 56 1 49 1-117 1-133 1 122 1-85 1 9 1 114 1-83 1 57 1 41 1-69 1 83 1-94 1-40 1-59 1 88 1 134 1 95 1-106 1-33 1 3 1 97 1-103 1 55 1 29 1 29 1 50 1-30 1 82 1 84 1-129 1 37 1-34 1-52 1-60 1 103 1-34 1 109 1-57 1-20 1-79 1 96 1-92 1 38 1-95 1-47 1 9 1 33 1-27 1-5 1 109 1-81 1-149 1 49 1 118 1-24 1-62 1 85 1-39 1 24 1-6 1-1 1-9 1 37 1 2 1 18 1-95 1 113 1-29 1-14 1-98 1 114 1-107 1 16 1-8 1 33 1-32 1 117 1-168 1-15 1 38 1-54 1 121 1-36 1-71 1 123 1-70 1 96 1-7 1 17 1-86 1-86 1 77 1-90 1 205 1-110 1-47 1 2 1-30 1-21 1 72 1-72 1-7 1-93 1 123 1-94 1 49 1 39 1 27 1-54 1-16 1 16 1 7 1 71 1 77 1-51 1 49 1 19 1-6 1 77 1-99 1 87 1-72 1-114 1 50 1-49 1-9 1 6 1 88 1-16 1 96 1-43 1-36 1-23 1 83 1-96 1-2 1-41 1 69 1 73 1-93 1-3 1 12 1 110 1-99 1 32 1 27 1-18 1 331 1-318 1 8 1 56 1-30 1-138 1 161 1 35 1-8 1-61 1-82 1 20 1-35 1-4 1 52 1-116 1-65 1 125 1-72 1 26 1-28 1-16 1 75 1 65 1-26 1 120 1-147 1 35 1-25 1-50 1 141 1-146 1-39 1-4 1-51 1 78 1 91 1-66 1 129 1-142 1 102 1-12 1 25 1-41 1 60 1-152 1 105 1-53 1 73 1-85 1-64 1 9 1 35 1-102 1 145 1 72 1 23 1-11 1-42 1-19 1 77 1 242 1-238 1-38 1-44 1 39 1 52 1-12 1-18 1-90 1 48 1 106 1-58 1-45 1-32 1 132 1-44 1 37 1 90 1-1 1-130 1 0 1 78 1 8 1-46 1-57 1 71 1 5 1-99 1-12 1-2 1 97 1-37 1-129 1 209 1-121 1 81 1-15 1-13 1-34 1-104 1 206 1-98 1-32 1 64 1-50 1 69 1-159 1 40 1-16 1 192 1-53 1-143 1 92 1-13 1-31 1 17 1-63 1 89 1 49 1-96 1 156 1 23 1-20 1 17 1-49 1 86 1-88 1-24 1-8 1-48 1-19 1 100 1 155 1-84 1 33 1 16 1-132 1-16 1-97 1 150 1-135 1 51 1 1 1-39 1-15 1-25 1 24 1-76 1 31 1-61 1 96 1-22 1 134 1-90 1-5 1-122 1 39 1 46 1-70 1 104 1-68 1-28 1 61 1 117 1-10 1-109 1-59 1-6 1 45 1-5 1-15 1 23 1 94 1-5 1 53 1 45 1-26 1-14 1-60 1 40 1-14 1 36 1 15 1-85 1 38 1-36 1-64 1-74 1 80 1 30 1 11 1 0 1 39 1 22 1-94 1-17 1 161 1-153 1 26 1 6 1-15 1 31 1-83 1-82 1 38 1-67 1-39 1 17 1 43 1-14 1-18 1 76 1-9 1-70 1 81 1 58 1-118 1 93 1 36 1 22 1-65 1 126 1-43 1 116 1-7 1-85 1 126 1-43 1-44 1 40 1 17 1-172 1 91 1 67 1-78 1 108 1 68 1 16 1-83 1-24 1-78 1-19 1 32 1-103 1 80 1 8 1-67 1-106 1 108 1 51 1-87 1-69 1 74 1 81 1-8 1-61 1 146 1 22 1 28 1-89 1-29 1 45 1 3 1 106 1-160 1 63 1-42 1-33 1-89 1 113 1-12 1 32 1-60 1 20 1 63 1-9 1-48 1 80 1 11 1-2 1 35 1-33 1-35 1 80 1 22 1-55 1-139 1 29 1 15 1 54 1 77 1 45 1-7 1-17 1-141 1 140 1-17 1 30 1-84 1 2 1-51 1 91 1-65 1 197 1-170 1-32 1-58 1-5 1 13 1 10 1 44 1 64 1-20 1-163 1 108 1-60 1 34 1-91 1-29 1 162 1-18 1 51 1 64 1 16 1-15 1-14 1-86 1 28 1-110 1 40 1-94 1 129 1-57 1-44 1 196 1-54 1-78 1 42 1-46 1 43 1 94 1 15 1-226 1 39 1-7 1-26 1-8 1 13 1 36 1-22 1 102 1-14 1-33 1-39 1 30 1 152 1-114 1-202 1 78 1-8 1-42 1 91 1-81 1-81 1 94 1-7 1 74 1 10 1 61 1-60 1 160 1-157 1-27 1 15 1 60 1-23 1 26 1 33 1 20 1 43 1-61 1-3 1 31 1-18 1 128 1-92 1-66 1 17 1 37 1-33 1-142 1 31 1-2 1 5 1-7 1 68 1 72 1-62 1-48 1-24 1 19 1 42 1-124 1 131 1-90 1 31 1 28 1-41 1 84 1-59 1 52 1 91 1 59 1 62 1-120 1 130 1-12 1-28 1-15 1-150 1-5 1 91 1-42 1-88 1-42 1 153 1-125 1 83 1-44 1-1 1-46 1-64 1-8 1-135 1 122 1-18 1-28 1 157 1-62 1-82 1 28 1 148 1-40 1-77 1 12 1-185 1 171 1-12 1 183 1-224 1 12 1 146 1-200 1 123 1 76 1-75 1 42 1-4 1 86 1-36 1 26 1-27 1-5 1 11 1 14 1-135 1 209 1-35 1-112 1 59 1-51 1 156 1-56 1-139 1 71 1 26 1 26 1 7 1-8 1-24 1-218 1 144 1 53 1-69 1 6 1 68 1-35 1 149 1-73 1-9 1-41 1 53 1-16 1 40 1-105 1 112 1-75 1 13 1 3 1-12 1-25 1-15 1-19 1 22 1-55 1 157 1 4 1-36 1 45 1-236 1 68 1 83 1-5 1 12 1 14 1-43 1-10 1-30 1 49 1-164 1 193 1-6 1 65 1-28 1-12 1-3 1-15 1 16 1-3 1-100 1-116 1 118 1-7 1-39 1 81 1-150 1 97 1-15 1-113 1 155 1-15 1 50 1-90 1-38 1-45 1 84 1-118 1 130 1-9 1-35 1-24 1-118 1 86 1-10 1-54 1 9 1-34 1 128 1 32 1 103 1-75 1 21 1 28 1-46 1-50 1 33 1-32 1 80 1 11 1 13 1 72 1 91 1-92 1-65 1 130 1 15 1 26 1 37 1 9 1-32 1 1 1-201 1 61 1-48 1-23 1-315 1 340 1-41 1-151 1 121 1 126 1-48 1 216 1-14 1-11 1-35 1 13 1-25 1-117 1 108 1-67 1 104 1-44 1-4 1-15 1 86 1-93 1 30 1-4 1 8 1 151 1-223 1 207 1-40 1-58 1 15 1 13 1-81 1 140 1-150 1 0 1-15 1 92 1 12 1-185 1 41 1-20 1-47 1 143 1-94 1 50 1-52 1 70 1 12 1 15 1-16 1-68 1 56 1 55 1-50 1-19 1-31 1-39 1 48 1-77 1-65 1 53 1 36 1-34 1 124 1 19 1-113 1 13 1 78 1 60 1-15 1-75 1-13 1 105 1-12 1-56 1 130 1-140 1-51 1 6 1 7 1 14 1 3 1-48 1 56 1 40 1-61 1-34 1 46 1-61 1-112 1 127 1-14 1 117 1-77 1 35 1-35 1-25 1-32 1-23 1-17 1 79 1-105 1 152 1-73 1-93 1 68 1 3 1-42 1-96 1-14 1-11 1 98 1 81 1-49 1 199 1-179 1 12 1-59 1 24 1 1 1-35 1-11 1 196 1-9 1 77 1-131 1 115 1 23 1 19 1 50 1-89 1 34 1-26 1 59 1-7 1-70 1 33 1 44 1-120 1 71 1 5 1-158 1 75 1 102 1 23 1-41 1-145 1 34 1-38 1 8 1-15 1 39 1-68 1-13 1-16 1-14 1 34 1 95 1-49 1 33 1 23 1 13 1 43 1-11 1 29 1-91 1 39 1 28 1 48 1-131 1 134 1-103 1 49 1 15 1-122 1 138 1-76 1 258 1-167 1-89 1 3 1 148 1-18 1-92 1 3 1 30 1-104 1-3 1-35 1-15 1 100 1 34 1 37 1-140 1-3 1 8 1 46 1 95 1-154 1-2 1 60 1-98 1 80 1-70 1-2 1-47 1 158 1 3 1-56 1-38 1-7 1 28 1-59 1 107 1 27 1-166 1 42 1 41 1-33 1-64 1-82 1 89 1 203 1-108 1-10 1 25 1-162 1 0 1 86 1-72 1 138 1-13 1 54 1-66 1 78 1 66 1-65 1 2 1-52 1 27 1 125 1-55 1-65 1 106 1-91 1-50 1 21 1-59 1 8 1 16 1 25 1-59 1 40 1-13 1 3 1 20 1-50 1-31 1 92 1-26 1-6 1 12 1-62 1 52 1 57 1-30 1 36 1 192 1-244 1 46 1-17 1 41 1 47 1 8 1-31 1 16 1-87 1 40 1-134 1 17 1 83 1-106 1-39 1 77 1 198 1-96 1 57 1-10 1-49 1 59 1 2 1-73 1 9 1 86 1-117 1 1 1-42 1-5 1 68 1 67 1-168 1 115 1 34 1-129 1 45 1-85 1 161 1 166 1-159 1 98 1-114 1-17 1-6 1 13 1 91 1-17 1-96 1 5 1-95 1 27 1 140 1-73 1 12 1-11 1-70 1 53 1 9 1-41 1 22 1 125 1-59 1 133 1-95 1-41 1 85 1-140 1 5 1-23 1 194 1-130 1 44 1 38 1 17 1-251 1 233 1 42 1-74 1 22 1 43 1-67 1 41 1-101 1 58 1 15 1-9 1-1 1-23 1-38 1-53 1 8 1 54 1 162 1-205 1 5 1-6 1 9 1-22 1-146 1 116 1-54 1 24 1-23 1 76 1-90 1-18 1 36 1-32 1-31 1 21 1-125 1 145 1-28 1 55 1-89 1-33 1 12 1-6 1 28 1-24 1-77 1 83 1-1 1 87 1-178 1-8 1 19 1 3 1 2 1-4 1-8 1 137 1-90 1 14 1-12 1-57 1 21 1 160 1-102 1 2 1-121 1 154 1 52 1-41 1-103 1-1 1-23 1 1 1 108 1-35 1 93 1-26 1-9 1 70 1-97 1-13 1 8 1 44 1-32 1 56 1 141 1-42 1 54 1 63 1-52 1-30 1 36 1-82 1 126 1-215 1 97 1 119 1-108 1 78 1-70 1 31 1 84 1-37 1-83 1-28 1 11 1-62 1-32 1 61 1-41 1-19 1-8 1-120 1 88 1 78 1 18 1 20 1-29 1-18 1 72 1 18 1-25 1 70 1-64 1-96 1 246 1-302 1-84 1 107 1-110 1 125 1 72 1 73 1-135 1 90 1-75 1-86 1 109 1-4 1 15 1-12 1-62 1-32 1-51 1 28 1 45 1 53 1 12 1-12 1 31 1-1 1 8 1-5 1 60 1-11 1 98 1-185 1 8 1 89 1 2 1-68 1 53 1-23 1-65 1-4 1 28 1-37 1 75 1-25 1 210 1-226 1 21 1 75 1-116 1-19 1 78 1 21 1 55 1-168 1 102 1-95 1 21 1-12 1 18 1 205 1-136 1-4 1-14 1 12 1-19 1 69 1-131 1-15 1-17 1 72 1-85 1-12 1 35 1-103 1-49 1 161 1-151 1 69 1 124 1-66 1 21 1-123 1 63 1-28 1 120 1 11 1 153 1-86 1 243 1-109 1-94 1-12 1-43 1 30 1 5 1-122 1 98 1-21 1 80 1 57 1-66 1 38 1 30 1-97 1-100 1 33 1 250 1-112 1 2 1-41 1-63 1 13 1 18 1 0 1-27 1 7 1-8 1-50 1-181 1 178 1-45 1 100 1-40 1 19 1-7 1-41 1-119 1 41 1-42 1-53 1 86 1-39 1 149 1 17 1-85 1 63 1-49 1 93 1-53 1 86 1-89 1-25 1 99 1 12 1-27 1-67 1 96 1 109 1-107 1-79 1 110 1-66 1-10 1 53 1-78 1-116 1 88 1 38 1 19 1 142 1-140 1 119 1-9 1-50 1-98 1 212 1-273 1 219 1-44 1-84 1 78 1 57 1 5 1-60 1-58 1-21 1 11 1 31 1 46 1 77 1-21 1-37 1 27 1-74 1 64 1 101 1-139 1 79 1 22 1-116 1 60 1-11 1-89 1 180 1-91 1-112 1 63 1 56 1 31 1-26 1 4 1-18 1 57 1 89 1-56 1 29 1 28 1 13 1-61 1-95 1-45 1-35 1-12 1 1 1 60 1-10 1-29 1 92 1-25 1 74 1-28 1-73 1-31 1-68 1 155 1-215 1 78 1-107 1 38 1 33 1-98 1 49 1 135 1-47 1 4 1 108 1-145 1-40 1 16 1-48 1-109 1 96 1 66 1 62 1-61 1 90 1-16 1 142 1-51 1-96 1-46 1 69 1 8 1-140 1 35 1-6 1-37 1-14 1-2 1-12 1-4 1 20 1-19 1 177 1-135 1 33 1 71 1-16 1-22 1-118 1 188 1-39 1 100 1-4 1-33 1-91 1-9 1 80 1-53 1-15 1 40 1 226 1-225 1-125 1 77 1 71 1-87 1-34 1-4 1 173 1-53 1 5 1 18 1 42 1-4 1 46 1-31 1-8 1-53 1-34 1-375 1 283 1-63 1-58 1 4 1-61 1 93 1-33 1 66 1 30 1-85 1 125 1-42 1-2 1-17 1-29 1-18 1-45 1 95 1 25 1-1 1-64 1-51 1 49 1 106 1 48 1-120 1-41 1 118 1-19 1-50 1-74 1 98 1-36 1-54 1 98 1-7 1-37 1 50 1 304 1-303 1 1 1-55 1 10 1 79 1-26 1 3 1-35 1 71 1-16 1-44 1 33 1 66 1-78 1 18 1-30 1-25 1-73 1 73 1-16 1-126 1 78 1 134 1-86 1 57 1-84 1 64 1-10 1-57 1 54 1-31 1 20 1 45 1 14 1-98 1 36 1 22 1 1 1 45 1 12 1-20 1 81 1-1 1 50 1 6 1 46 1-91 1 35 1-58 1-30 1-16 1-28 1 79 1 10 1-26 1-37 1 40 1-57 1 5 1-56 1 2 1 6 1-106 1 62 1 80 1 35 1-47 1 156 1-13 1-127 1 23 1 8 1 52 1-43 1-142 1 32 1 51 1-17 1 27 1 103 1-2 1-42 1-18 1 16 1-12 1-35 1 121 1-57 1-39 1 53 1-43 1-27 1 7 1-56 1-9 1 33 1-52 1 82 1 24 1-208 1 81 1 48 1-49 1 65 1 123 1-175 1 148 1-88 1 41 1 23 1 1 1 25 1 84 1 6 1-53 1 62 1-27 1 110 1-121 1-136 1 147 1-41 1-42 1-6 1 15 1 21 1-9 1 8 1 74 1-31 1-113 1-31 1 30 1-63 1 112 1-24 1 12 1 35 1-45 1-104 1 217 1-58 1-64 1-46 1 53 1-97 1-64 1-20 1-45 1 168 1-28 1 40 1-8 1 52 1-97 1 48 1-25 1 15 1-4 1-40 1-92 1 106 1-8 1-52 1 44 1 76 1-22 1 16 1-28 1 57 1-60 1-99 1-23 1-62 1 104 1 66 1-57 1-24 1-85 1 40 1 132 1-34 1 29 1-10 1 106 1 6 1 22 1 24 1-5 1-142 1 55 1-125 1 35 1 46 1 33 1-49 1 59 1-100 1 158 1 57 1-58 1 71 1-131 1 110 1 76 1-45 1-80 1-3 1 15 1 18 1-4 1-72 1 13 1-26 1-76 1 28 1 125 1-186 1 135 1 24 1 22 1 10 1 80 1-68 1 118 1-19 1-23 1 31 1 29 1-41 1 38 1-9 1 30 1 14 1-109 1 10 1-21 1 4 1-48 1 35 1 0 1-3 1 16 1-46 1-22 1-65 1 179 1-224 1 135 1-113 1 86 1-33 1 104 1-67 1 56 1 19 1-53 1-3 1-22 1-82 1-33 1 61 1-9 1-24 1-19 1-32 1 57 1-25 1 73 1 20 1-49 1 58 1 6 1-29 1 77 1-132 1-73 1 107 1 119 1-123 1-117 1 96 1-13 1 81 1-92 1-27 1 27 1 31 1 2 1-34 1 43 1-18 1-130 1 137 1 51 1-70 1 19 1 10 1 91 1-26 1-127 1 27 1-22 1 78 1-169 1 3 1 135 1-46 1 25 1 68 1-7 1 69 1-98 1-23 1-70 1 6 1 23 1-11 1 54 1 23 1 6 1-80 1 151 1-71 1-112 1 78 1 4 1 66 1-37 1-126 1 106 1 55 1-76 1-190 1 65 1-24 1 20 1-18 1 51 1-71 1 11 1-26 1 98 1-68 1 74 1-50 1 134 1-24 1-20 1-110 1 112 1-68 1-99 1-8 1-23 1 151 1 26 1 22 1 163 1-145 1 104 1-32 1-100 1 110 1-135 1 101 1-152 1 18 1 10 1 13 1 41 1 95 1-127 1 140 1-69 1 160 1-28 1-61 1-86 1 80 1-43 1 33 1-65 1 17 1 20 1-109 1 31 1 39 1-60 1 49 1 10 1 55 1-24 1 82 1 70 1 67 1-28 1-42 1-111 1-67 1-9 1 19 1-3 1 115 1-110 1 43 1 36 1-39 1-19 1-2 1 60 1-197 1 156 1-22 1-152 1 11 1 55 1 34 1 61 1-3 1 150 1-205 1-51 1 110 1-98 1 116 1-93 1 60 1-49 1 72 1-20 1 49 1-129 1 6 1 51 1 78 1-41 1-2 1 63 1-2 1-93 1-33 1 87 1-226 1 123 1 20 1 38 1-1 1 30 1-22 1-35 1 142 1-186 1 149 1-13 1 5 1-131 1 21 1-45 1-9 1 45 1-95 1 45 1 64 1 38 1-151 1 58 1 131 1-76 1 57 1-147 1 106 1-33 1 76 1-84 1 17 1-23 1-34 1 139 1 2 1-4 1-61 1 4 1-32 1 27 1-96 1 43 1 116 1 1 1 41 1-4 1-21 1-35 1-41 1 6 1-73 1 9 1-5 1 74 1-102 1 112 1 72 1 85 1-41 1-8 1 7 1-19 1-21 1-8 1-39 1 64 1 5 1-59 1-1 1 24 1 68 1-63 1 92 1-82 1 115 1-33 1-82 1 10 1 15 1 97 1-43 1-9 1 16 1 63 1-58 1-136 1 114 1 86 1-16 1-26 1-49 1 30 1-70 1 35 1-61 1 39 1 53 1-55 1-22 1 27 1 9 1-112 1 133 1-78 1 74 1 17 1 13 1-87 1-11 1 28 1 32 1 134 1-161 1 28 1-100 1 45 1 76 1-47 1 89 1-239 1 64 1 70 1-85 1-89 1 68 1-54 1 324 1-188 1-94 1-51 1 124 1-33 1 24 1 35 1 110 1-3 1 80 1 29 1-92 1-21 1-171 1 21 1-7 1-24 1-141 1 142 1-39 1 16 1 13 1-7 1 51 1-37 1 4 1-41 1 1 1 84 1 11 1-10 1-76 1 85 1-33 1-23 1-77 1 59 1 64 1-128 1-54 1 4 1-85 1 72 1 24 1 2 1 20 1 43 1 43 1-106 1-41 1-27 1 38 1 35 1 23 1 147 1-138 1 84 1-67 1-53 1 74 1-9 1-30 1 59 1-96 1-11 1 8 1-14 1 21 1 59 1-61 1 102 1 99 1-122 1-104 1 117 1-73 1 88 1 32 1-19 1 77 1-165 1 125 1-127 1 54 1 26 1-2 1 24 1-112 1 66 1-49 1-8 1-37 1 41 1 35 1 39 1-33 1 15 1 78 1 56 1-32 1-17 1 15 1-49 1 21 1 15 1-73 1 119 1-84 1-11 1 23 1 9 1 61 1 160 1-108 1-185 1 160 1-42 1 10 1-441 1 257 1-20 1 149 1-96 1-115 1-47 1-26 1-9 1 11 1 15 1 36 1 39 1-8 1 31 1-12 1 16 1-19 1 13 1 91 1-32 1-113 1 46 1-21 1 2 1 108 1-62 1 79 1-86 1 66 1-82 1 38 1 6 1 56 1-49 1-31 1 103 1 22 1-64 1-18 1-72 1 102 1 15 1-121 1 153 1-153 1 75 1-64 1-29 1-49 1 131 1-88 1 45 1 54 1 7 1 47 1 40 1-46 1-17 1-11 1 3 1-87 1-3 1 139 1 26 1-112 1-9 1-39 1 102 1-12 1-70 1 46 1 48 1-50 1-16 1 287 1-125 1-104 1-5 1-9 1-85 1 63 1-23 1 31 1 202 1-96 1 94 1-123 1 24 1 4 1 60 1 43 1-32 1-63 1 108 1-53 1-3 1 17 1-34 1 52 1 78 1 17 1-87 1 36 1-129 1 7 1 118 1-97 1-7 1-13 1 67 1-72 1 29 1-55 1-83 1 198 1-222 1 112 1 131 1-40 1-11 1 115 1-58 1-36 1-35 1 30 1 38 1 19 1-27 1-47 1-72 1 30 1 188 1-59 1-1 1 4 1-150 1 31 1 101 1-70 1-11 1-114 1-28 1 114 1-100 1 194 1-166 1-110 1 79 1 77 1-53 1 100 1-86 1-22 1-44 1-39 1 183 1-2 1-100 1 48 1-93 1 47 1-35 1 7 1 27 1-52 1-33 1 111 1-117 1 51 1 115 1-36 1-120 1 91 1 150 1-9 1-106 1 48 1-12 1-18 1 41 1-20 1 2 1 9 1 71 1-10 1-82 1 148 1-64 1-47 1-79 1 5 1 11 1 37 1 10 1-70 1-17 1-75 1-133 1 209 1-7 1 90 1 62 1-24 1-123 1 48 1-112 1 52 1 78 1-99 1-40 1 93 1-36 1 10 1 6 1 59 1-138 1 102 1-109 1-47 1 144 1 69 1-116 1-11 1 33 1-27 1 26 1-49 1 30 1-16 1 42 1 93 1-4 1-44 1-91 1 128 1 53 1-53 1 72 1-22 1-7 1 57 1-17 1-16 1 121 1-22 1-25 1 98 1-253 1-1 1 6 1-83 1 4 1 101 1-12 1-94 1 11 1-94 1 148 1-115 1 90 1 150 1-6 1-136 1 126 1-33 1-138 1-40 1 116 1-39 1 55 1-15 1 19 1 82 1 12 1-53 1-62 1 67 1 56 1 16 1 23 1 79 1-25 1 8 1-77 1-103 1 37 1 8 1 121 1-78 1-85 1 43 1 95 1 62 1-41 1-10 1-10 1 60 1 6 1 8 1-44 1-17 1 22 1-48 1-52 1-86 1 100 1 59 1-131 1 92 1 35 1-49 1-104 1 9 1 2 1-66 1-65 1-138 1 69 1 41 1 92 1-50 1 128 1-39 1-4 1 8 1-23 1-12 1-40 1-25 1-16 1 76 1-6 1 3 1-36 1 19 1 82 1 53 1-92 1-93 1 55 1-46 1-4 1-19 1 1 1-19 1 58 1-67 1 102 1-55 1 43 1-103 1-3 1-45 1 61 1 200 1-84 1 1 1-24 1-41 1-27 1 18 1-15 1 68 1-48 1-88 1-90 1 106 1 96 1 12 1 22 1-91 1-189 1 323 1-5 1 69 1 3 1 49 1-24 1-55 1 115 1-45 1-80 1-13 1 91 1-78 1-9 1 98 1-53 1-20 1 12 1-103 1-3 1 51 1-56 1 8 1-16 1 30 1-35 1-69 1 52 1 1 1 14 1-51 1 86 1 56 1-79 1 101 1 7 1 20 1 46 1-144 1 76 1 28 1-84 1 49 1-8 1 32 1-57 1 53 1-2 1 54 1-133 1 8 1 30 1 43 1-57 1-17 1-11 1 37 1-3 1-10 1 98 1-31 1-14 1-30 1-13 1-61 1-123 1 227 1-77 1-28 1 8 1-50 1 136 1 21 1 104 1-185 1-56 1-111 1 31 1-110 1 76 1 13 1-51 1 17 1-8 1 106 1-13 1-83 1 53 1-8 1-110 1 57 1 98 1-56 1 67 1-39 1 99 1-55 1-87 1 106 1-61 1 42 1 21 1 6 1 41 1 0 1-89 1 200 1-84 1 57 1-46 1-7 1-91 1-51 1 112 1 55 1 43 1 39 1-78 1 55 1 16 1-34 1 0 1-61 1 147 1-156 1 52 1-38 1 34 1 9 1-24 1-6 1 1 1 179 1-222 1-37 1 72 1-34 1 25 1-11 1 3 1 101 1-61 1 35 1 16 1 54 1-12 1-31 1 17 1 34 1-60 1-1 1-61 1-4 1-4 1 20 1 33 1 31 1-36 1 85 1-93 1-10 1 19 1-145 1-40 1 50 1 50 1 42 1 5 1 10 1 50 1-38 1 12 1-39 1 42 1 2 1-52 1 5 1-50 1 79 1-72 1-69 1-6 1 29 1-10 1 72 1-50 1 22 1 11 1-76 1 79 1 36 1 34 1 23 1-26 1-49 1-3 1-56 1 36 1 17 1 55 1-15 1 108 1-43 1-150 1 27 1-15 1 11 1-48 1-38 1 64 1 26 1 136 1-28 1 0 1-53 1 106 1-75 1-73 1-36 1 108 1-41 1 92 1 23 1-131 1 101 1-50 1-9 1-144 1 122 1-38 1 317 1-302 1 14 1 44 1-57 1 46 1-56 1-4 1 31 1 35 1 94 1-79 1 62 1-85 1-1 1-27 1 69 1-80 1-89 1 29 1 100 1 4 1 55 1-64 1 25 1 8 1-89 1-5 1 68 1-77 1-45 1 17 1-73 1 46 1 7 1 21 1-88 1-64 1 35 1 65 1-38 1-136 1 130 1-87 1 110 1-9 1-99 1 49 1 114 1-43 1-19 1-57 1 40 1 16 1-45 1 72 1 232 1-298 1-108 1 49 1-43 1 33 1 1 1 98 1-49 1 69 1 68 1-81 1 55 1 171 1-86 1 58 1-73 1-25 1-10 1-89 1 76 1 51 1-6 1-15 1-59 1 33 1 30 1 6 1-15 1 10 1 0 1-112 1 64 1 53 1-17 1-11 1 78 1-125 1 110 1 32 1-133 1 35 1 9 1-20 1-90 1 5 1 19 1-150 1-20 1-14 1 85 1 18 1 64 1 29 1-123 1-76 1 365 1-213 1 71 1 27 1 32 1-52 1 19 1 14 1 137 1 19 1-226 1 66 1 17 1-22 1 72 1-389 1 315 1 85 1-75 1 36 1-28 1-72 1 110 1-12 1 5 1-7 1-20 1 115 1-61 1-54 1 128 1-236 1 235 1-8 1-61 1 15 1 38 1-34 1-66 1 20 1 64 1-131 1 14 1-70 1 129 1-129 1-44 1 117 1-32 1-79 1-11 1-107 1 29 1 84 1 19 1 117 1-97 1-54 1-27 1 128 1-19 1-78 1 110 1 36 1-88 1 7 1-79 1 107 1-101 1 0 1 70 1 37 1-128 1 63 1 74 1 50 1-22 1-281 1 403 1-178 1 78 1-76 1-61 1 112 1 71 1-61 1 64 1 55 1 0 1-205 1 106 1 48 1-37 1 71 1 82 1-92 1-29 1-95 1 55 1 39 1 19 1-19 1-1 1 33 1 64 1-67 1-40 1 192 1-154 1 32 1-5 1-59 1 106 1-26 1-59 1 44 1-116 1 73 1-24 1 96 1-54 1-66 1-16 1 65 1-115 1 103 1-172 1 167 1-84 1 111 1-67 1 53 1 105 1-73 1 18 1-59 1 34 1 100 1-48 1-191 1 102 1-89 1 88 1-53 1 27 1-34 1 13 1-19 1-43 1 36 1 36 1-59 1-65 1 95 1-108 1 24 1 1 1 15 1-162 1 81 1 24 1 7 1 37 1 2 1 19 1-39 1 36 1 28 1 28 1-23 1 38 1-139 1 1 1-38 1 137 1-62 1-5 1 34 1 11 1-40 1 49 1-89 1 40 1-91 1 62 1 22 1-53 1 82 1-62 1 26 1 1 1 80 1-32 1 85 1-42 1-74 1 82 1 15 1 53 1-164 1-69 1 36 1 45 1-139 1 23 1-51 1-3 1-1 1 101 1 88 1-67 1-71 1 113 1-72 1 125 1-75 1-19 1 77 1 9 1-39 1-49 1 47 1 47 1-160 1 53 1-21 1 78 1-29 1-117 1 214 1-107 1 100 1-79 1-86 1 2 1 10 1-2 1 56 1 43 1-20 1-40 1 31 1-45 1 11 1-30 1 60 1 19 1-88 1 153 1-198 1 42 1-1 1-4 1 17 1 4 1-2 1 82 1-20 1-15 1-5 1-13 1 146 1-75 1-72 1 43 1 4 1-11 1-70 1 126 1-80 1 472 1-423 1-50 1 31 1 68 1 18 1-31 1-60 1 104 1 0 1-26 1-117 1 52 1-70 1 24 1 81 1 39 1 57 1-47 1 195 1-86 1-136 1 0 1 104 1-101 1 137 1-79 1 41 1 27 1-19 1-59 1-1 1 19 1-76 1 21 1 55 1 23 1-67 1 11 1-4 1 65 1-212 1 50 1-10 1-38 1-31 1 4 1 97 1 76 1-166 1 24 1-45 1-23 1 47 1-32 1 27 1 142 1-60 1-123 1 47 1 115 1 70 1-14 1 147 1 2 1-28 1-152 1 120 1-38 1 6 1-16 1-35 1-17 1 134 1-26 1-1 1 106 1-100 1-10 1-22 1-127 1 2 1 59 1-22 1 84 1 83 1 94 1-158 1 38 1-7 1 0 1-46 1 54 1-91 1 159 1-112 1-70 1 56 1 0 1-33 1 86 1 140 1-106 1-196 1-5 1 40 1-13 1-32 1-27 1 38 1 20 1 71 1-120 1 66 1-58 1-30 1-104 1 28 1-6 1 50 1-65 1 115 1 59 1 48 1-102 1 37 1 48 1-111 1 105 1 130 1-138 1 29 1-62 1 54 1-143 1 25 1 186 1-33 1-55 1 116 1 44 1 13 1-140 1 144 1 1 1-50 1-60 1-67 1-15 1 94 1 10 1 36 1-112 1 71 1-79 1 52 1-15 1 89 1 28 1-62 1-28 1 78 1 74 1-83 1 56 1-19 1-115 1 9 1 17 1-154 1 181 1-44 1-24 1 44 1-57 1-34 1 72 1-20 1 14 1 44 1-121 1 47 1-4 1-45 1 76 1-81 1 34 1 21 1 68 1 97 1-152 1 77 1-47 1 24 1 35 1-58 1 60 1-125 1 22 1 50 1-90 1 54 1-109 1 69 1 6 1 16 1-27 1 65 1-1 1 128 1-152 1 60 1-11 1 41 1-145 1 21 1 95 1 134 1-46 1 23 1-91 1-68 1 79 1 5 1-59 1-36 1 72 1-74 1 83 1-76 1 110 1-19 1-106 1 70 1-1 1-64 1 12 1 22 1 42 1-94 1 23 1-62 1 29 1 7 1-68 1 23 1-54 1-30 1 77 1-95 1-113 1 89 1 93 1-25 1 24 1 100 1-56 1-52 1-9 1 41 1 30 1-73 1 73 1 17 1-238 1 166 1 28 1 50 1 111 1 79 1-63 1-28 1 43 1 53 1-19 1-189 1-17 1 42 1-6 1 74 1-81 1-40 1-108 1 170 1 13 1 5 1-96 1 81 1-33 1-28 1-19 1 82 1 68 1-133 1-20 1-5 1-6 1 88 1-19 1-96 1 15 1 100 1 254 1-89 1-8 1-127 1 88 1-126 1 125 1 47 1-170 1 100 1 22 1-39 1 94 1-69 1 14 1-97 1 8 1 81 1-153 1 128 1-137 1 58 1 93 1-164 1 3 1 18 1 26 1 28 1-9 1 3 1 51 1-2 1-57 1 15 1-78 1 47 1-19 1 17 1 43 1 17 1 99 1 21 1-114 1-83 1 116 1-93 1 45 1-54 1-30 1 17 1 85 1-97 1 13 1-15 1 28 1-61 1 47 1-81 1 51 1 22 1-49 1 4 1 27 1-7 1-10 1 51 1-98 1 67 1-67 1 86 1-69 1 61 1-104 1-17 1 12 1 0 1-37 1 10 1 59 1 1 1 6 1 18 1 95 1-81 1 21 1-80 1-8 1 43 1-6 1 37 1 2 1 2 1-7 1 49 1-122 1-21 1 53 1-33 1 22 1-7 1 12 1-21 1 120 1-198 1-22 1 81 1 28 1 24 1-24 1-48 1-1 1 21 1 1 1 25 1-16 1-47 1 196 1-41 1-26 1-35 1 34 1 26 1 21 1-3 1 59 1 51 1-51 1-61 1-20 1 61 1 174 1-153 1 11 1 163 1-131 1 81 1-175 1-28 1 5 1-139 1 222 1-169 1 114 1-73 1 42 1-44 1-7 1 54 1 10 1-40 1 54 1 87 1 24 1 106 1-90 1 9 1 73 1-55 1-59 1 60 1-90 1 58 1-83 1 73 1 3 1 8 1 23 1-40 1-40 1 64 1-42 1-99 1 79 1-90 1 13 1-20 1 35 1 38 1-81 1-72 1 11 1 26 1 145 1-4 1-150 1-5 1 6 1-13 1 103 1-82 1 37 1 14 1-1 1-132 1 17 1-76 1 224 1 51 1-264 1 126 1-97 1 71 1-51 1 66 1 65 1 29 1-15 1-35 1 96 1-170 1 6 1-68 1-32 1 92 1-24 1 66 1 11 1-23 1-38 1 52 1 63 1-190 1 55 1-25 1-10 1 69 1 100 1 63 1 10 1-99 1 72 1-25 1-117 1 35 1-58 1-21 1-8 1 63 1-45 1-18 1-32 1-70 1 37 1 70 1-44 1-60 1 67 1-73 1 117 1-21 1 52 1-58 1 44 1 408 1-393 1 84 1-24 1-92 1 124 1 5 1-27 1-39 1 14 1-5 1 29 1-109 1 23 1 5 1 5 1-84 1-22 1 97 1-51 1-85 1 70 1 27 1-8 1-35 1 3 1-56 1 12 1 33 1-57 1-9 1-9 1 37 1 18 1-56 1 73 1-54 1 164 1-9 1 37 1 11 1-89 1-14 1 56 1-5 1 61 1-31 1 14 1 46 1 42 1 48 1-58 1 25 1-10 1-84 1-16 1 170 1-77 1 129 1-54 1-45 1-87 1 76 1-47 1 18 1-54 1 60 1 9 1 22 1 102 1 31 1-96 1 143 1-75 1-12 1-46 1-249 1 189 1 218 1-224 1-3 1-79 1 152 1-158 1-75 1 153 1-3 1 66 1-114 1-50 1-9 1-44 1 158 1-109 1 109 1 63 1-88 1 34 1 38 1-65 1 25 1-10 1-33 1 49 1 9 1-59 1-6 1-20 1 27 1 2 1-116 1 48 1 134 1-145 1-38 1 69 1-68 1 50 1-161 1 74 1 45 1 3 1 93 1 50 1-14 1-52 1-123 1-31 1 171 1-89 1 149 1-43 1 42 1-58 1 109 1-108 1 89 1-4 1 22 1-66 1 107 1-110 1 38 1-152 1 56 1-88 1-10 1 105 1 29 1 22 1-80 1 14 1-6 1 129 1 32 1-151 1 120 1-124 1 33 1-12 1-23 1 42 1-67 1 83 1 92 1-2 1-58 1 5 1-106 1-31 1 101 1-43 1 62 1-100 1 80 1-5 1 27 1 15 1-1 1-12 1-73 1-25 1 66 1-10 1 22 1-22 1-15 1 48 1 7 1 10 1 122 1-22 1-109 1-77 1 98 1 17 1 61 1-61 1-104 1-23 1-50 1 12 1-32 1-28 1 24 1-116 1 80 1-11 1 94 1 63 1-61 1 111 1-43 1-26 1 69 1 4 1-20 1-9 1 14 1 84 1-78 1-59 1 20 1-124 1 203 1-21 1-188 1 166 1-122 1 104 1 29 1-14 1 99 1-151 1-92 1 9 1 0 1-62 1 62 1 8 1 78 1 41 1 278 1-299 1-22 1 58 1 45 1 58 1-104 1 24 1 35 1-128 1-71 1 99 1-54 1 31 1-12 1-25 1-12 1-133 1 83 1 133 1-75 1 60 1 62 1-80 1 17 1-8 1 139 1 26 1-38 1-30 1-51 1-9 1-11 1 141 1 111 1-143 1 84 1-81 1 94 1-95 1 37 1-38 1 93 1-5 1-70 1 56 1-12 1-13 1 1 1-27 1-73 1-57 1-18 1 26 1 101 1-10 1 34 1-72 1-62 1-63 1 182 1-81 1-41 1 169 1-20 1-62 1 59 1-93 1-181 1 170 1-36 1-55 1-89 1 252 1-139 1 27 1 2 1-78 1 93 1-111 1 92 1 18 1 12 1 59 1-45 1-140 1 69 1-27 1 109 1-61 1 32 1 34 1-46 1-125 1 10 1-36 1 33 1-25 1 46 1-22 1 472 1-460 1-11 1-69 1-20 1-64 1 46 1-5 1 58 1 35 1 39 1-13 1 60 1-18 1-7 1 81 1-102 1-63 1-41 1-9 1 66 1 97 1 28 1-24 1-6 1-17 1 92 1 79 1-8 1-59 1-8 1 53 1 26 1-85 1 6 1 26 1-98 1 86 1-168 1 131 1 117 1 16 1-118 1-30 1-79 1 16 1 12 1 149 1-87 1-53 1 79 1 47 1-19 1 19 1-11 1-47 1 92 1-154 1-123 1 181 1 17 1-2 1 16 1-48 1-107 1 76 1-75 1 13 1-1 1-113 1 58 1-38 1 18 1 38 1 74 1-41 1 5 1 173 1-209 1-105 1 34 1 39 1 60 1 4 1-58 1 64 1-32 1 100 1-131 1 157 1-17 1-8 1 68 1-26 1 34 1-42 1-30 1-165 1 105 1 36 1 34 1-67 1 11 1 10 1 220 1-66 1-119 1 79 1 66 1-150 1-26 1 77 1-42 1 9 1-26 1-84 1 71 1 20 1-44 1 13 1-22 1 18 1 17 1-14 1 83 1-50 1 56 1 61 1-14 1-64 1 16 1-150 1-72 1 75 1 8 1-117 1 90 1 112 1-67 1 30 1-43 1-11 1 55 1-30 1-69 1 23 1-15 1-1 1-14 1-4 1-83 1 85 1-101 1 30 1 81 1 32 1 75 1-13 1-26 1 17 1 108 1 10 1-112 1 169 1-184 1 55 1 78 1 96 1-66 1 8 1 18 1 74 1 11 1-90 1-26 1 45 1 8 1-144 1 185 1-23 1 34 1 23 1-68 1-80 1 84 1-13 1 142 1 14 1-41 1 16 1 1 1-29 1 2 1-74 1 12 1-19 1 101 1 38 1-124 1-44 1 41 1 116 1 15 1-1 1-3 1-5 1-32 1-18 1 40 1 1 1 4 1 1 1-54 1 13 1-12 1-95 1-31 1 38 1 65 1-61 1-61 1 11 1 68 1 1 1 52 1-38 1-24 1-2 1-62 1 8 1 18 1-17 1-17 1 62 1-60 1 81 1-111 1-16 1 42 1 130 1-195 1-138 1 53 1 52 1 35 1-43 1 42 1 54 1-17 1 12 1 73 1 150 1-102 1-48 1 6 1 112 1-96 1-60 1-4 1 85 1-63 1-55 1-28 1 31 1 135 1-31 1-26 1-85 1 83 1-25 1-28 1-11 1-48 1-17 1 5 1 32 1 46 1-22 1-55 1 94 1 42 1 18 1-57 1 45 1-12 1-5 1 117 1-55 1 37 1 32 1 14 1-43 1-36 1-63 1 139 1-103 1-160 1 0 1 80 1 9 1 70 1-45 1-119 1 59 1-122 1 138 1-112 1-88 1 30 1-114 1 47 1 32 1-16 1 27 1-2 1-49 1-10 1 214 1-82 1 47 1 50 1-118 1 161 1-82 1 33 1 33 1-64 1 16 1 86 1-7 1 5 1 32 1 62 1-103 1-33 1-9 1-74 1 57 1 7 1-63 1-64 1-75 1 146 1 10 1-36 1 40 1-12 1 24 1 115 1-35 1-49 1 83 1 26 1 20 1-88 1-10 1 95 1-39 1-12 1-23 1-68 1 18 1-16 1-117 1-16 1 45 1-5 1 19 1-80 1 79 1-125 1 20 1 89 1-73 1-66 1 195 1-41 1 224 1-194 1 74 1 8 1-50 1-12 1 60 1-145 1 153 1-106 1 119 1-83 1-32 1 118 1-193 1-5 1-35 1-95 1 97 1 126 1-135 1 9 1 108 1 203 1-99 1-6 1-113 1-74 1-35 1 52 1 11 1 82 1 94 1-71 1 86 1-25 1 58 1-61 1 25 1-115 1 23 1 65 1-29 1 24 1 61 1-151 1 72 1-17 1-65 1 46 1-92 1-54 1 128 1-68 1 76 1-26 1 7 1 145 1 86 1-62 1 30 1-91 1 48 1-17 1 9 1-53 1-50 1 77 1 59 1-124 1-50 1 1 1 58 1 5 1 45 1-161 1 102 1 28 1-27 1-92 1 93 1-51 1 69 1-26 1-19 1 44 1-52 1 73 1-84 1 28 1 22 1 84 1-77 1 13 1-38 1 45 1-2 1-24 1-3 1 4 1-34 1-93 1 70 1-53 1 53 1-64 1-28 1 117 1 80 1-13 1-48 1-64 1 38 1 2 1-13 1-70 1 52 1 33 1 72 1-6 1 1 1 3 1-32 1 99 1-201 1 7 1-33 1 123 1-60 1-29 1 130 1-98 1-48 1 60 1 13 1-21 1 24 1-60 1-49 1 49 1-55 1 41 1 15 1 79 1-179 1-11 1-39 1 64 1 108 1 56 1-41 1 18 1 29 1-77 1 47 1-82 1 178 1-158 1 10 1-88 1 68 1 5 1-44 1 32 1 33 1 2 1-39 1-151 1 146 1-37 1-7 1-151 1 232 1-20 1-23 1 100 1-43 1-37 1 49 1 6 1 83 1 129 1-46 1 102 1-152 1-30 1-25 1-68 1-5 1-1 1-44 1 12 1-150 1 129 1-9 1-25 1 54 1 88 1-112 1 16 1 34 1 35 1 19 1-100 1 334 1-347 1-61 1 218 1-102 1-20 1 19 1 34 1-33 1 8 1 60 1-88 1-76 1 125 1 138 1-223 1-44 1 133 1 37 1 20 1-101 1-69 1 40 1-137 1 38 1 146 1-49 1 31 1 67 1-89 1-222 1 182 1-44 1 18 1 85 1-45 1 44 1 1 1 16 1 82 1-28 1-63 1 134 1-77 1-24 1 94 1 41 1-82 1-19 1 4 1 6 1 17 1-17 1 39 1-61 1-43 1 114 1-94 1 40 1 38 1-70 1-23 1 20 1 1 1 30 1-33 1 47 1-15 1 61 1 27 1-280 1 67 1 19 1-26 1 156 1-135 1 135 1 32 1 13 1-57 1-34 1 64 1 26 1-28 1 15 1 14 1-48 1-48 1 122 1-155 1 35 1-6 1 47 1-369 1 412 1 29 1 25 1 17 1-193 1-28 1 64 1-100 1-34 1 46 1-56 1 88 1 198 1-168 1 26 1-1 1-60 1 26 1-8 1-4 1-164 1 232 1-54 1-22 1-78 1 139 1-116 1 175 1-14 1-70 1 7 1-49 1 104 1 10 1 3 1-66 1 107 1-171 1-28 1 18 1-42 1-25 1 34 1-1 1 54 1 137 1-11 1-144 1 65 1 57 1-135 1-25 1-22 1-117 1 63 1 49 1 69 1-52 1-25 1-81 1 11 1-34 1 68 1 114 1 57 1-28 1-35 1-131 1-87 1 46 1 2 1 91 1 91 1 21 1 17 1-51 1 34 1-57 1 18 1-31 1-84 1-6 1-70 1 90 1 54 1-2 1-25 1-41 1 111 1-78 1 17 1 53 1-61 1 86 1 67 1-79 1 141 1-128 1 111 1-89 1 4 1-116 1 101 1 30 1-97 1 57 1 81 1-132 1 65 1-5 1 96 1-47 1 8 1-49 1 47 1-10 1 5 1 131 1 94 1-155 1 32 1-68 1-111 1 13 1-13 1 25 1-114 1 77 1-36 1 188 1-8 1 168 1-4 1-39 1-13 1-58 1-27 1-79 1-54 1-46 1-75 1 148 1-52 1-5 1 26 1-7 1-16 1-28 1-42 1 57 1-21 1 73 1 48 1-125 1-9 1 31 1 77 1-124 1 14 1-38 1 66 1 10 1 54 1-39 1-33 1 182 1-309 1 29 1 44 1 24 1 94 1-63 1 55 1 48 1-32 1-14 1 17 1-14 1-63 1 99 1 21 1-75 1 59 1-12 1 87 1 51 1-81 1-3 1 11 1 77 1 120 1-212 1-52 1-15 1 52 1-55 1 7 1 132 1-122 1 16 1 15 1-54 1-34 1-91 1 115 1 110 1-30 1-116 1-7 1-45 1 111 1-80 1 181 1-85 1-32 1 22 1-16 1 7 1 2 1 78 1-52 1-82 1-40 1 19 1 81 1 52 1 76 1 102 1-180 1-94 1 25 1-1 1-19 1 60 1 40 1-52 1 78 1 36 1 83 1-141 1 47 1-62 1-19 1 47 1-49 1 126 1-31 1-27 1-56 1 31 1 4 1-157 1 65 1-32 1-38 1 192 1-76 1 96 1 45 1 27 1 28 1-114 1-48 1-45 1 54 1-173 1 140 1 27 1 7 1 3 1-105 1 85 1 16 1-40 1 72 1-24 1-45 1-7 1 43 1-36 1-14 1-15 1-54 1-64 1 57 1 49 1-29 1-87 1 95 1 98 1-44 1-99 1 93 1 119 1-52 1 19 1-68 1-12 1 40 1-62 1 9 1-31 1 17 1-99 1-78 1 48 1 29 1-7 1-15 1 36 1-79 1-70 1 151 1 22 1-8 1 148 1-74 1 64 1-29 1 94 1-143 1 10 1-25 1 143 1-9 1 76 1-43 1-93 1 75 1-16 1 28 1-108 1 161 1-59 1 64 1-193 1 162 1-6 1 16 1-98 1-13 1 25 1-28 1 47 1-10 1-1 1 76 1-167 1-24 1 22 1 16 1 78 1-152 1 69 1-11 1-40 1-15 1-38 1-104 1 61 1 122 1 13 1-13 1 98 1-62 1 49 1-87 1 170 1-89 1-23 1 18 1 67 1-29 1-199 1 54 1-3 1-96 1 47 1 107 1-9 1-93 1 53 1-51 1-1 1 146 1-238 1 100 1 117 1 29 1-101 1 57 1-5 1-83 1 71 1-2 1-1 1 54 1 61 1 4 1 29 1-14 1 54 1-93 1 64 1 17 1 91 1-216 1 52 1-84 1 50 1 91 1-25 1 10 1-86 1-22 1 50 1 42 1-48 1-22 1-75 1 14 1-64 1 135 1-45 1-11 1 61 1-97 1 28 1-26 1-71 1 54 1 48 1-199 1 91 1 17 1 35 1 27 1-37 1 49 1 51 1-70 1 10 1-28 1-25 1-25 1 121 1-5 1-27 1-100 1 61 1-85 1 86 1 32 1-34 1 4 1-53 1 62 1-57 1 164 1-243 1 44 1 99 1 11 1 16 1 85 1-8 1-101 1 169 1 90 1-52 1 44 1-26 1-135 1 102 1-29 1-36 1 58 1 61 1-77 1 40 1-32 1-27 1 72 1 28 1 46 1-46 1-62 1 110 1 19 1-98 1 113 1 1 1-1 1-44 1 31 1-28 1 18 1-105 1 70 1-59 1-59 1 136 1-47 1-70 1 35 1-35 1-21 1-9 1 16 1-33 1 12 1-98 1 129 1-15 1-21 1 7 1-117 1 44 1 212 1-165 1-54 1 45 1-2 1 68 1-75 1 17 1-45 1 50 1 2 1-56 1-5 1-8 1 78 1 51 1-45 1-5 1-11 1-57 1 92 1-13 1-9 1-27 1-26 1 22 1 24 1-36 1-12 1-69 1-18 1 58 1 184 1-113 1 23 1-4 1-24 1 41 1-21 1 15 1-74 1 36 1 31 1 15 1 5 1-39 1 77 1-55 1-13 1-59 1-50 1 1 1-58 1 25 1-60 1 17 1 0 1 28 1 63 1-27 1-47 1-28 1-137 1 13 1-3 1 78 1-38 1 143 1 50 1-95 1-12 1 88 1-141 1 33 1-17 1 77 1-22 1-106 1 44 1 61 1 19 1 86 1-44 1-100 1 31 1 42 1-6 1-77 1 80 1-88 1 6 1 68 1 22 1 72 1-33 1-7 1-110 1 90 1-55 1-54 1 156 1-110 1-10 1-22 1 73 1 20 1-124 1 35 1 49 1 88 1 1 1 2 1-64 1 170 1-209 1 152 1 133 1-75 1 64 1-6 1-126 1 33 1-34 1-88 1 35 1-6 1-133 1 133 1-5 1 50 1 93 1-91 1 38 1 37 1-117 1-249 1 262 1-70 1 5 1 42 1-44 1-8 1 19 1 71 1-44 1-108 1-71 1 100 1-12 1 3 1 113 1-48 1-253 1 135 1 10 1 97 1 53 1-84 1-56 1 112 1 64 1-80 1 203 1-131 1 138 1-130 1-36 1 98 1-115 1-93 1 26 1 128 1 28 1 88 1 9 1 21 1 60 1 10 1-196 1-21 1-121 1 146 1-47 1-20 1 14 1 40 1-39 1 51 1-54 1-58 1 98 1-46 1 58 1-16 1 138 1-58 1-58 1 21 1 55 1 38 1-92 1-13 1 4 1-41 1 124 1-27 1 31 1-44 1 22 1 45 1-22 1-17 1-54 1 99 1 38 1 31 1-118 1 24 1 37 1-22 1-92 1 12 1 38 1-96 1 38 1 37 1 37 1 31 1-69 1-3 1-23 1 69 1 30 1-98 1 38 1 46 1-33 1 9 1-20 1 58 1 7 1 26 1 24 1-137 1-17 1-73 1 32 1 36 1 23 1-89 1 75 1 31 1 149 1-107 1 24 1-48 1-55 1-135 1 149 1-102 1-46 1 58 1 40 1-39 1-42 1-67 1 138 1 60 1-52 1 82 1-175 1 89 1 112 1-60 1 27 1-26 1-87 1-41 1 46 1-48 1-42 1 77 1 23 1 32 1-32 1 74 1 4 1 157 1-86 1 0 1-35 1-22 1 38 1-107 1 143 1-142 1-33 1-111 1 142 1 68 1-123 1 155 1-136 1 69 1-69 1 19 1 11 1 9 1-64 1 184 1-41 1-5 1-24 1-86 1-74 1-3 1-59 1-21 1 13 1 85 1 1 1 63 1-95 1 11 1 55 1 274 1-351 1 127 1 92 1-55 1-91 1-36 1-64 1 53 1 9 1 13 1-24 1-84 1 72 1-10 1-58 1-4 1 0 1 17 1-39 1-27 1 20 1-38 1 212 1 22 1-68 1-16 1-33 1-3 1-113 1 127 1-22 1-106 1 41 1 48 1-21 1 111 1-97 1 42 1-11 1 3 1-91 1 7 1-60 1-45 1 94 1 109 1 37 1 5 1-37 1 91 1-7 1-136 1 25 1-6 1 96 1-33 1 239 1-223 1-74 1 33 1 91 1 114 1-39 1-138 1 37 1-25 1 40 1 12 1 27 1-79 1-29 1 131 1-67 1 69 1 13 1 30 1 10 1-93 1-37 1 15 1 23 1 142 1-201 1 17 1 57 1-16 1-50 1 35 1 28 1 284 1-296 1 117 1-125 1 109 1-176 1 42 1-54 1 34 1 7 1 68 1 4 1-16 1 49 1 54 1-52 1-144 1-11 1 24 1-12 1 28 1 15 1 59 1 8 1 42 1-67 1-11 1-3 1 101 1-42 1-19 1-18 1 75 1-70 1-2 1-79 1 46 1 27 1 0 1-57 1 113 1-88 1-94 1 48 1-62 1 118 1 24 1 197 1-197 1-15 1 33 1 87 1-178 1 83 1-125 1-20 1 67 1 3 1-68 1-75 1 62 1-96 1 97 1-59 1-2 1-37 1 125 1-39 1-19 1 12 1 110 1-14 1 11 1-47 1 47 1-123 1 134 1-18 1-14 1 68 1 40 1-53 1 106 1-82 1-40 1 62 1-29 1 77 1-76 1 103 1-109 1-60 1-60 1 20 1 41 1 26 1 50 1-26 1-100 1 104 1-38 1-35 1-78 1 23 1 90 1 12 1-89 1 59 1-40 1-116 1 127 1-10 1 78 1-7 1-3 1-137 1-28 1 17 1-9 1 59 1-18 1 70 1-330 1 344 1 67 1-100 1 19 1 19 1 42 1-18 1-54 1 93 1-55 1 41 1 54 1-46 1 28 1-59 1-39 1 75 1-110 1-44 1 120 1 76 1 39 1 34 1-51 1 46 1 79 1-129 1 11 1 10 1-62 1 35 1-73 1 112 1-59 1 103 1-86 1 87 1 46 1 50 1-45 1-25 1 12 1 19 1-110 1 45 1-6 1 53 1 16 1 18 1-102 1 32 1 101 1-184 1-39 1-13 1-33 1 132 1-71 1 10 1 21 1 79 1-132 1 138 1-123 1 88 1-93 1-4 1 40 1 39 1-7 1 3 1-146 1 78 1-21 1-69 1 83 1 11 1 96 1-116 1-35 1-5 1 28 1 43 1 66 1-166 1 16 1 25 1-34 1 143 1-18 1 38 1-24 1-41 1-36 1-86 1-75 1 155 1-28 1-7 1-26 1 104 1 35 1-88 1-178 1 295 1-59 1-162 1 18 1-15 1 10 1-58 1 55 1 36 1 6 1 16 1 26 1 13 1-76 1 45 1 10 1 2 1 36 1 35 1-40 1-261 1 160 1 5 1 79 1-78 1-104 1 58 1 43 1-8 1 5 1-26 1-2 1 2 1 45 1-7 1 29 1-87 1 166 1-159 1-5 1-103 1 45 1 8 1 13 1 51 1 64 1-8 1 67 1-39 1-97 1 67 1 11 1 70 1-84 1 6 1-31 1 49 1-7 1-18 1-33 1 36 1-66 1-8 1 86 1-10 1-42 1 93 1-54 1 1 1 9 1 1 1 82 1-71 1 100 1 2 1-153 1 87 1-105 1 15 1 17 1 58 1-57 1 107 1-108 1 46 1 24 1 74 1 52 1-227 1 40 1 84 1 19 1 21 1-71 1-56 1-61 1-13 1-36 1 40 1 81 1-75 1 156 1-148 1 187 1 17 1 12 1 27 1-136 1 30 1 8 1-30 1 49 1-40 1 147 1-61 1-64 1 32 1 37 1-86 1 105 1-83 1-27 1-10 1-32 1 30 1-2 1 51 1-163 1 53 1-57 1 8 1 48 1-139 1 0 1 110 1 15 1 8 1 13 1-17 1 9 1 1 1 113 1-82 1-93 1-32 1 148 1-41 1-41 1 31 1-24 1 22 1-140 1 63 1 99 1-104 1 59 1-108 1 16 1 0 1 0 1 73 1-54 1 104 1-52 1-13 1-88 1-57 1 173 1-10 1 20 1 39 1-87 1 14 1 67 1-30 1-36 1 65 1 18 1-85 1 82 1-74 1-71 1 135 1-45 1-25 1 19 1-17 1 33 1 72 1-18 1-32 1 21 1-38 1 141 1-85 1-4 1 34 1 29 1-21 1 1 1 29 1 7 1 20 1-140 1 13 1-16 1 41 1-30 1-10 1 159 1-103 1 8 1-84 1 39 1 8 1 7 1 28 1-57 1 27 1 80 1-51 1 16 1 47 1-131 1 31 1-26 1 163 1-177 1-14 1-33 1 21 1-28 1-33 1 45 1 16 1-23 1 94 1-62 1-3 1-39 1-16 1 55 1-32 1 31 1 127 1-168 1 84 1-57 1 35 1 33 1-5 1 32 1-3 1 38 1-81 1 7 1-18 1-121 1 190 1 24 1-128 1 40 1-108 1 9 1 59 1 126 1-50 1-56 1 66 1 35 1 73 1 0 1-56 1-65 1 87 1-95 1 0 1 59 1-45 1-37 1 24 1-60 1-82 1 100 1 70 1-97 1 15 1-9 1-15 1-80 1-13 1 74 1 26 1 113 1-185 1 101 1-63 1-5 1-18 1-94 1 56 1-78 1 183 1-174 1 139 1-79 1 101 1-17 1 119 1-99 1-29 1 53 1 7 1 23 1 39 1-47 1 89 1-149 1-44 1 132 1-83 1 52 1-175 1 8 1 81 1 75 1-24 1-6 1 33 1-95 1-19 1 19 1-15 1 146 1-95 1 69 1-98 1 155 1-41 1-120 1 124 1-24 1 19 1-3 1-27 1-2 1-20 1-27 1-41 1 119 1-1 1 94 1-10 1 48 1-81 1-44 1-68 1 15 1 35 1 208 1-157 1-112 1 93 1-30 1 85 1-14 1-63 1-52 1-41 1 64 1-17 1-111 1-28 1 97 1-93 1-51 1 164 1 31 1 99 1 21 1-32 1-47 1-89 1 58 1-3 1-33 1 22 1 37 1-28 1-60 1-32 1-71 1 87 1-42 1-40 1 108 1-57 1 78 1-109 1-19 1 40 1 29 1-82 1 93 1-1 1 67 1-89 1-10 1 120 1-26 1 57 1-139 1-63 1 96 1-59 1-53 1 119 1 21 1 17 1-34 1-13 1 10 1 120 1 122 1-102 1 119 1-3 1-135 1-90 1-94 1 124 1-42 1 85 1-64 1-70 1 51 1-14 1-69 1 116 1 20 1 24 1-105 1-51 1 93 1 63 1-9 1-27 1 105 1-24 1-17 1-50 1 63 1 23 1-5 1-64 1-31 1 74 1 48 1-68 1 78 1 14 1 20 1-69 1 0 1 73 1 18 1-94 1-35 1-49 1 36 1 48 1-14 1-1 1-7 1 37 1 3 1-37 1 39 1 18 1 65 1-112 1 49 1 17 1-135 1-38 1 156 1-74 1-16 1-6 1-108 1 6 1-22 1 50 1-50 1 47 1 40 1-71 1-33 1-66 1 215 1 21 1-64 1 28 1-1 1 24 1 14 1-51 1-12 1 100 1 63 1-61 1-99 1 63 1-117 1 3 1 0 1 54 1-8 1-38 1-36 1-47 1 109 1-28 1 6 1-2 1 170 1-115 1 30 1 103 1-44 1 41 1-152 1 80 1 92 1-38 1 24 1-70 1 103 1-10 1-66 1-189 1 55 1 103 1 51 1-41 1 81 1-108 1-55 1 175 1-118 1 50 1-46 1 58 1 29 1 231 1-255 1 98 1-94 1-81 1 75 1 67 1-147 1 80 1-24 1-41 1-74 1 18 1-53 1 195 1-123 1-37 1 92 1 136 1-176 1 38 1-164 1 66 1 151 1-129 1 112 1-55 1-34 1 54 1 34 1-122 1 60 1 42 1-85 1-2 1-32 1-33 1 84 1-42 1 71 1-37 1 54 1-109 1-1 1 213 1-187 1 31 1-68 1 76 1 54 1-10 1-21 1-30 1 25 1-56 1-5 1-129 1 92 1 27 1 166 1-60 1-2 1-300 1 273 1 72 1-41 1-18 1-38 1 133 1-169 1 96 1-44 1 10 1-27 1-10 1-57 1 142 1-79 1 57 1 91 1 40 1-434 1 400 1-6 1 86 1-163 1-65 1 196 1-86 1 43 1-15 1-164 1 134 1 10 1 0 1 107 1 10 1-105 1-10 1-54 1 58 1-76 1 56 1 3 1 11 1-103 1 122 1 82 1-64 1-148 1 146 1-23 1-110 1 15 1 40 1-51 1 23 1 36 1 68 1 43 1-74 1 4 1-31 1 28 1-44 1 64 1-55 1-12 1-45 1-26 1-63 1-39 1 97 1-22 1 59 1-159 1 126 1 121 1-21 1 111 1-149 1 4 1 47 1-180 1 111 1 11 1 13 1 77 1-56 1 88 1-81 1-113 1 125 1-39 1 4 1-41 1 48 1 68 1 98 1-56 1-64 1 20 1-102 1 157 1-167 1 63 1 57 1 51 1-168 1-28 1 2 1 13 1-20 1-67 1 81 1 23 1 73 1-75 1 40 1-74 1 132 1-9 1-50 1 25 1-136 1 46 1 76 1-95 1 129 1-122 1-157 1 291 1 5 1 103 1-59 1-102 1-10 1-12 1 2 1 16 1-103 1-53 1 55 1 18 1-13 1-49 1-116 1 106 1 48 1-29 1 83 1 27 1-23 1-92 1 4 1 15 1 65 1 49 1-23 1-141 1 114 1 2 1-28 1-24 1-16 1 89 1-62 1-58 1 16 1-133 1 157 1-168 1 136 1 10 1-31 1 166 1-62 1-92 1-59 1 98 1-70 1-17 1 42 1-43 1-56 1-50 1 60 1 101 1-1 1 101 1-87 1-19 1 36 1-15 1 142 1-143 1-39 1 132 1-184 1 52 1 87 1-53 1-39 1 145 1 4 1 34 1 75 1-73 1 36 1-146 1-26 1 89 1-2 1-129 1 26 1 6 1 19 1-76 1 95 1 35 1-5 1-72 1-25 1 131 1-34 1-9 1 74 1-101 1-81 1 17 1 61 1-37 1 34 1-19 1-40 1 65 1 29 1 6 1-90 1-53 1-34 1 51 1 57 1-16 1-53 1 55 1 10 1 13 1 29 1-114 1 52 1 61 1-104 1 71 1-125 1-8 1-16 1 33 1-29 1 18 1-6 1-48 1 116 1 82 1-28 1 126 1-66 1 20 1-69 1 49 1-31 1 53 1-39 1 40 1-23 1 48 1-26 1 67 1-28 1 20 1-80 1 8 1-19 1 52 1 30 1-99 1 67 1-49 1 73 1 2 1-62 1 17 1-53 1 75 1 14 1-51 1 88 1-111 1 75 1-18 1-23 1-173 1 72 1 73 1-33 1 77 1 47 1-27 1-133 1 11 1 163 1-89 1 18 1-77 1 77 1 130 1-77 1-98 1 68 1 20 1-78 1 76 1-53 1 22 1 43 1-152 1 60 1-56 1 178 1-51 1 30 1-30 1-71 1-71 1 79 1 67 1-31 1 68 1 56 1 23 1-24 1-34 1 62 1-72 1 44 1-61 1 133 1 16 1-24 1-64 1 16 1 10 1 102 1-33 1 72 1-16 1-22 1 44 1-111 1 109 1-31 1-180 1 39 1-40 1 67 1-24 1-79 1-62 1 31 1 35 1 137 1-41 1-4 1 1 1-9 1-44 1 37 1 28 1-159 1 36 1 97 1 69 1-495 1 377 1-1 1 6 1-53 1 132 1-94 1 26 1-65 1 112 1 10 1-64 1-89 1 154 1 51 1-41 1 141 1-137 1 6 1-152 1 61 1 74 1-90 1-54 1 58 1-53 1 120 1 46 1-9 1 55 1-169 1 25 1 68 1 54 1-64 1-69 1-63 1 96 1-29 1 92 1-60 1 23 1 38 1-109 1 42 1 19 1-110 1 23 1 19 1 36 1 85 1-78 1 25 1-165 1-7 1 114 1-6 1-64 1-18 1 39 1-12 1 104 1 36 1-29 1 14 1-157 1 48 1 15 1 71 1-69 1 52 1-63 1 119 1-137 1 133 1-66 1-42 1-30 1-30 1 50 1-36 1-97 1 105 1 58 1-55 1-39 1 96 1 8 1-79 1-78 1 47 1-65 1 37 1 2 1 50 1-46 1 74 1 32 1-3 1-6 1-33 1 59 1-83 1-78 1-30 1 157 1-40 1 23 1-31 1-108 1-11 1 127 1 24 1-5 1 15 1 55 1-52 1 20 1 24 1-20 1-97 1-134 1-64 1 100 1-7 1 42 1-39 1-50 1 161 1-18 1-76 1-50 1 202 1-103 1 12 1 138 1-28 1 21 1-85 1-73 1 32 1 78 1 128 1 13 1-126 1 173 1-69 1 26 1-102 1 25 1-118 1 12 1 44 1 123 1-194 1 103 1-42 1-1 1 23 1 141 1-133 1-14 1 52 1-84 1-30 1 15 1-33 1 17 1 19 1 91 1 27 1-99 1-24 1-81 1-53 1-21 1-10 1 94 1-52 1 58 1 159 1-78 1-111 1 90 1 39 1 111 1-81 1-67 1 35 1-13 1 26 1 73 1-83 1 34 1-61 1 61 1-87 1 58 1-21 1-7 1 103 1 137 1-26 1-32 1 51 1 10 1-13 1 7 1-154 1 40 1-34 1-20 1-132 1 118 1 15 1 23 1-114 1-78 1 114 1-12 1 119 1-94 1-120 1 76 1-18 1 8 1 395 1-461 1-5 1 91 1-83 1-39 1 210 1-122 1 64 1-14 1 25 1-44 1 37 1-24 1-67 1-46 1-24 1 85 1-79 1 28 1 128 1-84 1 74 1-25 1-97 1 32 1-58 1 19 1 119 1-82 1 107 1-14 1-65 1 147 1-90 1 60 1 6 1 8 1-93 1 94 1 18 1-97 1-40 1 72 1 95 1-91 1 72 1-58 1-9 1 78 1 11 1-64 1 116 1-116 1 11 1 10 1 14 1-173 1 102 1-8 1-30 1 115 1 183 1-268 1-89 1 97 1-178 1 117 1-14 1 35 1-9 1-14 1-35 1-41 1 7 1 181 1-78 1-85 1 83 1-116 1 85 1-92 1 41 1-7 1-18 1 26 1 13 1-108 1 81 1-39 1 29 1 163 1 0 1 11 1-62 1-22 1 100 1-54 1-43 1-71 1-50 1 85 1-131 1 206 1-10 1-42 1 18 1-35 1 92 1-112 1 35 1 142 1-48 1 129 1-93 1-88 1 10 1 77 1-12 1-39 1 58 1 4 1-57 1 18 1-14 1 201 1-62 1 95 1-65 1 19 1-172 1 57 1-26 1-33 1-230 1 172 1-87 1-82 1 135 1 63 1 14 1-29 1-95 1 130 1-311 1 281 1 77 1-29 1 14 1 11 1-59 1 20 1-17 1 68 1-91 1 118 1-104 1-41 1 9 1-80 1 121 1-47 1-10 1 8 1-17 1-25 1 51 1 28 1 60 1-137 1 77 1-120 1 53 1 54 1 3 1-82 1 86 1 5 1 22 1 156 1-44 1-50 1-54 1 59 1 15 1-151 1-24 1 89 1-22 1-54 1-52 1 4 1 155 1-15 1-14 1-42 1-29 1 24 1-150 1 128 1 66 1-60 1 170 1-118 1 62 1-121 1-91 1 244 1-22 1 22 1 59 1 68 1-201 1 38 1-11 1-120 1-13 1 1 1-49 1-1 1 8 1 97 1-6 1 34 1 20 1 104 1-24 1-42 1-28 1-12 1 166 1-205 1 105 1-28 1-25 1-54 1-29 1-17 1 102 1 55 1-86 1-29 1-7 1-136 1 121 1-77 1 92 1 68 1-14 1 104 1-15 1-118 1 39 1 3 1 111 1 32 1-193 1 23 1-37 1-39 1 133 1-66 1-14 1-144 1 61 1-24 1 54 1-63 1 140 1 6 1-9 1 3 1-70 1 35 1 37 1-35 1-6 1-43 1 68 1-5 1-63 1 27 1-12 1 23 1-2 1-78 1-15 1 97 1-38 1 170 1 77 1-160 1-36 1 97 1-112 1-42 1 44 1-2 1-13 1-90 1 26 1 30 1 78 1-42 1-39 1 54 1-73 1-59 1 81 1 38 1 1 1 6 1 30 1-121 1 20 1 40 1 20 1 114 1-193 1 207 1-24 1-55 1 65 1-71 1-34 1 23 1 114 1 98 1-10 1-69 1 64 1-5 1 56 1-89 1 7 1 86 1-123 1 78 1 63 1-47 1-123 1 13 1-33 1 43 1-94 1-23 1 182 1-52 1-19 1-2 1 13 1-121 1 174 1-176 1 3 1 64 1-39 1-59 1-51 1 28 1 53 1 17 1 73 1-59 1-13 1-55 1 16 1-91 1 15 1-2 1 8 1-133 1 76 1-3 1 40 1 73 1-7 1-36 1 53 1 66 1 76 1-155 1 31 1-41 1-32 1 5 1 1 1-81 1 137 1-66 1 69 1 14 1-35 1 67 1 21 1-10 1-72 1 47 1 17 1-58 1 27 1-69 1 72 1 71 1 17 1-15 1 1 1-96 1 86 1-14 1 9 1-87 1-29 1-10 1-21 1 13 1-51 1 146 1-46 1-32 1-139 1 4 1 83 1-20 1 0 1-34 1 35 1-25 1 29 1-5 1 49 1 29 1-45 1-10 1 88 1-46 1-3 1 1 1-40 1 104 1-79 1 60 1 60 1-46 1-84 1 80 1 21 1 3 1 23 1 125 1-100 1 4 1 63 1-137 1 103 1-24 1-53 1-24 1-129 1 34 1 60 1 10 1-15 1-44 1-5 1 54 1 69 1-101 1-14 1-47 1-68 1 24 1 41 1 5 1-27 1 19 1 13 1 49 1 114 1 33 1-63 1 57 1 7 1 1 1-29 1-13 1-71 1 63 1 84 1-63 1 4 1-10 1 29 1-67 1 17 1 34 1 20 1 83 1-38 1-108 1 142 1-142 1 128 1-78 1-20 1 33 1-44 1-24 1 161 1 30 1-13 1 46 1-42 1-65 1 11 1-77 1 129 1 59 1-191 1 64 1-142 1 0 1-92 1-14 1 46 1 5 1 93 1-20 1 42 1 1 1-19 1-123 1-3 1-5 1 29 1 22 1 35 1 44 1 104 1-44 1-86 1 31 1 70 1-66 1 112 1-150 1 13 1 196 1-134 1 118 1-76 1-10 1 9 1 2 1-73 1 23 1-13 1-46 1 32 1 50 1-139 1 34 1 95 1 14 1 6 1 26 1 8 1-82 1 128 1-80 1-14 1 25 1 19 1-75 1 39 1 96 1-1 1-16 1 5 1 79 1-151 1 14 1 1 1-5 1-118 1 11 1 36 1 181 1-110 1-3 1 58 1-13 1-490 1 482 1 66 1-222 1 287 1-165 1 27 1-48 1 48 1 31 1-35 1 33 1-178 1 83 1 17 1 80 1-21 1 112 1-76 1-110 1 1 1-82 1 78 1 1 1-10 1-80 1 103 1 2 1 29 1-46 1-53 1 31 1 48 1-18 1 70 1-112 1 2 1 7 1-67 1 13 1 29 1-30 1 50 1 24 1-72 1 86 1-10 1-8 1 41 1 17 1-101 1 36 1-19 1 7 1-151 1 141 1 75 1 16 1 16 1-38 1 46 1-125 1-44 1 11 1 50 1-23 1 35 1-90 1 5 1 73 1 60 1-69 1-160 1 49 1 75 1-71 1 20 1-45 1 123 1-10 1 60 1 94 1-83 1-50 1 39 1-35 1-4 1-72 1-64 1 27 1-37 1-41 1 24 1 34 1 45 1-97 1 159 1 43 1-50 1-30 1 9 1 85 1-108 1 86 1-46 1-26 1 1 1 9 1 4 1-83 1 138 1-81 1 66 1-85 1-10 1 78 1-10 1-131 1 22 1 100 1 96 1-76 1 76 1-10 1 207 1-218 1-54 1-88 1 40 1-50 1 85 1 37 1 33 1 21 1 0 1-11 1 16 1-96 1 37 1 80 1-190 1 127 1-78 1-15 1 18 1 33 1-82 1-29 1-31 1-36 1-17 1 39 1 147 1 84 1 24 1-133 1 5 1 18 1-31 1-40 1 38 1-94 1 79 1-30 1-90 1 71 1-16 1 47 1-88 1 64 1 56 1 94 1-76 1-45 1 41 1 29 1 59 1 46 1-49 1-93 1 83 1 26 1-103 1 112 1-170 1 136 1 140 1-31 1-53 1-24 1 89 1-139 1 73 1 20 1 22 1 1 1 88 1-64 1-22 1 76 1-53 1 35 1-146 1 21 1 79 1-41 1 98 1-39 1 46 1-27 1 2 1-69 1 42 1-38 1 16 1 17 1 35 1-63 1-52 1-44 1 71 1 20 1-22 1 8 1-47 1-81 1 91 1-79 1-42 1 104 1-71 1 83 1 53 1-27 1-97 1-16 1-17 1 60 1 39 1-33 1-64 1 3 1 96 1-60 1 18 1 6 1 6 1-20 1-6 1 94 1-166 1 135 1-15 1-29 1 54 1 8 1-47 1 166 1-130 1 98 1 46 1-128 1-14 1-22 1 90 1 84 1-153 1 63 1-77 1-89 1 50 1 62 1-27 1-29 1 15 1-75 1 147 1-50 1-55 1 61 1 47 1-97 1-68 1 165 1-113 1 83 1-80 1 33 1-3 1-43 1 65 1 8 1 19 1-96 1-6 1 97 1-187 1 77 1-45 1 64 1-42 1 78 1-101 1 8 1 26 1 78 1 7 1-41 1-56 1-4 1 79 1 45 1-60 1 9 1 73 1 85 1 19 1-65 1 21 1-58 1-7 1-48 1 34 1 12 1-67 1-18 1-29 1 59 1 24 1 47 1-53 1 157 1-199 1 63 1 5 1-164 1 51 1-9 1-95 1 1 1 41 1 94 1-21 1 67 1-51 1-104 1 72 1-55 1-13 1-40 1 8 1 20 1 31 1-25 1-15 1-20 1 35 1 54 1-4 1-23 1 21 1-61 1-85 1 200 1-60 1-97 1 44 1-55 1 188 1-14 1-67 1 115 1-46 1-24 1 22 1-57 1-46 1 59 1-36 1-53 1-9 1 46 1 61 1-23 1-12 1 173 1 9 1-72 1-56 1-2 1-36 1 23 1-63 1 202 1-68 1 29 1-56 1-29 1-8 1 32 1 104 1-68 1 101 1-89 1-6 1-43 1-48 1-50 1 112 1-85 1 11 1 110 1 60 1-65 1 22 1-20 1-32 1 43 1-15 1-7 1-15 1 52 1 8 1-20 1 19 1 12 1-167 1 90 1-131 1-8 1 112 1 138 1-235 1-15 1 24 1-55 1 152 1-3 1 38 1-38 1 45 1 8 1-25 1 127 1-165 1 17 1 21 1 37 1 50 1 28 1 63 1-133 1-126 1 159 1-30 1 17 1-228 1 216 1 15 1 52 1 107 1-139 1-36 1 32 1 119 1-76 1 1 1 14 1-2 1 0 1-18 1-9 1-24 1 65 1 1 1 23 1-154 1-35 1-97 1-43 1 136 1 23 1-60 1 7 1 164 1-21 1 132 1-77 1-77 1 31 1 47 1-58 1-27 1 82 1-3 1-108 1-169 1 69 1 48 1 188 1-92 1 68 1-83 1-62 1-54 1-59 1 399 1-340 1 85 1 60 1-68 1 7 1 104 1-49 1-70 1 39 1 3 1-5 1 19 1-44 1 42 1-4 1 27 1-27 1 7 1-10 1-178 1 242 1-138 1 36 1 35 1-172 1-13 1 165 1-109 1 23 1-7 1 59 1-46 1-17 1 76 1-63 1 78 1-24 1 24 1-42 1 22 1 22 1 0 1-63 1 40 1 59 1-134 1 63 1-38 1 163 1-40 1 4 1 21 1 36 1-164 1-55 1 94 1-28 1-108 1 192 1-77 1 39 1 128 1-84 1 31 1-39 1 1 1 6 1 1 1-145 1 139 1 9 1-1 1 23 1-96 1 29 1-44 1 75 1-39 1-71 1 17 1 84 1-62 1-100 1-28 1-62 1 29 1-43 1 91 1-82 1-19 1 23 1 50 1 258 1-230 1 80 1 126 1-125 1-7 1 25 1-13 1-15 1 25 1 28 1-73 1-10 1 126 1-77 1-77 1-58 1 33 1 2 1 23 1-27 1 37 1 65 1-49 1 17 1 52 1-16 1 78 1 123 1-46 1 88 1-118 1 64 1 8 1-90 1 154 1-82 1-122 1 92 1-76 1-7 1-37 1 104 1-66 1 18 1 47 1-102 1 4 1-25 1 36 1-103 1 71 1 30 1 13 1-91 1 45 1-7 1-96 1 32 1 59 1 34 1-53 1 30 1-20 1 73 1-91 1 81 1 71 1-18 1 10 1-95 1-49 1 77 1 63 1-88 1-16 1 151 1-56 1 10 1 74 1 47 1-96 1-60 1 76 1 37 1 23 1-41 1 2 1 44 1 13 1-98 1 81 1 39 1-58 1-45 1-18 1-79 1 38 1-46 1 103 1-60 1 101 1-114 1-82 1 15 1 13 1 33 1 67 1-68 1-95 1 52 1 46 1-196 1 138 1-48 1 51 1 29 1 63 1-95 1-77 1 71 1-42 1 86 1-87 1 74 1 11 1-29 1 178 1-99 1 25 1-56 1 24 1-25 1 49 1-26 1 43 1-37 1 4 1-71 1 74 1-51 1-56 1-44 1-13 1 173 1 128 1-261 1-36 1-22 1 105 1-81 1 66 1-24 1 32 1-95 1 161 1-93 1-23 1-16 1 179 1-47 1 39 1-108 1 65 1-87 1 37 1 89 1 2 1-29 1-74 1 113 1-143 1-8 1 140 1-11 1 4 1 137 1-97 1-56 1-21 1-17 1-18 1 145 1 51 1-15 1-14 1-58 1 21 1-86 1-56 1 93 1-72 1-103 1 127 1-93 1 84 1 25 1 13 1-51 1-29 1 36 1-71 1-65 1 98 1-25 1 49 1-16 1-101 1 126 1-16 1-201 1 268 1-121 1-20 1-7 1-46 1 25 1 0 1 15 1 21 1 66 1-62 1 30 1 3 1 3 1-50 1-109 1 71 1-53 1-113 1 61 1 98 1-49 1 28 1-44 1 1 1-3 1 150 1 3 1 1 1-38 1-5 1-45 1 23 1 42 1 52 1-78 1 34 1 30 1 46 1-79 1-76 1 69 1-50 1-32 1-21 1-105 1-33 1-26 1 6 1 8 1 11 1-5 1 9 1-30 1 25 1-18 1 10 1-13 1 44 1 3 1 80 1-40 1 82 1-47 1 1 1 148 1-107 1-11 1 0 1-116 1 40 1 1 1 2 1-18 1 22 1 55 1 51 1-33 1 138 1-74 1-54 1-17 1-27 1-30 1 57 1 67 1-50 1-19 1 142 1-84 1-16 1 91 1-158 1 74 1 63 1-28 1-29 1-7 1 92 1-86 1 25 1 43 1-58 1-37 1-46 1 168 1-180 1 72 1-50 1 91 1-3 1-74 1-99 1 15 1-30 1 126 1-30 1-74 1 85 1-69 1 42 1 86 1 67 1-39 1-43 1 17 1 17 1 21 1-11 1 7 1 30 1 0 1-37 1-114 1 152 1-33 1 89 1-118 1 2 1-31 1 40 1 24 1 59 1 44 1-72 1 152 1-118 1-95 1 35 1-21 1 30 1-96 1 86 1-118 1 107 1 60 1-81 1-43 1 108 1 97 1-10 1-68 1 168 1-148 1-3 1-76 1 41 1-3 1-5 1-39 1-17 1-50 1 110 1-109 1 70 1 37 1-16 1 1 1-11 1 45 1-37 1-17 1 37 1-3 1 68 1-20 1-43 1 30 1-104 1-32 1-62 1 146 1-3 1 47 1-23 1 66 1-36 1 73 1 19 1-72 1 25 1 183 1-114 1-112 1 82 1-44 1 53 1 46 1-76 1 48 1 28 1-141 1-48 1 42 1-22 1-178 1 112 1 23 1 16 1-10 1-222 1 173 1-176 1 149 1-75 1 150 1 59 1-66 1 30 1 88 1-26 1 40 1-69 1 22 1-25 1 115 1 3 1-91 1 54 1 56 1 73 1-7 1-230 1 53 1 28 1-39 1 100 1-130 1 102 1-139 1 115 1-80 1 52 1-6 1 30 1-57 1-33 1-116 1 111 1-187 1 28 1 61 1 83 1-20 1-7 1 88 1-3 1 40 1-5 1-46 1-114 1 53 1-48 1 175 1 7 1-41 1-13 1-25 1-134 1 144 1 17 1-50 1-41 1 100 1-91 1-52 1 6 1-27 1 52 1 6 1-26 1 48 1 31 1 70 1-23 1 51 1-64 1-21 1 3 1-31 1-3 1 30 1 142 1 7 1-25 1 35 1-63 1-63 1 25 1 115 1 36 1-15 1-73 1 39 1-103 1 129 1-12 1-58 1 2 1 72 1-87 1-33 1-62 1-4 1 14 1 1 1 56 1-31 1 24 1 179 1-57 1-5 1-24 1 17 1-24 1 96 1-48 1-103 1-34 1-86 1 60 1-44 1 102 1-48 1-81 1-68 1 122 1-88 1 22 1 32 1 53 1-59 1 95 1-90 1 43 1-5 1 23 1 1 1-80 1 12 1 25 1-18 1-46 1 99 1 47 1-30 1-75 1-72 1 80 1 63 1-7 1-7 1-18 1 29 1-4 1-172 1 44 1 166 1-175 1-97 1 125 1-15 1-49 1 31 1 27 1 26 1-41 1 118 1-7 1 75 1-50 1 42 1 57 1-102 1 41 1-21 1-9 1-71 1 37 1-46 1-81 1-13 1 12 1 46 1-5 1 118 1 47 1-130 1 42 1-44 1 98 1-83 1 36 1 22 1 15 1 49 1 12 1 29 1-195 1 29 1 87 1-97 1 25 1 52 1 30 1-106 1 40 1-24 1 110 1-106 1 185 1-123 1-67 1-38 1-31 1-48 1 21 1 9 1 113 1 6 1-58 1 58 1 56 1-6 1 16 1 67 1 58 1-26 1 57 1 13 1-114 1 32 1-67 1 95 1-73 1 23 1 24 1-99 1-37 1 42 1 53 1-204 1 166 1-96 1 8 1 29 1 49 1 8 1 9 1-14 1 37 1-132 1 75 1 105 1-113 1-24 1 43 1 7 1-190 1 154 1-16 1-90 1 29 1 135 1 3 1 17 1-76 1-44 1-52 1-11 1 85 1-25 1-6 1-13 1-89 1 100 1-71 1-91 1 14 1-120 1 17 1 128 1-37 1-29 1 62 1 53 1-53 1 95 1 83 1 41 1-93 1 90 1-8 1-86 1-362 1 409 1-10 1-24 1 145 1-73 1 27 1 22 1 88 1-99 1-127 1 100 1-76 1-3 1-16 1 2 1 140 1-105 1-56 1-14 1-29 1-18 1 18 1-25 1 20 1-26 1 5 1 55 1 16 1-22 1-67 1 25 1 13 1 45 1-107 1 5 1 119 1 83 1-66 1-27 1 23 1 6 1-90 1 0 1 1 1-7 1-48 1 247 1-227 1 133 1-164 1 41 1-10 1 142 1-139 1 180 1-117 1 100 1-120 1 105 1-29 1-113 1 113 1-86 1 87 1 38 1-125 1 29 1 64 1-77 1 84 1-87 1 65 1 2 1-44 1 46 1 24 1-38 1-94 1 11 1-35 1-3 1 18 1 159 1-108 1 64 1-94 1-1 1 94 1-22 1-30 1-64 1 111 1-9 1-76 1 36 1-44 1-26 1 25 1-39 1 32 1 28 1 23 1 75 1 4 1-34 1 46 1 238 1-128 1 15 1-21 1-24 1 23 1-103 1-2 1-107 1 107 1-4 1 73 1-99 1-72 1 50 1-91 1 38 1 176 1-135 1 111 1 35 1-33 1 49 1 11 1-4 1 78 1-101 1 3 1 34 1-154 1-108 1 110 1 63 1-4 1-74 1 29 1-3 1-2 1 12 1 64 1-92 1 125 1-112 1 59 1 8 1 155 1-321 1 250 1-64 1 44 1 53 1-30 1-44 1-8 1-36 1 101 1-58 1 16 1 15 1-5 1 19 1 5 1-4 1-50 1-55 1 29 1 1 1 17 1 10 1 40 1-6 1 41 1-71 1 3 1 5 1 23 1 82 1-95 1-88 1 6 1 9 1 21 1 1 1-115 1 15 1 13 1-17 1 58 1-81 1 91 1-78 1 135 1-124 1-4 1-8 1 45 1-207 1 238 1-136 1-89 1 14 1 56 1 49 1 51 1-57 1 4 1 20 1 58 1-61 1 65 1-16 1 44 1-47 1 14 1 41 1 57 1-47 1-134 1-4 1 74 1 198 1-43 1 37 1 77 1 18 1-60 1-82 1 8 1 21 1-65 1 96 1-132 1 27 1-57 1-48 1 6 1-38 1 67 1 36 1-105 1 106 1-45 1 150 1-225 1 9 1 62 1-2 1 110 1-205 1 124 1-103 1 129 1-178 1 106 1 140 1-64 1-93 1 61 1 38 1-25 1 87 1-38 1-77 1-2 1-2 1-34 1 115 1-36 1 40 1-95 1-54 1 76 1-126 1 147 1-57 1 23 1 53 1 41 1-30 1 6 1 9 1-20 1-81 1 119 1-74 1 11 1 15 1-47 1 4 1-32 1 4 1 53 1 109 1 60 1-89 1 6 1-43 1 54 1-73 1 4 1 69 1-128 1-8 1 88 1 186 1-74 1-25 1-38 1-73 1-21 1 40 1-115 1 81 1-47 1 97 1 21 1-61 1-113 1-20 1 200 1-216 1 41 1 0 1-30 1 95 1-53 1 17 1 47 1-23 1-46 1 103 1-32 1 28 1-36 1-3 1 57 1 6 1 10 1-52 1-95 1 119 1 17 1-44 1-18 1-3 1-3 1 101 1 14 1 87 1-110 1 38 1 19 1 39 1-32 1 30 1-49 1 65 1-30 1-5 1 10 1-54 1 20 1-19 1-76 1 81 1-132 1 139 1 43 1-61 1-89 1-2 1 15 1-63 1-87 1 77 1 54 1-148 1 89 1 87 1-27 1-10 1-31 1-30 1 30 1-82 1-37 1 58 1 47 1-15 1 82 1 31 1-131 1-23 1 98 1-9 1 103 1-253 1 173 1-27 1 34 1 45 1 62 1-67 1 14 1 24 1 73 1-13 1 63 1-111 1 9 1-93 1 6 1 64 1-18 1-63 1-127 1 41 1 84 1-14 1 53 1-27 1 20 1-10 1-54 1 54 1-15 1 39 1-146 1 106 1-5 1 10 1 48 1-32 1-63 1 99 1-119 1 68 1 21 1-14 1-2 1 47 1-53 1-8 1 45 1-19 1 8 1-67 1 75 1-75 1-34 1-49 1 55 1-6 1-24 1 84 1 16 1-102 1 12 1 119 1 47 1 9 1 16 1-47 1 15 1 60 1-120 1 42 1 75 1-108 1-2 1-74 1 73 1-36 1 48 1 23 1-10 1-17 1-72 1 35 1-15 1 72 1-1 1-46 1-2 1-46 1-43 1-15 1 80 1 36 1-95 1 115 1-17 1 62 1-106 1 42 1-31 1 0 1-16 1-93 1 81 1-82 1 132 1-87 1 23 1-2 1-52 1 13 1 30 1 97 1-87 1 101 1 30 1-88 1-40 1 123 1-101 1-56 1 72 1-103 1 28 1 12 1 62 1-19 1 59 1 15 1-20 1 98 1-4 1-47 1 67 1-68 1 20 1 2 1-2 1 0 1-5 1-65 1 1 1 101 1-141 1 87 1-57 1-19 1 15 1 22 1-68 1 91 1-109 1 33 1-55 1-48 1-41 1-66 1 50 1 24 1 64 1-146 1 101 1 71 1-80 1 103 1-81 1 130 1-90 1 33 1 56 1-118 1 87 1-3 1 52 1 55 1-83 1 25 1 23 1 70 1-12 1-65 1 11 1 74 1-56 1-65 1-26 1 153 1-70 1 54 1 63 1-43 1-13 1 32 1-21 1 6 1-69 1 15 1-72 1 184 1-67 1 63 1-189 1 46 1 47 1-21 1-119 1-12 1 112 1-16 1 38 1-198 1 68 1 6 1-17 1 35 1 50 1 48 1-44 1-75 1-116 1 127 1-95 1-29 1-117 1-48 1 234 1-76 1 14 1 12 1-25 1 9 1 140 1-14 1-2 1 38 1-135 1-28 1 78 1-32 1-65 1 117 1-48 1 20 1 169 1-144 1 76 1-78 1-14 1-29 1-12 1 4 1-104 1-54 1 18 1 85 1-19 1-14 1 113 1-73 1 14 1 148 1-72 1 31 1 24 1-45 1-86 1 82 1-20 1 13 1 30 1 42 1-43 1 32 1-123 1-23 1 13 1 19 1 51 1 122 1-79 1 0 1 9 1 30 1 32 1-24 1-56 1 22 1-77 1-66 1-133 1 113 1 43 1-156 1 137 1 23 1 8 1 82 1-4 1-4 1-40 1 37 1 143 1-175 1 105 1-70 1-33 1-33 1 108 1 33 1-101 1 26 1 49 1-145 1-53 1 127 1 11 1 125 1-169 1 73 1-58 1 14 1 67 1 12 1 88 1-42 1-66 1 49 1 25 1-69 1-27 1 80 1-108 1 119 1-8 1 38 1-69 1 18 1-3 1-93 1-348 1 271 1-7 1 191 1-117 1 24 1 84 1-56 1 67 1-12 1-71 1 133 1-99 1 135 1-277 1 277 1-119 1-45 1 17 1-66 1-111 1 155 1-34 1-71 1 79 1-40 1-46 1-24 1 0 1 77 1 15 1-6 1 3 1 23 1 25 1 39 1-53 1-34 1 29 1-102 1 104 1 84 1-93 1 10 1 1 1 80 1-128 1-94 1 152 1-69 1-72 1 104 1-161 1-23 1 7 1 139 1-71 1-59 1 59 1 41 1 16 1 51 1-6 1-29 1-107 1 169 1-16 1-11 1 4 1 24 1 94 1-89 1 24 1 19 1 117 1-38 1-37 1-74 1-35 1-2 1-105 1 147 1 21 1-85 1-17 1-55 1-30 1 13 1 209 1-59 1 9 1 71 1-4 1 9 1-7 1 51 1-28 1 18 1 4 1-43 1-117 1 61 1 39 1-75 1-40 1 81 1 17 1 80 1-80 1 61 1-80 1-81 1 3 1 62 1 38 1-39 1 36 1-123 1 71 1 74 1-73 1 14 1 40 1-141 1 13 1 63 1 63 1-43 1 43 1 51 1-51 1-142 1 45 1-88 1 139 1 8 1 79 1 44 1-153 1 22 1 8 1 124 1-137 1 12 1-44 1 68 1 8 1-39 1 11 1-51 1 15 1 50 1-58 1 57 1-54 1 67 1 78 1-25 1 48 1-106 1-92 1 34 1-3 1-88 1 32 1-27 1 66 1 159 1-60 1-46 1 17 1-98 1 109 1-71 1-51 1 151 1-86 1-90 1 27 1 118 1-53 1 108 1-100 1-46 1 51 1 1 1-18 1 81 1 12 1-3 1-1 1-18 1-16 1-5 1 11 1 96 1-86 1-14 1-16 1 64 1-49 1-9 1-18 1-38 1 34 1 34 1-7 1 29 1 38 1-51 1-8 1-222 1 245 1 12 1-158 1 50 1-169 1 69 1-34 1 110 1-57 1 36 1-20 1 4 1 11 1 77 1 47 1-50 1-142 1 2 1 21 1 56 1 20 1-26 1 22 1-37 1-54 1 124 1-6 1-52 1-79 1 509 1-409 1-15 1 77 1 62 1 12 1-74 1-26 1 55 1-68 1 8 1-79 1 32 1-42 1 119 1 9 1-39 1-12 1-218 1 80 1-77 1 5 1 165 1-55 1-38 1 62 1-30 1 99 1-31 1-82 1 52 1-107 1 62 1 66 1 51 1-6 1 10 1-101 1-30 1-44 1 67 1 19 1-20 1-5 1 22 1 58 1-66 1 42 1-56 1 57 1 59 1-53 1 23 1 42 1-48 1-27 1 57 1 26 1 23 1 2 1 37 1-93 1-75 1-29 1 175 1-117 1-41 1 64 1 35 1 73 1 43 1-35 1 50 1-133 1 120 1-182 1 164 1-58 1 73 1 8 1-39 1 50 1-79 1 62 1-43 1-81 1 28 1 36 1-14 1-48 1 154 1-163 1 157 1-35 1-109 1 3 1 71 1-109 1 85 1 17 1 36 1-104 1 61 1 65 1 1 1 39 1 19 1 10 1-73 1-39 1 71 1-96 1 34 1-94 1-113 1 21 1 87 1-128 1 55 1-26 1 119 1 20 1 25 1 30 1-118 1 38 1 33 1-93 1 37 1 10 1 1 1 37 1-36 1-88 1 32 1-22 1-54 1-45 1 35 1 31 1-28 1 62 1 93 1-125 1 47 1-65 1 129 1-117 1 50 1-81 1 93 1 84 1 76 1-12 1 75 1-15 1-82 1 2 1-7 1-76 1-44 1 54 1 17 1-99 1 55 1 29 1-66 1 16 1-11 1 19 1-29 1 17 1 61 1 0 1-33 1 47 1 0 1-75 1 116 1 54 1-127 1 4 1 192 1-51 1 58 1-44 1-56 1 11 1-11 1 41 1 35 1-49 1 22 1-66 1-49 1 125 1-38 1 62 1 6 1-123 1-22 1 98 1-73 1-94 1 146 1-98 1 105 1-72 1 22 1-13 1-23 1-16 1-72 1-17 1 18 1-9 1-36 1 40 1 58 1 62 1-171 1 32 1-53 1 119 1-65 1 33 1-57 1 158 1-140 1 11 1 37 1 41 1-21 1-20 1-94 1 45 1 32 1-15 1 92 1 9 1-42 1 70 1 70 1-188 1 95 1-91 1 47 1-146 1 4 1 108 1-36 1 0 1 7 1 99 1-185 1 114 1-69 1 12 1 83 1 114 1 31 1-74 1 27 1-60 1-83 1-41 1-9 1 121 1-65 1 81 1-9 1 145 1-133 1 131 1-5 1-55 1-35 1 3 1 3 1 17 1 13 1-45 1-24 1-84 1-18 1 34 1 13 1-18 1-4 1 8 1 90 1-19 1 161 1-382 1 220 1-35 1 112 1-130 1-73 1 29 1 94 1-176 1 118 1 64 1-42 1-4 1 53 1-15 1 128 1-47 1 46 1-13 1-36 1 4 1-82 1 48 1-19 1 41 1 17 1 13 1-76 1 32 1-30 1-5 1 47 1 43 1 80 1-47 1-113 1 24 1-20 1 136 1-69 1 100 1-166 1 87 1-2 1-11 1-10 1 17 1 64 1-6 1-55 1-126 1-13 1 21 1 23 1-16 1 45 1-43 1-12 1-5 1 31 1 112 1-92 1-30 1-4 1-29 1-13 1 17 1 67 1 11 1-89 1-24 1 53 1 61 1-105 1-22 1 139 1-106 1-20 1-149 1 130 1 34 1-35 1-74 1 54 1 5 1 44 1-93 1-9 1 24 1 43 1 166 1-48 1 68 1-39 1-73 1 49 1-33 1 58 1 26 1 13 1 83 1-89 1-129 1 67 1-63 1-18 1 69 1-36 1 50 1-26 1 100 1-48 1-3 1-88 1-43 1 90 1-96 1 133 1 3 1-104 1-60 1 43 1-4 1-38 1-18 1-4 1 63 1 16 1 31 1-109 1 90 1-82 1 85 1-59 1 111 1-235 1 147 1 78 1 117 1-386 1 304 1-65 1-58 1 2 1-96 1-70 1 98 1 72 1 50 1-137 1 229 1 53 1-21 1 34 1-188 1-5 1 24 1 56 1-64 1-62 1 96 1-60 1 35 1-24 1 128 1 62 1-99 1 57 1 62 1-90 1-36 1 4 1 0 1 31 1-65 1 28 1-21 1-90 1-8 1-33 1 81 1-66 1 60 1 72 1 6 1 49 1-10 1-30 1-12 1-22 1 98 1-62 1 24 1 15 1-123 1-47 1 68 1-42 1-49 1 22 1 32 1 11 1 74 1-170 1-116 1 45 1 101 1 7 1 95 1-5 1 34 1 20 1 89 1-111 1-77 1 51 1 12 1-7 1-15 1 6 1 81 1-47 1 40 1 64 1-165 1 66 1-63 1 33 1-84 1-12 1 47 1-82 1 184 1-198 1-4 1 16 1 64 1 43 1 38 1-79 1-13 1 100 1-38 1-3 1 147 1-124 1 28 1-102 1 81 1 61 1 156 1-78 1-62 1 64 1 7 1-32 1-63 1 35 1-54 1 8 1-59 1 83 1 20 1 53 1 44 1 32 1-119 1 6 1 33 1-100 1-41 1 34 1 18 1-84 1 50 1-114 1 143 1 5 1-95 1 64 1 58 1-55 1 33 1 63 1-121 1 108 1-7 1 18 1-50 1-12 1-35 1-155 1 91 1-5 1 66 1-173 1-6 1 137 1 62 1-37 1-8 1-6 1-11 1 71 1-42 1 92 1-44 1-76 1-8 1-5 1 160 1-169 1-25 1 130 1-75 1-56 1 50 1 3 1 15 1 27 1-9 1 97 1 19 1-94 1 51 1-24 1-57 1-49 1 7 1 27 1 87 1-109 1 49 1-5 1-1 1-61 1-12 1 52 1 12 1 40 1-57 1 96 1-74 1-61 1-55 1 100 1 13 1 26 1 31 1 52 1-80 1 27 1 3 1-47 1 65 1-57 1 158 1-15 1-142 1-3 1 22 1-40 1 123 1-82 1 19 1 12 1-9 1-118 1 18 1 47 1 58 1-19 1 74 1-66 1 104 1 35 1-108 1 86 1-69 1-91 1 27 1-35 1-7 1-142 1 180 1-219 1 141 1 21 1-31 1-4 1-47 1 159 1-229 1 34 1-13 1 2 1-39 1 9 1-59 1-13 1-13 1 32 1 88 1-83 1 62 1 0 1 73 1 21 1 18 1 110 1-72 1 70 1 77 1-121 1 66 1 99 1-101 1 79 1-84 1 46 1-106 1 118 1-114 1-148 1 92 1-125 1 146 1-22 1 20 1-20 1 21 1 1 1 18 1-12 1 30 1 90 1 0 1-16 1-98 1-35 1 134 1 15 1-66 1-48 1-10 1 82 1-28 1 49 1-55 1 73 1-233 1 274 1-10 1-82 1-37 1 66 1-57 1-87 1 108 1 9 1-47 1 7 1-62 1 68 1-57 1 81 1-6 1-9 1 11 1 9 1-85 1-62 1 106 1 24 1 35 1 31 1 92 1-97 1-78 1 84 1-15 1 2 1-46 1 35 1-45 1 37 1-158 1 141 1-69 1-13 1-10 1-47 1 24 1 3 1 39 1-53 1 18 1 78 1 42 1 25 1-110 1 13 1-66 1 135 1 17 1-27 1 105 1 57 1-58 1 21 1-61 1 60 1-89 1 91 1-77 1 54 1 1 1-26 1-17 1-47 1-35 1 93 1-57 1 2 1 91 1-155 1 92 1-83 1 25 1-1 1 120 1-15 1-121 1 31 1 85 1-36 1 25 1-122 1 180 1-121 1 115 1 45 1-50 1 53 1-63 1 67 1 53 1-21 1-246 1 139 1 36 1 27 1-37 1 17 1-146 1 101 1-8 1-37 1-15 1-96 1 33 1 9 1 37 1 16 1-148 1-7 1 22 1 12 1-48 1-1 1-7 1 153 1-149 1 83 1-37 1 47 1 16 1-79 1 35 1 32 1 13 1 13 1-165 1 135 1 45 1 97 1-163 1 70 1-55 1-66 1 74 1-45 1 52 1-135 1 167 1-4 1-96 1 61 1 15 1-95 1-13 1-1 1 92 1 39 1 10 1-121 1-36 1-15 1 28 1 30 1-54 1 124 1-69 1 48 1-51 1 48 1-13 1-43 1-8 1 28 1 6 1-20 1-26 1 47 1 14 1 68 1-62 1-132 1 62 1 81 1-87 1 49 1 23 1 6 1-92 1 72 1 94 1-104 1 108 1 99 1-147 1-14 1-44 1 72 1-7 1-95 1 146 1-22 1-89 1 72 1-49 1 67 1 51 1 18 1-42 1-27 1-115 1 70 1 36 1 29 1-17 1 7 1-111 1 134 1-23 1 83 1-135 1 54 1 10 1 16 1 0 1-59 1-84 1-6 1 85 1 24 1-250 1 112 1 87 1-63 1 24 1 3 1 51 1-9 1 22 1-38 1 17 1-96 1-17 1-47 1 42 1 112 1-172 1 114 1 56 1-17 1 56 1-51 1-67 1-44 1 75 1-50 1-14 1-9 1 87 1 58 1 13 1 43 1 59 1-85 1-79 1 73 1 150 1-87 1 69 1-50 1-92 1-6 1-52 1-56 1 7 1 90 1 17 1-95 1 183 1 36 1 6 1-84 1-49 1 85 1-55 1 18 1 9 1-31 1-28 1-58 1-15 1 62 1-63 1-10 1-122 1 17 1 44 1 113 1-74 1-10 1-43 1 120 1-154 1 82 1-14 1 55 1-23 1 3 1-53 1-59 1 123 1-71 1 39 1 196 1-82 1-133 1 162 1 71 1-85 1-37 1-25 1 43 1-61 1 5 1 105 1-36 1-17 1 6 1-38 1 7 1 42 1-27 1 127 1-174 1-7 1-40 1 87 1-25 1-99 1 108 1 101 1 0 1 5 1-5 1-53 1 68 1 15 1 5 1 86 1-119 1 69 1-71 1 131 1 27 1-48 1-12 1-3 1-10 1-4 1 56 1 34 1-88 1 106 1 1 1-72 1 11 1 21 1-20 1-24 1-64 1 69 1 37 1-21 1-39 1-65 1 56 1 50 1-8 1-37 1 98 1-14 1 22 1 0 1-4 1-74 1 24 1-39 1 41 1-48 1 17 1-175 1 146 1 103 1 3 1 2 1-88 1-96 1 129 1-192 1-31 1 20 1-17 1-7 1 51 1 103 1-36 1 29 1 89 1-73 1 45 1-109 1 135 1-81 1 71 1-4 1 61 1-37 1-74 1-46 1-99 1 44 1-26 1-96 1 134 1-88 1-13 1 25 1 9 1-117 1 52 1 32 1-8 1 52 1 9 1 13 1 18 1 50 1 12 1-3 1-56 1-58 1-74 1 58 1 39 1 57 1-62 1-94 1 123 1-21 1-11 1 37 1-152 1 74 1 55 1 67 1-59 1-56 1-80 1 7 1 32 1-137 1-21 1-11 1-29 1 138 1 122 1 5 1-50 1 34 1-58 1-47 1 36 1-25 1 50 1-77 1 182 1-126 1 34 1 79 1 37 1-89 1-69 1 103 1-99 1 168 1-6 1-88 1 24 1-6 1 67 1-72 1-3 1 2 1-108 1-18 1 135 1 78 1 0 1-55 1 37 1-9 1 26 1-120 1 108 1-140 1 37 1 12 1-52 1 13 1-360 1 308 1-7 1 135 1 36 1-38 1 13 1-54 1 64 1-62 1 72 1 1 1-55 1 56 1 17 1-43 1 49 1-181 1 146 1-128 1 47 1 34 1 48 1-20 1-38 1 56 1 14 1 35 1-23 1 87 1-106 1 35 1-108 1 68 1-7 1 4 1-25 1-17 1 105 1-80 1 6 1-27 1-112 1-25 1-11 1 60 1-55 1 145 1-127 1-20 1 23 1-8 1 32 1-29 1 3 1 15 1 37 1-14 1-44 1 102 1-155 1-49 1-53 1 35 1 51 1-99 1 27 1 65 1 22 1-86 1-23 1-1 1 68 1 5 1-12 1 5 1-47 1 48 1 23 1 130 1-176 1 77 1-135 1 100 1-47 1 61 1 40 1 87 1-106 1 93 1 26 1-47 1-106 1-67 1 137 1-150 1 26 1 73 1-22 1 54 1-14 1 23 1 44 1 39 1-24 1-52 1 98 1-210 1 130 1-33 1 42 1 122 1 19 1 2 1 23 1 40 1-121 1 4 1-33 1 45 1-84 1-62 1 42 1-70 1 41 1 90 1-90 1 2 1 247 1-226 1 45 1-90 1 109 1 103 1-6 1-29 1-39 1 31 1 149 1-117 1-104 1 301 1-330 1 39 1-9 1 86 1-86 1 128 1-39 1-174 1 126 1-32 1 58 1-54 1-52 1 34 1 85 1 69 1-111 1 39 1 2 1-88 1 62 1-89 1 19 1 62 1-14 1 48 1-54 1 81 1 110 1-33 1-51 1 138 1-89 1-11 1-160 1 177 1-34 1 45 1 51 1-50 1 36 1-161 1-10 1 10 1-150 1 38 1 20 1 27 1 63 1-37 1 156 1-126 1 167 1-109 1 67 1-66 1-92 1 88 1-16 1 10 1-10 1 35 1-59 1-32 1-57 1 42 1-93 1 68 1 84 1-33 1-101 1-4 1 148 1-68 1-9 1-50 1 132 1-23 1-67 1 39 1 81 1-29 1-7 1-52 1-102 1 79 1-13 1 187 1-6 1 51 1-47 1-15 1-65 1-84 1-21 1 113 1-40 1 61 1 115 1-114 1 118 1-102 1 94 1-92 1 57 1-128 1-118 1 271 1-115 1 9 1 60 1-84 1 16 1 4 1-73 1 11 1-12 1-25 1 88 1-215 1 121 1-35 1 116 1-90 1 2 1 3 1-10 1-7 1-43 1 49 1-116 1 51 1-50 1-55 1-18 1-14 1 107 1 36 1-28 1 37 1-12 1 70 1-115 1 25 1 116 1-27 1-16 1 47 1-33 1 43 1-22 1 131 1-43 1 4 1-13 1-115 1 114 1-33 1 75 1-133 1 66 1-120 1-122 1 122 1-31 1-31 1 87 1-58 1 132 1-17 1-27 1 5 1-30 1 41 1 45 1-9 1 46 1 3 1 46 1-45 1-75 1-191 1 182 1 44 1-37 1-50 1 147 1-45 1-64 1 95 1-16 1 47 1 16 1 9 1 90 1-42 1-67 1-1 1-4 1 38 1 65 1 23 1-77 1-49 1-23 1-7 1 69 1-132 1 57 1-491 1 567 1 52 1-138 1 6 1-174 1 45 1 87 1-11 1 8 1 85 1-55 1-45 1-45 1-67 1 33 1 76 1 7 1-18 1 154 1-126 1-48 1-4 1-41 1-89 1 16 1 105 1-67 1 104 1-40 1 22 1-2 1-14 1-23 1-46 1 11 1-36 1 56 1-30 1-12 1 13 1 154 1-38 1-51 1-2 1-3 1 129 1 127 1-64 1-47 1-35 1-32 1 46 1-18 1-8 1 125 1-242 1 51 1-78 1 44 1-33 1 17 1-42 1 32 1-14 1 109 1-23 1-121 1 120 1-85 1 46 1-24 1 112 1-95 1 1 1-49 1 15 1-111 1 114 1-87 1 130 1-113 1 109 1 20 1-62 1 78 1-13 1-68 1-130 1 84 1 58 1-56 1 39 1-126 1 88 1-9 1 166 1 34 1-36 1 128 1-129 1 50 1-491 1 377 1-49 1-52 1-28 1-95 1 55 1 42 1-86 1-1 1 37 1 20 1 5 1-3 1-28 1 73 1-33 1-29 1 45 1-52 1-17 1 56 1-21 1 96 1-97 1 38 1 7 1 0 1-60 1-49 1 52 1 104 1-16 1-107 1 49 1-13 1-38 1 67 1 45 1 40 1-50 1 36 1 25 1 125 1 45 1-99 1 114 1-157 1-100 1 13 1 45 1 37 1-11 1-43 1 64 1-3 1 81 1-59 1 12 1-5 1-58 1-6 1 72 1 48 1-109 1 22 1 32 1-26 1 43 1-71 1-60 1 133 1-33 1 30 1 43 1-110 1 139 1-56 1-80 1-4 1-33 1 45 1-38 1 137 1-3 1-49 1 4 1 43 1-22 1-67 1 84 1 55 1 24 1-1 1-142 1 41 1 29 1 99 1-215 1-38 1-3 1 127 1 60 1-37 1 26 1-8 1 55 1 68 1-122 1 95 1-13 1-126 1 39 1 110 1-131 1 48 1-13 1-5 1 121 1-138 1 112 1-23 1-10 1 10 1-14 1 100 1-77 1 65 1-68 1-34 1 70 1-130 1 129 1 32 1-98 1-22 1 1 1 54 1 19 1-29 1 36 1-54 1-130 1 115 1-123 1 131 1-13 1-58 1-83 1-39 1-25 1 88 1 145 1-149 1 11 1-82 1 89 1 4 1 0 1 49 1-119 1 217 1-57 1 27 1-92 1 31 1 134 1-7 1-39 1-102 1 23 1-63 1 111 1 0 1-101 1 16 1 70 1 64 1-156 1 5 1 77 1 87 1-112 1-44 1-30 1-76 1 82 1-84 1 97 1 22 1-12 1-39 1-59 1 8 1 13 1 57 1-1 1-94 1 55 1-21 1-25 1 36 1 42 1-59 1 25 1 93 1-162 1 84 1-118 1-7 1-20 1 106 1 111 1-96 1 62 1 283 1-365 1-52 1-36 1 3 1 70 1-25 1 96 1-83 1-64 1 85 1-62 1 27 1 116 1-157 1 40 1 56 1-80 1-105 1 100 1-19 1-129 1 3 1 229 1-183 1 134 1-16 1-51 1 3 1-17 1 22 1-38 1-60 1 101 1-71 1 49 1 51 1 75 1 115 1-148 1-96 1 154 1-60 1 27 1-86 1 145 1 42 1-73 1 23 1-77 1 69 1-147 1 59 1 59 1 49 1-40 1 85 1-22 1-10 1-33 1 45 1-13 1-56 1 78 1-9 1 174 1-130 1-7 1 78 1 0 1-127 1 130 1 10 1-226 1 167 1-54 1-5 1-71 1-29 1-11 1 88 1 132 1-4 1-87 1 29 1 80 1 7 1-149 1 12 1-39 1 81 1 28 1 99 1-39 1 57 1-49 1-134 1 99 1-84 1 137 1-87 1-107 1 103 1-54 1 112 1 32 1-1 1-69 1 93 1-121 1-41 1-1 1-83 1 54 1 25 1 109 1-165 1-55 1 88 1-85 1-27 1 44 1 31 1 4 1-56 1-88 1 117 1-73 1 60 1 92 1-67 1 35 1-21 1 49 1 48 1-95 1 146 1-135 1 70 1-30 1-173 1-17 1 36 1 22 1 6 1-207 1 124 1 10 1 15 1 2 1 14 1 37 1 67 1 60 1-145 1-28 1 52 1-128 1 142 1-53 1 23 1 31 1 5 1-7 1 37 1-147 1 137 1-51 1 97 1-27 1-70 1-52 1-41 1 50 1 70 1-56 1 87 1-63 1 87 1-77 1-16 1 62 1-19 1-109 1 1 1 77 1 24 1 32 1-69 1-41 1 7 1-116 1 71 1 82 1-103 1 60 1-14 1 23 1-6 1-77 1 79 1 129 1-37 1 9 1 65 1-48 1-54 1 17 1-84 1 77 1-17 1-45 1 113 1 13 1-120 1 97 1 5 1-56 1 176 1-109 1-2 1 61 1 67 1-98 1-27 1 3 1 54 1-3 1 68 1-43 1-67 1 40 1 98 1-66 1 42 1-9 1 40 1 22 1 12 1-96 1-81 1 121 1-37 1-104 1 61 1-19 1-24 1-2 1-21 1 37 1-106 1 88 1-49 1 29 1-22 1 223 1-99 1-112 1 142 1-107 1 93 1 41 1-11 1-96 1-59 1 68 1 61 1-71 1-44 1 114 1-215 1 237 1-15 1 12 1 0 1 22 1-38 1 6 1-81 1-61 1 71 1 77 1-65 1-88 1 58 1-43 1 37 1 83 1-98 1 130 1-116 1 110 1 47 1 8 1-38 1-16 1-50 1-4 1-9 1 0 1 12 1-79 1-3 1 7 1-90 1 82 1 68 1-101 1 20 1 92 1-123 1 14 1-28 1 49 1 30 1-15 1 29 1-100 1 14 1 30 1-137 1 10 1-14 1-20 1 85 1 36 1-7 1 17 1 55 1 111 1-63 1-43 1 63 1-216 1 18 1 122 1-75 1 27 1 46 1-52 1-45 1 20 1 43 1 48 1 3 1 49 1-30 1 53 1-87 1 57 1 29 1 29 1-90 1 78 1-50 1 37 1-86 1 35 1-26 1 46 1 29 1 33 1-66 1 29 1-51 1-9 1 24 1-76 1 88 1-115 1-36 1 82 1 43 1-106 1 3 1-16 1 116 1-53 1-27 1-7 1-66 1 63 1 20 1-144 1 132 1-81 1 112 1-41 1 80 1-84 1 215 1-260 1 176 1-74 1 51 1-42 1-42 1 24 1 88 1 109 1-67 1-28 1-40 1-7 1 1 1-102 1 19 1 34 1 7 1 8 1-38 1 109 1 21 1 21 1 29 1-115 1 125 1-50 1 32 1-87 1 14 1-205 1 214 1 63 1 52 1-100 1-210 1 57 1-3 1-18 1 24 1 116 1-104 1 7 1 137 1-144 1 6 1-9 1 101 1-115 1 11 1 99 1-127 1 17 1 83 1-63 1 51 1-78 1 140 1-232 1 171 1-18 1-52 1 16 1-117 1 41 1 11 1-14 1 104 1-62 1 34 1 32 1-63 1-56 1 69 1-8 1-48 1 33 1 30 1 48 1 107 1-92 1-18 1 71 1 69 1-72 1 15 1-80 1 35 1-53 1-9 1-49 1 25 1-110 1 98 1 106 1-120 1-24 1 98 1 20 1-84 1-6 1-19 1-1 1-85 1 36 1 30 1-52 1 108 1-19 1-14 1 49 1-31 1-42 1-49 1-36 1 81 1 20 1 65 1-64 1-58 1-1 1 14 1-25 1 51 1-11 1 35 1-92 1 122 1-90 1 122 1-94 1-5 1 46 1 69 1-53 1 143 1-76 1 64 1-117 1 23 1-20 1 25 1-23 1-7 1-133 1-46 1-20 1 68 1 44 1 109 1-35 1 72 1 75 1-94 1 70 1 12 1-55 1-27 1 35 1 71 1-6 1-62 1-78 1 31 1 121 1 33 1-96 1-37 1 105 1-43 1 7 1-52 1 88 1 39 1-79 1-99 1 113 1-64 1 6 1 83 1-11 1-27 1-89 1 123 1-21 1-9 1-81 1-36 1 12 1-38 1 30 1-32 1-32 1-38 1-53 1 26 1 12 1-4 1 1 1-51 1 97 1-20 1-11 1 49 1 43 1-65 1 42 1-35 1 97 1-52 1-7 1 35 1 52 1 155 1-161 1 57 1-47 1 8 1-86 1 108 1-2 1-15 1-5 1-44 1 6 1-119 1 65 1-110 1 113 1-119 1 101 1-16 1 143 1 63 1-32 1 48 1-146 1 45 1-35 1 26 1 13 1 120 1-147 1 94 1-35 1-31 1-140 1 50 1 78 1-17 1 60 1-71 1 41 1 38 1-58 1-5 1-42 1 38 1 12 1-19 1-161 1 66 1 290 1-302 1 237 1-126 1-51 1 54 1-165 1 160 1-102 1 48 1 43 1-54 1 60 1-73 1 112 1-1 1-80 1 43 1-40 1-37 1 38 1-1 1-4 1-9 1-18 1-39 1-42 1-1 1 60 1 19 1-37 1 63 1-15 1 56 1-48 1 160 1-17 1-104 1-137 1 137 1 13 1-55 1-73 1 106 1-100 1 74 1 60 1 139 1-19 1 95 1-26 1-128 1-72 1 64 1-98 1 36 1 29 1 33 1 32 1-132 1 82 1 3 1-122 1 77 1-29 1-4 1 86 1-42 1-193 1 217 1-15 1-49 1 52 1-73 1 10 1 106 1-52 1 140 1-38 1-8 1 39 1 13 1-34 1-127 1 65 1 72 1-42 1 6 1 72 1 48 1-43 1-43 1-39 1-23 1 63 1-44 1 7 1-32 1 42 1-19 1-38 1 44 1 292 1-199 1 69 1-28 1-9 1 73 1-49 1-110 1 22 1-17 1 14 1 15 1-38 1 62 1 17 1-89 1 150 1-34 1-14 1 85 1-2 1-101 1-16 1 21 1-23 1-14 1-72 1 110 1-99 1 14 1-38 1-51 1-10 1 56 1 99 1-18 1-127 1 8 1-56 1 66 1-58 1 26 1 31 1-21 1 15 1-3 1 72 1-57 1 22 1-57 1 8 1-150 1 92 1 54 1-128 1 182 1-73 1-41 1 21 1-102 1 28 1-26 1 43 1-27 1 62 1-3 1 85 1 50 1 0 1 80 1-125 1-107 1-50 1 69 1 82 1 35 1 42 1-177 1 42 1-83 1-3 1 108 1-103 1 121 1 29 1 16 1 19 1-78 1 40 1-23 1 47 1 109 1-75 1 18 1-114 1 62 1-74 1 153 1-61 1 94 1 2 1-14 1-11 1 89 1 18 1-86 1 90 1-82 1-24 1-254 1 140 1 60 1-16 1 9 1-43 1 3 1-127 1 127 1 25 1 55 1-124 1 127 1 56 1-83 1-17 1-31 1 59 1 102 1-35 1-224 1 146 1-151 1 19 1 14 1-164 1 133 1-18 1-12 1-55 1 116 1-92 1 152 1-61 1-12 1-27 1 131 1-119 1-18 1 3 1 48 1-156 1 37 1-13 1 95 1 28 1 0 1-75 1 46 1 0 1 133 1 3 1-65 1-148 1 42 1 120 1 16 1 27 1-33 1 35 1-61 1-10 1-33 1 22 1-38 1 45 1-119 1 43 1-49 1 12 1-136 1 120 1 127 1-5 1 135 1-105 1 65 1 1 1-105 1 1 1-30 1 110 1-16 1-3 1-50 1 27 1 5 1-71 1-85 1 82 1 21 1-198 1 69 1 46 1 59 1 40 1-114 1 136 1-90 1 62 1 44 1-95 1 29 1 146 1 8 1 90 1-215 1-36 1 15 1-12 1-112 1 9 1-58 1-47 1 55 1 171 1-233 1 230 1 3 1-125 1 84 1 16 1-41 1-89 1-9 1 79 1 68 1-37 1-158 1 48 1 35 1 139 1-173 1 90 1 64 1-13 1-2 1-9 1-43 1-24 1 57 1 61 1-145 1 26 1 82 1 6 1-6 1 10 1 117 1-28 1 59 1 10 1-72 1 20 1-86 1 107 1 20 1-34 1 79 1-33 1-27 1 42 1-100 1 94 1-35 1 25 1-126 1-24 1 7 1-29 1 36 1 28 1-29 1-16 1 47 1-103 1-17 1 125 1 10 1-101 1 4 1 130 1-69 1 55 1-82 1 4 1-53 1 20 1-78 1 58 1-182 1 155 1 18 1 30 1 29 1-34 1 201 1-70 1-50 1-36 1 84 1-124 1-18 1 276 1-234 1-40 1-59 1 135 1-22 1 14 1-32 1-18 1-30 1-68 1 65 1-11 1 56 1-69 1 25 1-1 1-25 1 61 1-71 1-53 1 8 1-8 1 3 1 110 1-108 1 138 1-32 1-290 1 298 1 131 1-13 1 62 1-43 1 5 1-26 1-12 1-99 1 49 1-172 1 10 1 17 1 13 1 45 1-9 1 10 1 42 1 51 1-59 1 26 1 28 1-25 1 39 1-58 1 263 1-265 1 23 1 40 1 27 1-60 1 31 1-3 1-90 1 62 1 9 1 0 1-63 1 72 1 105 1 19 1 43 1-24 1-69 1-15 1 40 1-196 1 183 1-127 1 172 1-145 1-84 1 51 1 99 1 58 1-62 1-48 1-4 1 16 1 44 1-14 1 85 1-26 1-22 1 62 1-173 1 40 1-134 1 16 1 71 1-14 1 91 1 6 1-55 1-30 1 23 1-1 1-34 1 57 1-36 1-193 1 182 1 16 1 11 1-27 1-61 1-44 1 119 1 39 1 42 1 55 1 19 1 30 1-65 1-22 1 72 1-113 1-32 1 37 1-94 1 16 1-37 1 49 1-75 1 42 1 108 1 9 1-2 1 24 1 26 1-47 1-55 1 2 1 21 1-81 1-56 1 51 1 13 1 47 1 75 1-192 1 54 1 96 1 51 1-64 1-103 1 26 1 60 1-63 1-161 1 228 1-16 1 44 1 43 1-40 1-54 1 43 1-93 1 137 1-24 1-92 1 73 1 0 1 22 1-42 1-16 1 18 1-63 1 47 1-20 1 0 1 59 1-26 1 5 1-43 1 70 1 75 1-46 1 5 1-14 1 104 1-35 1 45 1-126 1 50 1 43 1 10 1 73 1-54 1 63 1-69 1 83 1-224 1 106 1-11 1-50 1-11 1 35 1 85 1-84 1 16 1-10 1 32 1 31 1 21 1-100 1 36 1-46 1 106 1-140 1 68 1-47 1-43 1 60 1 11 1-32 1-61 1 11 1-25 1 14 1-154 1-22 1 84 1-34 1 93 1-88 1 169 1-42 1 7 1-21 1 9 1 56 1-145 1 75 1-141 1 68 1-37 1 22 1 161 1-194 1 95 1 7 1-8 1 51 1-2 1-64 1 71 1-90 1 46 1 4 1 24 1-35 1-88 1 45 1 44 1 98 1-34 1 31 1-3 1 142 1-93 1 41 1-62 1 55 1 91 1-21 1 43 1-8 1-58 1-76 1-14 1 65 1-39 1-10 1 17 1-23 1-63 1-50 1 70 1-31 1-2 1-43 1 14 1-36 1-2 1-63 1 80 1-107 1 69 1 36 1 95 1 64 1-63 1-180 1-36 1 44 1 31 1-10 1-50 1 25 1 22 1 29 1-111 1 92 1-23 1 73 1-32 1-100 1-50 1 84 1 37 1-93 1 87 1-8 1 15 1-11 1-15 1-8 1-34 1 44 1-4 1-2 1 155 1-71 1 48 1-17 1 53 1 2 1-123 1 154 1-81 1 40 1 11 1-90 1 2 1 125 1-46 1-53 1-104 1 217 1-233 1 41 1 26 1-74 1-28 1 68 1-58 1-86 1 99 1 71 1-56 1 84 1-67 1 38 1-81 1 78 1-14 1-99 1 3 1 39 1 38 1-98 1 24 1 59 1 6 1-110 1 81 1 102 1-27 1 2 1-7 1 100 1-18 1 75 1-131 1 64 1-42 1 15 1 14 1 41 1 40 1-123 1 67 1-265 1 78 1 106 1-73 1 88 1 57 1 70 1-147 1 85 1 5 1-81 1-76 1-28 1 198 1 0 1-56 1 28 1-108 1-30 1-61 1 86 1 29 1 26 1 26 1-130 1-3 1 24 1 35 1 58 1-6 1 5 1 34 1-121 1 60 1 4 1-14 1-116 1 63 1 50 1 64 1-78 1 4 1-57 1 62 1-53 1 48 1 39 1-1 1-17 1 18 1-46 1-48 1 144 1 30 1 18 1-99 1 80 1 4 1 83 1 0 1-76 1 74 1-29 1 52 1-41 1-32 1 31 1-22 1-41 1-51 1 29 1 85 1 5 1-82 1 7 1 140 1-26 1 65 1 13 1-130 1-16 1-48 1 31 1 2 1-28 1-34 1-68 1 59 1-29 1-60 1-27 1 19 1 0 1 80 1-24 1 110 1-127 1 26 1-48 1-41 1 0 1-2 1 11 1 44 1 88 1-55 1 14 1 90 1-132 1-118 1 17 1 179 1-64 1 81 1 48 1-30 1-99 1-284 1 219 1 5 1-21 1 7 1 114 1-83 1 62 1-44 1-139 1 95 1-28 1 55 1 14 1-42 1 45 1 27 1 12 1 50 1-21 1 7 1 10 1-6 1-83 1 105 1 9 1-21 1-70 1 111 1-101 1-42 1 82 1 6 1 64 1 45 1-2 1 20 1 6 1-112 1 6 1 57 1 7 1-50 1-16 1-22 1-8 1 6 1-16 1 46 1-44 1 67 1-4 1-122 1-62 1 151 1-156 1 100 1-30 1 57 1 79 1-39 1 26 1-79 1 62 1 64 1 38 1-72 1-15 1-53 1-52 1 31 1-33 1-14 1 104 1-67 1 23 1-20 1-98 1 102 1 15 1 22 1 43 1 198 1-285 1 37 1 84 1-70 1 60 1-39 1-57 1 16 1 132 1-22 1-44 1 91 1-60 1-11 1 67 1 61 1-188 1-40 1-7 1-96 1 116 1-37 1 14 1-18 1-9 1 8 1 20 1 42 1 82 1-113 1 158 1-6 1 19 1 43 1 68 1-111 1 11 1-72 1-153 1 105 1-76 1-30 1 59 1-32 1 100 1-78 1 4 1 78 1-108 1 230 1-13 1 77 1-148 1-9 1-4 1-144 1 49 1-153 1 260 1-14 1-2 1 114 1-98 1-40 1 13 1 41 1-100 1-61 1 151 1-154 1-10 1 93 1-22 1-69 1 12 1-80 1 41 1 6 1-73 1 10 1 227 1-118 1 12 1 48 1-125 1-8 1-91 1 43 1-89 1 82 1 6 1-78 1 135 1-76 1 97 1-37 1 77 1-69 1 100 1-145 1 47 1-30 1 98 1 15 1 76 1-112 1-35 1 111 1-195 1-23 1 185 1-23 1-97 1 52 1-5 1-32 1-58 1 92 1-27 1-31 1 62 1 9 1 19 1 72 1 0 1 101 1-17 1-34 1-113 1 94 1 120 1-78 1-33 1-58 1 132 1 11 1-54 1-99 1 203 1 0 1-92 1-134 1 71 1 31 1-131 1-85 1-18 1 50 1 73 1-44 1 2 1-11 1 72 1 111 1 0 1-184 1 118 1-94 1 27 1 99 1 28 1-36 1 28 1-21 1 143 1-116 1 56 1-32 1-86 1 89 1-153 1 126 1 121 1-172 1 38 1-101 1 64 1 51 1-52 1 108 1 23 1-119 1-86 1-57 1 29 1 1 1 100 1-58 1 31 1 80 1-80 1 22 1 44 1 15 1 60 1-52 1-47 1-3 1-77 1-130 1 72 1-80 1 42 1-16 1 85 1-8 1 38 1 50 1-89 1 37 1 30 1 23 1-8 1 255 1-276 1 106 1-44 1 34 1 11 1-45 1 67 1-94 1 31 1 60 1 14 1 30 1-25 1-12 1 122 1-57 1-29 1-40 1-6 1 57 1 18 1-75 1 126 1-117 1 125 1-115 1-200 1 188 1-68 1 176 1-2 1 33 1-170 1 22 1-29 1-65 1 103 1-67 1 18 1 145 1-145 1 106 1-55 1-80 1 40 1-102 1 163 1-25 1-117 1-93 1-20 1-16 1-16 1 4 1-85 1 74 1-7 1-118 1 23 1 113 1 12 1-44 1 129 1 33 1-70 1 15 1 24 1 13 1 85 1 47 1 51 1-69 1-106 1 26 1 87 1 22 1 91 1 39 1 4 1-141 1-28 1 12 1 80 1-152 1 97 1-91 1 8 1-62 1 27 1-44 1 25 1-7 1-60 1 84 1-42 1 25 1 111 1-24 1-66 1 54 1-81 1 62 1 71 1-120 1 37 1 76 1-65 1 46 1-122 1-58 1-17 1 130 1 46 1-74 1 56 1 69 1 12 1-15 1 72 1 18 1-110 1-97 1 10 1-38 1 151 1-120 1 24 1 47 1-120 1 44 1-61 1 112 1-10 1 38 1 25 1-45 1-37 1-16 1 66 1-57 1-187 1 192 1-45 1-30 1-13 1 77 1-104 1-4 1 22 1 26 1 353 1-432 1 119 1 123 1-22 1-6 1 26 1 34 1-81 1 130 1-35 1 61 1 43 1-94 1-11 1 34 1 46 1-85 1 32 1-95 1 76 1 34 1-45 1-159 1-13 1 187 1-75 1-63 1 129 1-53 1-51 1-48 1-121 1 170 1-76 1 86 1-28 1-220 1 126 1 119 1-112 1 32 1 55 1 92 1-233 1 43 1 37 1-114 1 127 1-1 1 15 1-84 1-61 1 90 1 5 1-43 1 206 1-334 1-43 1 42 1-36 1 50 1-29 1 132 1 66 1 118 1-65 1-26 1-2 1-142 1 26 1 102 1-34 1-84 1 139 1-119 1-63 1-48 1 29 1-53 1-6 1 1 1 16 1-9 1 56 1-53 1 23 1 70 1-79 1 41 1 52 1-41 1-67 1 86 1 104 1 82 1-50 1-56 1-36 1 127 1-112 1 107 1 32 1 9 1 37 1-52 1 35 1 16 1-11 1-97 1 27 1-3 1 48 1-17 1-18 1-4 1 13 1-29 1-8 1 360 1-272 1 25 1-9 1 21 1-75 1 55 1 72 1 17 1-46 1 86 1-66 1 68 1 35 1-218 1 103 1-39 1-61 1-84 1 115 1-44 1 1 1 1 1-15 1 57 1 43 1-85 1-54 1 82 1-13 1 1 1-51 1-19 1 31 1 81 1 14 1-21 1 67 1 62 1-96 1 21 1-193 1 62 1 48 1-13 1 123 1-22 1-64 1 17 1 85 1-70 1-110 1 137 1-18 1 0 1-11 1 27 1-91 1 46 1 35 1-90 1-9 1-22 1 8 1-87 1 116 1-60 1-94 1 43 1-55 1 10 1 2 1 118 1-58 1 92 1 2 1-27 1 18 1 77 1-121 1-137 1 91 1 84 1 65 1 138 1-69 1 61 1 76 1-93 1-7 1 2 1-60 1-9 1 34 1-29 1-108 1 131 1-25 1-118 1 129 1 66 1-170 1 173 1 75 1-51 1-113 1-87 1-61 1 58 1 67 1-121 1 83 1-77 1-31 1-86 1-34 1 107 1-8 1 83 1-29 1 16 1 81 1-133 1 34 1 6 1 4 1-69 1 3 1 52 1 48 1-42 1-66 1-21 1-48 1 65 1 44 1 47 1 24 1 55 1-14 1-108 1 78 1-76 1 6 1-38 1 72 1-104 1 68 1 61 1-61 1 67 1-175 1 146 1-67 1-24 1 4 1 70 1-53 1 2 1 46 1-59 1-8 1 83 1 80 1-116 1 89 1 23 1-13 1-24 1 31 1-149 1 84 1-69 1 92 1-108 1-23 1-73 1 45 1-69 1 263 1-75 1-70 1 95 1 2 1-14 1-38 1 16 1 39 1 95 1-182 1 36 1 135 1-101 1 69 1-27 1 108 1 18 1-1 1-43 1-59 1-29 1-51 1-130 1 156 1 54 1-113 1 75 1 55 1-22 1-26 1-204 1 115 1-25 1 18 1 14 1 103 1-141 1-33 1-7 1 29 1 3 1 14 1 99 1 57 1-123 1 10 1-10 1 4 1 27 1 19 1-59 1 60 1 14 1 12 1-43 1 124 1-142 1 104 1-69 1 40 1-44 1 44 1-129 1 62 1-102 1 61 1 7 1 37 1-105 1 82 1 54 1 66 1 3 1-59 1-24 1-38 1 119 1-115 1 23 1 94 1-67 1-74 1 74 1-82 1 54 1 132 1-67 1-71 1 24 1 20 1 72 1-56 1 26 1-60 1 8 1 121 1-171 1 19 1-63 1 31 1-210 1 185 1-32 1 125 1-142 1 67 1-109 1 45 1-90 1 328 1-126 1 39 1 73 1 15 1-271 1 113 1 8 1 3 1 9 1-46 1-112 1-68 1 2 1-23 1 34 1 80 1-105 1 71 1 24 1-92 1 54 1 109 1-41 1-68 1 107 1-127 1 184 1-82 1-50 1 144 1-10 1-11 1 40 1-45 1-138 1 146 1 54 1 19 1-133 1 65 1-77 1 110 1-30 1 113 1-181 1 0 1 40 1-131 1 117 1 3 1-101 1 93 1-12 1-64 1 119 1-83 1 49 1 39 1 16 1-70 1 5 1 84 1-49 1 7 1 4 1-94 1-35 1 170 1-145 1 127 1-151 1 9 1 12 1-13 1-11 1 18 1-69 1 44 1-43 1 69 1 35 1 16 1 36 1-27 1-43 1 21 1 24 1-4 1-14 1-91 1 160 1-51 1 3 1 54 1-60 1-30 1-18 1-16 1 60 1 39 1 72 1-41 1 67 1-125 1 59 1 33 1-1 1-43 1-68 1 57 1-81 1 62 1 97 1-99 1 173 1 7 1-112 1-11 1 69 1-15 1 19 1-44 1-58 1 46 1 4 1-52 1 67 1-49 1-93 1 112 1 131 1-92 1 32 1-5 1 68 1-86 1 32 1 1 1-54 1 133 1 19 1-47 1-84 1 12 1-55 1 40 1 134 1-90 1-7 1-81 1-8 1-43 1 33 1 12 1 24 1 38 1-91 1 72 1 90 1-10 1-78 1 179 1-154 1 9 1 27 1-132 1 174 1-84 1-54 1 55 1-47 1-33 1 76 1-85 1 30 1 31 1 49 1-88 1 43 1 140 1-81 1 31 1-104 1-6 1-102 1 124 1 130 1-176 1 44 1-28 1-65 1 33 1-16 1-106 1 135 1 4 1-17 1 32 1-207 1 84 1 28 1-50 1 72 1-45 1 8 1 47 1 53 1 84 1-29 1-67 1 16 1-101 1 196 1-111 1 105 1-45 1-13 1-83 1 175 1-80 1 8 1 12 1-72 1 13 1 88 1-27 1-56"/></g>
<line x1="61.1" y1="445.1" x2="667.5" y2="445.1" stroke="#000" stroke-width="3.2" stroke-dasharray="12.7 13.4"/>
<line x1="61.1" y1="581.8" x2="667.5" y2="581.8" stroke="#000" stroke-width="3.2" stroke-dasharray="12.7 13.4"/>
<text x="56.3" y="362.20" text-anchor="end" font-size="16" fill="#262626">0.03</text>
<text x="56.3" y="414.75" text-anchor="end" font-size="16" fill="#262626">0.02</text>
<text x="56.3" y="467.30" text-anchor="end" font-size="16" fill="#262626">0.01</text>
<text x="56.3" y="519.85" text-anchor="end" font-size="16" fill="#262626">0</text>
<text x="56.3" y="572.40" text-anchor="end" font-size="16" fill="#262626">-0.01</text>
<text x="56.3" y="624.95" text-anchor="end" font-size="16" fill="#262626">-0.02</text>
<text x="56.3" y="677.50" text-anchor="end" font-size="16" fill="#262626">-0.03</text>
<text x="61.00" y="692.70" text-anchor="middle" font-size="16" fill="#262626">1976</text>
<text x="241.66" y="692.70" text-anchor="middle" font-size="16" fill="#262626">1990</text>
<text x="370.70" y="692.70" text-anchor="middle" font-size="16" fill="#262626">2000</text>
<text x="499.74" y="692.70" text-anchor="middle" font-size="16" fill="#262626">2010</text>
<text x="667.50" y="692.70" text-anchor="middle" font-size="16" fill="#262626">2023</text>
<text transform="translate(13.3,513.5) rotate(-90)" text-anchor="middle" font-size="18" fill="#262626">OAM mass GFZ-SYRTE [ms]</text>
<text x="69.85" y="395.7" font-size="39" fill="#000" textLength="47" lengthAdjust="spacingAndGlyphs">(b)</text>
<text x="364" y="714.5" text-anchor="middle" font-size="18" fill="#262626">time [year]</text>
</svg></body></html>
